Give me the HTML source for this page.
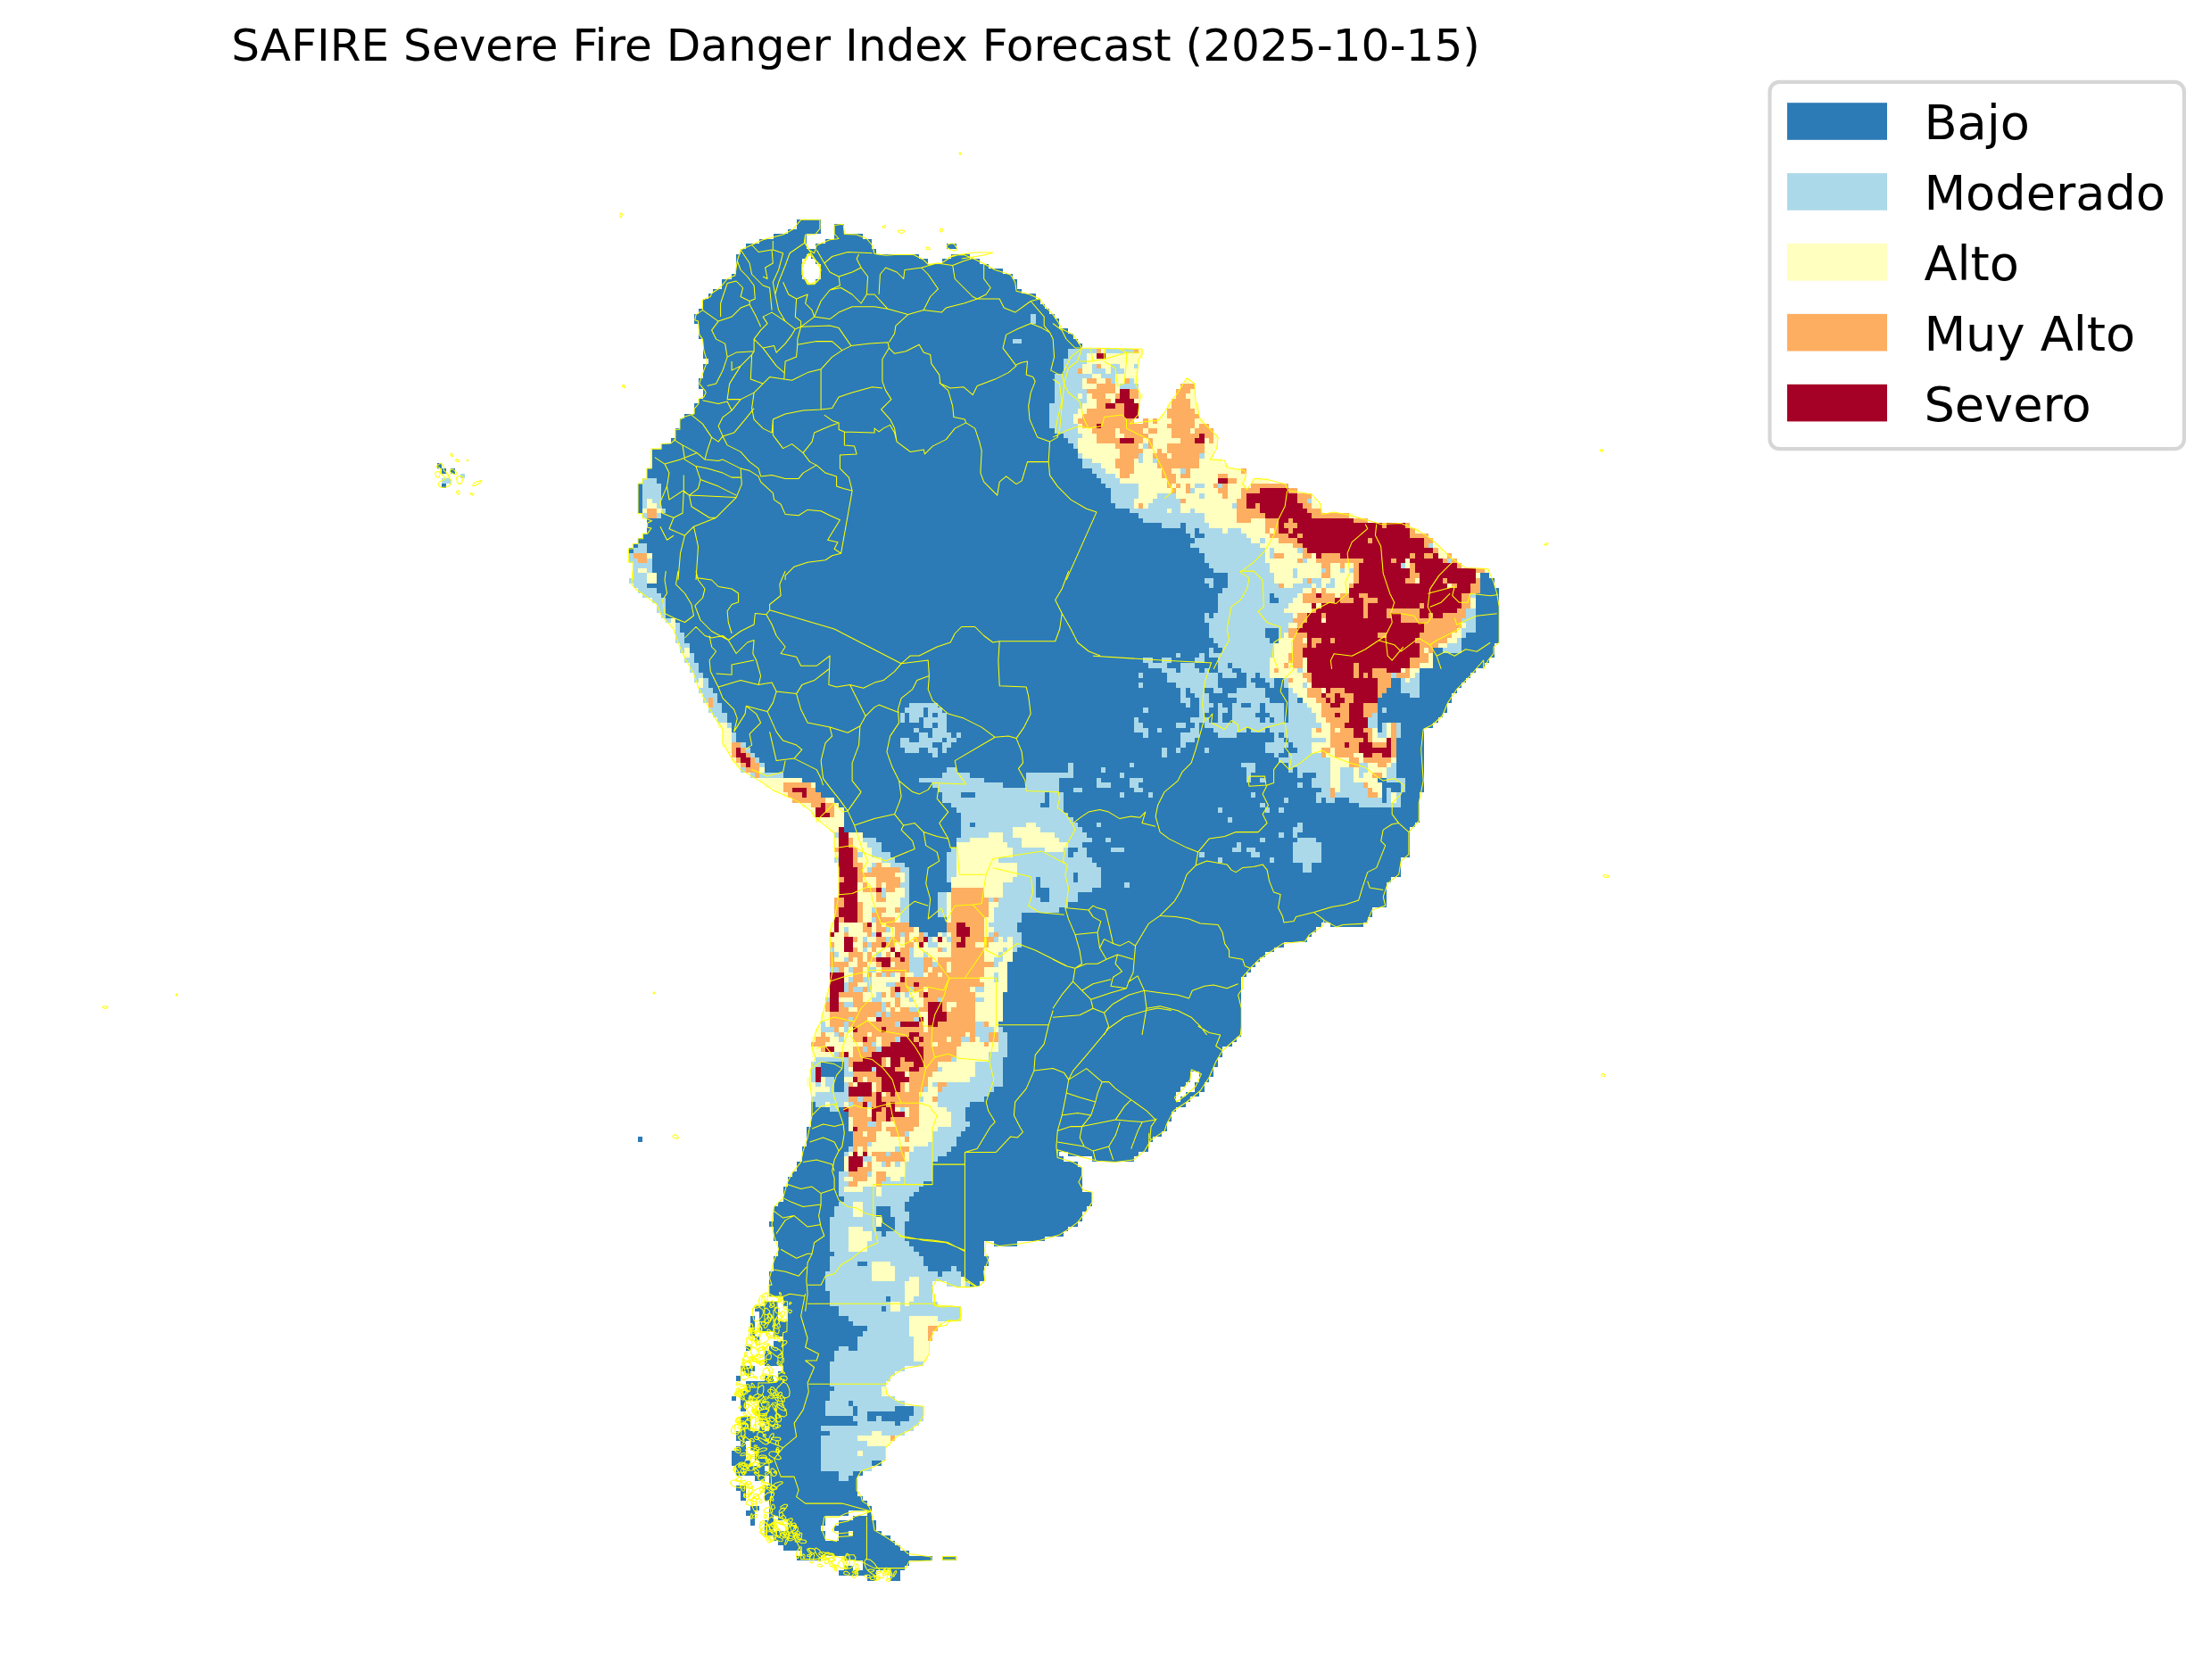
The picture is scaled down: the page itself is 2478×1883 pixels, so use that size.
<!DOCTYPE html>
<html lang="es"><head><meta charset="utf-8"><title>SAFIRE Severe Fire Danger Index Forecast</title>
<style>
html,body{margin:0;padding:0;background:#fff}
body{width:2478px;height:1883px;overflow:hidden}
svg{display:block}
text{font-family:"DejaVu Sans","Liberation Sans",sans-serif;fill:#000}
</style></head><body>
<svg width="2478" height="1883" viewBox="0 0 2478 1883">
<rect width="2478" height="1883" fill="#fff"/>
<g shape-rendering="crispEdges">
<path fill="#2c7bb6" d="M893 246h27v11h-27zM935 251h11v11h-11zM883 257h37v5h-37zM867 262h37v6h-37zM935 262h32v6h-32zM851 268h53v5h-53zM925 268h52v5h-52zM914 273h63v6h-63zM1061 273h11v6h-11zM836 273h68v6h-68zM830 279h152v6h-152zM825 285h79v5h-79zM1066 285h21v5h-21zM909 285h121v5h-121zM1056 290h42v6h-42zM914 290h126v6h-126zM920 296h188v5h-188zM825 290h74v17h-74zM920 301h204v6h-204zM920 307h215v6h-215zM820 307h79v6h-79zM809 313h95v5h-95zM914 313h226v5h-226zM809 318h331v6h-331zM799 324h346v5h-346zM794 329h367v6h-367zM788 335h378v6h-378zM788 341h383v5h-383zM783 346h393v6h-393zM778 352h404v5h-404zM778 357h409v6h-409zM783 363h404v5h-404zM783 368h414v6h-414zM783 374h420v6h-420zM788 380h420v5h-420zM788 385h425v6h-425zM788 391h493v11h-493zM794 402h482v6h-482zM788 408h488v16h-488zM1329 424h5v6h-5zM783 424h493v12h-493zM1323 430h16v6h-16zM788 436h488v5h-488zM1318 436h21v11h-21zM788 441h493v6h-493zM783 447h493v5h-493zM1313 447h26v5h-26zM1308 452h36v12h-36zM778 452h498v12h-498zM1302 464h42v5h-42zM767 464h509v5h-509zM762 469h509v6h-509zM1281 469h69v6h-69zM762 475h593v5h-593zM757 480h603v6h-603zM757 486h608v5h-608zM752 491h613v6h-613zM741 497h624v6h-624zM731 503h629v11h-629zM731 514h639v5h-639zM731 519h645v6h-645zM490 519h5v6h-5zM495 525h5v6h-5zM505 525h5v6h-5zM725 525h672v11h-672zM500 531h5v5h-5zM516 531h5v5h-5zM1402 536h21v6h-21zM720 536h677v6h-677zM495 536h10v6h-10zM715 542h682v5h-682zM495 542h5v5h-5zM1402 542h42v5h-42zM715 547h739v6h-739zM715 553h755v6h-755zM715 559h760v5h-760zM715 564h766v11h-766zM720 575h797v6h-797zM725 581h808v5h-808zM725 586h855v6h-855zM725 592h866v6h-866zM720 598h881v5h-881zM715 603h891v6h-891zM710 609h902v5h-902zM705 614h912v6h-912zM705 620h922v6h-922zM705 626h928v5h-928zM710 631h928v6h-928zM710 637h959v11h-959zM705 648h970v6h-970zM710 654h965v5h-965zM715 659h965v6h-965zM720 665h960v5h-960zM731 670h949v6h-949zM736 676h944v11h-944zM741 687h939v6h-939zM746 693h934v5h-934zM752 698h928v6h-928zM757 704h923v17h-923zM762 721h913v11h-913zM767 732h908v5h-908zM767 737h902v6h-902zM773 743h891v6h-891zM773 749h881v5h-881zM778 754h870v6h-870zM778 760h865v5h-865zM783 765h855v6h-855zM783 771h850v6h-850zM788 777h839v11h-839zM794 788h828v11h-828zM799 799h818v5h-818zM804 804h808v6h-808zM804 810h802v6h-802zM809 816h787v22h-787zM815 838h781v6h-781zM820 844h776v11h-776zM825 855h771v5h-771zM830 860h766v6h-766zM841 866h755v6h-755zM851 872h745v5h-745zM857 877h739v6h-739zM867 883h729v5h-729zM878 888h713v6h-713zM888 894h703v6h-703zM899 900h692v5h-692zM909 905h682v11h-682zM914 916h677v6h-677zM925 922h661v5h-661zM930 927h650v6h-650zM935 933h645v28h-645zM935 961h635v6h-635zM940 967h630v16h-630zM940 983h619v6h-619zM940 989h614v17h-614zM935 1006h619v11h-619zM935 1017h603v11h-603zM935 1028h598v6h-598zM930 1034h551v5h-551zM1491 1034h37v5h-37zM930 1039h545v6h-545zM930 1045h540v5h-540zM930 1050h535v6h-535zM930 1056h509v6h-509zM930 1062h498v5h-498zM930 1067h488v6h-488zM930 1073h482v5h-482zM930 1078h477v6h-477zM930 1084h472v6h-472zM930 1090h467v5h-467zM930 1095h461v17h-461zM925 1112h466v22h-466zM920 1134h471v17h-471zM914 1151h477v11h-477zM909 1162h477v6h-477zM909 1168h472v5h-472zM909 1173h461v12h-461zM914 1185h451v5h-451zM909 1190h456v6h-456zM909 1196h451v5h-451zM1344 1201h16v6h-16zM909 1201h425v6h-425zM1344 1207h11v6h-11zM904 1207h430v6h-430zM904 1213h425v5h-425zM1339 1213h11v11h-11zM909 1218h414v6h-414zM1329 1224h15v5h-15zM909 1224h409v11h-409zM1323 1229h11v6h-11zM909 1235h420v6h-420zM909 1241h409v5h-409zM909 1246h404v11h-404zM909 1257h399v6h-399zM904 1263h404v5h-404zM904 1268h398v6h-398zM715 1274h5v6h-5zM904 1274h388v6h-388zM904 1280h383v5h-383zM899 1285h388v6h-388zM1197 1291h79v5h-79zM899 1291h288v5h-288zM899 1296h293v6h-293zM1224 1296h47v6h-47zM893 1302h315v6h-315zM893 1308h320v5h-320zM888 1313h325v6h-325zM883 1319h330v11h-330zM878 1330h335v6h-335zM878 1336h346v11h-346zM872 1347h352v5h-352zM867 1352h351v6h-351zM867 1358h346v11h-346zM862 1369h346v6h-346zM867 1375h330v5h-330zM867 1380h325v6h-325zM867 1386h304v5h-304zM1114 1391h26v6h-26zM872 1391h231v17h-231zM867 1408h241v11h-241zM867 1419h236v6h-236zM862 1425h241v11h-241zM1061 1436h37v6h-37zM862 1436h183v17h-183zM878 1453h167v6h-167zM857 1459h15v5h-15zM878 1459h173v5h-173zM846 1464h26v6h-26zM883 1464h194v17h-194zM851 1470h21v11h-21zM851 1481h205v5h-205zM851 1486h200v6h-200zM841 1475h5v23h-5zM867 1492h178v6h-178zM846 1498h5v5h-5zM878 1498h167v5h-167zM867 1503h173v6h-173zM862 1509h178v5h-178zM836 1509h5v5h-5zM857 1514h183v12h-183zM857 1526h178v5h-178zM878 1531h136v6h-136zM830 1531h16v6h-16zM836 1537h5v5h-5zM872 1537h131v5h-131zM857 1542h10v6h-10zM872 1542h126v6h-126zM825 1542h5v6h-5zM836 1548h157v11h-157zM830 1559h163v6h-163zM820 1565h5v5h-5zM830 1565h173v5h-173zM851 1570h163v6h-163zM830 1570h6v12h-6zM851 1576h184v6h-184zM846 1582h189v5h-189zM851 1587h184v6h-184zM857 1593h173v5h-173zM830 1587h11v17h-11zM862 1598h162v6h-162zM851 1598h6v6h-6zM825 1604h189v5h-189zM825 1609h178v6h-178zM830 1615h6v6h-6zM841 1615h157v6h-157zM825 1621h11v5h-11zM841 1621h152v5h-152zM820 1626h16v11h-16zM846 1626h147v11h-147zM851 1637h137v6h-137zM820 1637h21v6h-21zM862 1643h115v6h-115zM825 1643h32v6h-32zM825 1649h142v5h-142zM846 1654h11v6h-11zM862 1654h99v11h-99zM825 1665h11v6h-11zM857 1665h104v12h-104zM830 1671h6v11h-6zM857 1677h110v5h-110zM862 1682h110v6h-110zM862 1688h115v5h-115zM841 1688h10v5h-10zM836 1693h10v6h-10zM972 1693h5v6h-5zM862 1693h89v6h-89zM872 1699h53v5h-53zM862 1699h5v5h-5zM956 1699h21v5h-21zM841 1699h5v11h-5zM883 1704h42v6h-42zM940 1704h42v6h-42zM857 1704h10v12h-10zM935 1710h47v6h-47zM883 1710h37v6h-37zM857 1716h68v5h-68zM956 1716h32v5h-32zM940 1716h11v5h-11zM940 1721h58v6h-58zM867 1721h58v6h-58zM872 1727h131v5h-131zM878 1732h131v6h-131zM899 1738h120v6h-120zM1056 1744h16v5h-16zM946 1744h99v5h-99zM893 1744h27v5h-27zM967 1749h52v6h-52zM946 1755h10v5h-10zM967 1755h47v5h-47zM940 1760h42v6h-42zM998 1760h11v12h-11zM972 1766h10v6h-10z"/>
<path fill="#abd9e9" d="M1155 352h6v11h-6zM1135 380h10v5h-10zM1197 391h32v5h-32zM1239 391h32v5h-32zM1197 396h21v6h-21zM1192 402h26v6h-26zM1224 408h5v5h-5zM1192 408h21v5h-21zM1271 408h5v5h-5zM1245 408h10v5h-10zM1192 413h16v6h-16zM1224 413h15v6h-15zM1245 413h15v6h-15zM1182 419h42v5h-42zM1234 419h16v5h-16zM1245 424h5v6h-5zM1266 424h5v6h-5zM1182 424h31v12h-31zM1255 430h21v6h-21zM1182 436h36v5h-36zM1213 441h5v6h-5zM1182 441h26v6h-26zM1182 447h36v5h-36zM1176 452h37v6h-37zM1176 458h32v6h-32zM1176 464h27v11h-27zM1176 475h32v5h-32zM1182 480h26v6h-26zM1192 486h21v5h-21zM1197 491h11v6h-11zM1281 497h6v6h-6zM1203 497h5v6h-5zM1208 508h5v6h-5zM1344 508h6v6h-6zM1276 508h5v11h-5zM1292 514h5v5h-5zM1213 514h11v5h-11zM1213 519h21v6h-21zM1224 525h15v6h-15zM1323 525h6v6h-6zM1229 531h21v5h-21zM516 531h5v5h-5zM720 536h16v6h-16zM495 536h10v6h-10zM1234 536h21v6h-21zM1239 542h37v5h-37zM1339 542h11v5h-11zM1365 542h5v5h-5zM1334 547h5v6h-5zM720 542h21v17h-21zM1245 547h31v12h-31zM1297 553h21v6h-21zM1344 553h6v6h-6zM1245 559h26v5h-26zM1465 559h5v5h-5zM731 559h10v5h-10zM1292 559h31v5h-31zM720 559h5v11h-5zM1250 564h21v6h-21zM736 564h5v6h-5zM1287 564h36v6h-36zM1381 564h5v6h-5zM1334 570h5v5h-5zM1266 570h42v5h-42zM1313 570h10v5h-10zM741 570h5v5h-5zM1276 575h74v6h-74zM736 575h5v6h-5zM720 575h5v6h-5zM1281 581h69v5h-69zM1302 586h21v6h-21zM1329 586h26v6h-26zM1376 592h15v6h-15zM1329 592h10v6h-10zM1344 592h26v6h-26zM1334 598h5v5h-5zM1350 598h47v5h-47zM1339 603h63v6h-63zM1412 603h6v6h-6zM1334 609h78v5h-78zM1601 609h5v5h-5zM715 609h10v5h-10zM710 614h15v6h-15zM1454 614h6v6h-6zM1344 614h74v6h-74zM1423 614h5v12h-5zM705 620h5v6h-5zM1350 620h68v11h-68zM705 626h10v5h-10zM725 626h6v5h-6zM1460 626h5v5h-5zM1622 626h5v5h-5zM1355 631h68v6h-68zM710 631h21v6h-21zM1570 631h5v6h-5zM1502 637h5v5h-5zM725 637h6v5h-6zM1512 637h5v5h-5zM710 637h5v5h-5zM1481 637h5v5h-5zM1360 637h63v5h-63zM1449 637h5v11h-5zM710 642h15v6h-15zM1376 642h52v12h-52zM1460 648h5v6h-5zM1491 648h5v6h-5zM705 648h20v6h-20zM1350 648h10v6h-10zM1470 648h11v6h-11zM710 654h15v5h-15zM1449 654h21v5h-21zM1376 654h57v5h-57zM1355 654h5v5h-5zM1475 654h6v5h-6zM1486 654h10v5h-10zM1370 659h90v6h-90zM715 659h21v6h-21zM1428 665h26v5h-26zM720 665h21v5h-21zM1648 665h6v5h-6zM1365 665h58v11h-58zM731 670h15v6h-15zM1433 670h16v6h-16zM1365 676h79v6h-79zM736 676h10v11h-10zM1365 682h74v5h-74zM1643 682h11v11h-11zM1360 687h89v6h-89zM1350 687h5v6h-5zM741 687h5v6h-5zM746 693h6v5h-6zM1350 693h99v5h-99zM1638 693h16v5h-16zM1643 698h11v6h-11zM1355 698h89v6h-89zM757 698h5v11h-5zM1433 704h11v5h-11zM1638 704h16v5h-16zM1355 704h63v11h-63zM1433 709h6v6h-6zM1638 709h5v6h-5zM757 709h10v12h-10zM1360 715h63v6h-63zM1633 715h5v6h-5zM1622 721h16v5h-16zM762 721h11v5h-11zM1365 721h63v5h-63zM762 726h5v6h-5zM1370 726h58v6h-58zM1617 726h21v6h-21zM1355 726h5v6h-5zM1318 732h5v5h-5zM773 732h5v5h-5zM1355 732h73v5h-73zM1344 732h6v5h-6zM1339 737h11v6h-11zM1281 737h11v6h-11zM1302 737h11v6h-11zM767 737h11v6h-11zM1365 737h58v6h-58zM1287 743h21v6h-21zM1381 743h42v6h-42zM1323 743h16v6h-16zM1365 743h11v6h-11zM773 743h10v11h-10zM1302 749h16v5h-16zM1454 749h6v5h-6zM1323 749h21v5h-21zM1365 749h16v5h-16zM1391 749h32v5h-32zM1350 749h5v5h-5zM1586 754h5v6h-5zM1276 754h5v6h-5zM778 754h10v6h-10zM1559 754h6v6h-6zM1397 754h10v6h-10zM1370 754h16v6h-16zM1412 754h11v6h-11zM1308 754h57v11h-57zM1418 760h10v5h-10zM1570 760h5v5h-5zM778 760h5v5h-5zM1397 760h5v5h-5zM1580 760h11v5h-11zM788 760h6v11h-6zM1439 760h5v11h-5zM1318 765h47v6h-47zM1460 765h5v6h-5zM1276 765h5v6h-5zM1397 765h10v6h-10zM1423 765h5v6h-5zM1570 765h21v12h-21zM1360 771h10v6h-10zM1334 771h16v6h-16zM1386 771h32v6h-32zM1444 771h5v6h-5zM783 771h16v6h-16zM1323 771h6v11h-6zM1376 777h42v5h-42zM1339 777h16v5h-16zM788 777h16v5h-16zM1580 777h11v5h-11zM1444 777h10v11h-10zM1323 782h11v6h-11zM788 782h6v6h-6zM799 782h5v6h-5zM1344 782h11v6h-11zM1386 782h37v6h-37zM799 788h10v5h-10zM1365 788h5v5h-5zM1329 788h5v5h-5zM1444 788h21v5h-21zM1344 788h16v5h-16zM1402 788h10v5h-10zM1381 788h10v5h-10zM1019 788h32v5h-32zM1418 788h21v11h-21zM1549 793h5v6h-5zM1381 793h31v6h-31zM794 793h15v6h-15zM1040 793h16v6h-16zM1344 793h11v6h-11zM1365 793h11v6h-11zM1281 793h6v6h-6zM1444 793h26v6h-26zM1014 793h21v6h-21zM1423 799h16v5h-16zM1040 799h5v5h-5zM1051 799h10v5h-10zM1019 799h16v5h-16zM1381 799h26v5h-26zM799 799h16v5h-16zM1538 799h6v5h-6zM1344 799h6v5h-6zM1009 799h5v11h-5zM1365 799h5v11h-5zM1444 799h31v11h-31zM1334 804h21v6h-21zM1428 804h11v6h-11zM1035 804h26v6h-26zM1381 804h31v6h-31zM1271 804h5v6h-5zM1418 804h5v6h-5zM1019 804h11v6h-11zM804 804h11v6h-11zM1533 804h11v12h-11zM1035 810h10v6h-10zM1318 810h11v6h-11zM1271 810h10v6h-10zM1350 810h131v6h-131zM1051 810h10v6h-10zM815 810h5v6h-5zM1339 810h5v6h-5zM1549 810h5v11h-5zM1045 816h16v5h-16zM1423 816h47v5h-47zM1360 816h37v5h-37zM1402 816h16v5h-16zM1334 816h10v5h-10zM1271 816h16v5h-16zM1024 816h6v5h-6zM1297 816h5v5h-5zM1565 810h5v17h-5zM1365 821h21v6h-21zM1439 821h31v6h-31zM1072 821h5v6h-5zM1428 821h5v6h-5zM1323 821h21v6h-21zM1045 821h21v6h-21zM1030 821h10v6h-10zM1281 821h6v6h-6zM1544 821h10v6h-10zM820 821h5v11h-5zM1444 827h42v5h-42zM1428 827h11v5h-11zM1061 827h11v5h-11zM1009 827h10v5h-10zM1323 827h16v5h-16zM1030 827h26v5h-26zM830 832h6v6h-6zM1449 832h21v6h-21zM1009 832h36v6h-36zM1418 832h26v6h-26zM1323 832h6v6h-6zM1056 832h10v6h-10zM1040 838h11v6h-11zM1014 838h16v6h-16zM1056 838h5v6h-5zM836 838h5v6h-5zM1318 838h5v6h-5zM1418 838h21v6h-21zM1454 838h16v6h-16zM1350 838h5v6h-5zM1302 838h6v11h-6zM841 844h5v5h-5zM1428 844h5v5h-5zM1444 844h37v5h-37zM1045 844h6v5h-6zM846 849h5v6h-5zM1433 849h58v6h-58zM1391 855h16v5h-16zM1559 855h6v5h-6zM851 855h6v5h-6zM1444 855h47v5h-47zM1266 855h5v5h-5zM1523 855h10v11h-10zM1197 855h6v11h-6zM830 860h6v6h-6zM1444 860h5v6h-5zM1234 860h5v6h-5zM1397 860h10v6h-10zM1061 860h11v6h-11zM1454 860h37v6h-37zM1554 860h11v12h-11zM841 866h5v6h-5zM1454 866h6v6h-6zM1255 866h5v6h-5zM851 866h27v6h-27zM1523 866h5v6h-5zM1056 866h31v6h-31zM1150 866h53v6h-53zM1475 866h16v6h-16zM1502 860h15v17h-15zM1397 866h5v11h-5zM1030 872h73v5h-73zM1412 872h6v5h-6zM1266 872h15v5h-15zM1229 872h5v5h-5zM1554 872h21v5h-21zM1470 872h21v11h-21zM1150 872h37v11h-37zM1045 877h79v6h-79zM1454 877h6v6h-6zM1266 877h10v6h-10zM1502 877h26v6h-26zM1229 877h16v6h-16zM1570 877h5v11h-5zM1502 883h31v5h-31zM1271 883h10v5h-10zM1203 883h10v5h-10zM1481 883h10v5h-10zM1051 883h136v5h-136zM1496 888h37v6h-37zM1093 888h78v6h-78zM1056 888h21v6h-21zM1255 888h5v6h-5zM1287 888h5v6h-5zM1475 888h16v6h-16zM1402 888h5v6h-5zM1554 883h5v17h-5zM1565 888h5v12h-5zM1512 894h37v6h-37zM1475 894h6v6h-6zM1056 894h115v6h-115zM1486 894h10v6h-10zM1439 894h5v6h-5zM1176 888h16v17h-16zM1523 900h47v5h-47zM1066 900h100v5h-100zM1412 900h6v5h-6zM1433 905h6v6h-6zM1072 905h120v6h-120zM1418 905h5v6h-5zM1365 905h5v6h-5zM1077 911h120v5h-120zM1077 916h126v6h-126zM1376 916h5v6h-5zM1077 922h10v5h-10zM1093 922h57v5h-57zM1454 922h6v5h-6zM1229 922h5v5h-5zM1161 922h47v5h-47zM1166 927h47v6h-47zM1077 927h58v6h-58zM1449 927h11v6h-11zM1124 933h11v6h-11zM1449 933h5v6h-5zM935 933h5v6h-5zM1077 933h31v6h-31zM1433 933h6v6h-6zM1182 933h36v6h-36zM967 939h15v5h-15zM1412 939h6v5h-6zM1124 939h21v5h-21zM1239 939h6v5h-6zM1454 939h21v5h-21zM1187 939h37v5h-37zM1072 939h15v5h-15zM1197 944h16v6h-16zM1129 944h16v6h-16zM972 944h16v6h-16zM1386 944h5v6h-5zM1245 950h15v5h-15zM1192 950h5v5h-5zM1135 950h36v5h-36zM1397 950h10v5h-10zM977 950h11v5h-11zM1066 950h6v5h-6zM1381 950h10v5h-10zM1208 950h10v5h-10zM1135 955h62v6h-62zM977 955h21v6h-21zM1203 955h15v6h-15zM1402 955h10v6h-10zM1344 955h6v6h-6zM961 955h6v6h-6zM1449 944h32v23h-32zM1365 961h5v6h-5zM935 961h5v6h-5zM1119 961h105v6h-105zM1423 961h5v6h-5zM988 961h15v6h-15zM998 967h16v5h-16zM1140 967h89v5h-89zM977 967h5v5h-5zM1460 967h10v11h-10zM972 972h5v6h-5zM1140 972h94v6h-94zM1009 972h10v6h-10zM1061 955h11v28h-11zM1140 978h63v5h-63zM1208 978h26v11h-26zM1014 978h5v11h-5zM1166 983h37v6h-37zM1135 983h26v6h-26zM1061 983h5v6h-5zM1009 989h10v6h-10zM1260 989h6v6h-6zM1166 989h68v6h-68zM1176 995h48v5h-48zM1124 989h37v17h-37zM1014 995h5v11h-5zM988 995h5v11h-5zM1176 1000h32v11h-32zM1108 1006h6v5h-6zM1119 1006h47v5h-47zM1119 1011h78v6h-78zM977 1017h5v6h-5zM1114 1017h73v6h-73zM1051 1000h10v28h-10zM1009 1006h10v28h-10zM1114 1023h31v11h-31zM977 1028h5v6h-5zM1108 1034h32v5h-32zM993 1039h5v6h-5zM946 1039h5v6h-5zM1114 1039h26v6h-26zM1108 1045h6v5h-6zM1056 1045h5v5h-5zM1009 1045h5v5h-5zM1119 1045h26v5h-26zM1035 1045h5v5h-5zM977 1045h5v5h-5zM1114 1050h5v6h-5zM1124 1050h5v6h-5zM993 1050h5v6h-5zM1040 1050h5v6h-5zM967 1050h5v6h-5zM1061 1050h5v6h-5zM1135 1050h10v12h-10zM972 1056h5v6h-5zM1040 1056h11v6h-11zM1056 1062h5v5h-5zM1124 1062h5v5h-5zM1135 1062h5v5h-5zM967 1062h5v5h-5zM930 1062h5v5h-5zM1019 1062h5v11h-5zM935 1067h5v6h-5zM1035 1067h5v6h-5zM1119 1067h5v6h-5zM982 1067h6v6h-6zM946 1073h5v5h-5zM1114 1073h10v5h-10zM1114 1078h5v6h-5zM1045 1078h6v6h-6zM1019 1073h16v17h-16zM951 1084h5v6h-5zM972 1084h10v6h-10zM930 1084h10v6h-10zM988 1090h5v5h-5zM998 1090h5v5h-5zM1024 1090h11v5h-11zM1114 1090h5v11h-5zM967 1095h10v6h-10zM951 1095h5v6h-5zM993 1101h10v5h-10zM972 1101h5v11h-5zM946 1101h5v11h-5zM1093 1106h10v6h-10zM1019 1106h5v6h-5zM956 1106h11v6h-11zM982 1112h6v6h-6zM1014 1112h5v6h-5zM1003 1112h6v6h-6zM925 1118h5v5h-5zM1093 1118h10v5h-10zM1019 1118h5v5h-5zM977 1118h11v5h-11zM1051 1118h5v5h-5zM946 1123h10v6h-10zM988 1123h5v11h-5zM1019 1129h11v5h-11zM982 1134h6v6h-6zM993 1134h5v6h-5zM1024 1140h6v5h-6zM951 1140h5v5h-5zM1003 1145h6v6h-6zM920 1145h5v6h-5zM1093 1145h10v6h-10zM946 1145h5v12h-5zM1093 1151h21v6h-21zM1119 1151h5v6h-5zM920 1151h15v6h-15zM935 1157h5v5h-5zM1093 1157h15v5h-15zM1077 1162h10v6h-10zM1003 1162h6v6h-6zM940 1162h6v6h-6zM1098 1162h10v6h-10zM977 1168h5v5h-5zM1119 1157h10v22h-10zM982 1173h6v6h-6zM967 1173h5v6h-5zM935 1179h5v6h-5zM1108 1179h21v6h-21zM914 1185h37v5h-37zM1108 1185h16v5h-16zM1066 1185h6v5h-6zM909 1190h11v6h-11zM946 1190h5v11h-5zM1051 1196h5v5h-5zM977 1196h5v5h-5zM1093 1190h31v17h-31zM946 1201h10v6h-10zM909 1196h5v17h-5zM1087 1207h37v6h-37zM925 1207h10v11h-10zM914 1213h6v5h-6zM1061 1213h63v5h-63zM1045 1213h6v5h-6zM946 1213h5v11h-5zM1035 1218h5v6h-5zM930 1218h5v6h-5zM1056 1218h58v6h-58zM914 1224h37v5h-37zM1051 1224h57v5h-57zM1030 1229h5v6h-5zM1051 1229h52v6h-52zM909 1229h42v6h-42zM961 1229h6v6h-6zM1051 1235h36v6h-36zM930 1235h16v6h-16zM972 1235h5v6h-5zM914 1235h11v6h-11zM951 1235h5v6h-5zM1061 1241h21v5h-21zM1009 1241h5v5h-5zM930 1241h10v5h-10zM1066 1246h16v11h-16zM972 1257h10v6h-10zM1066 1257h21v6h-21zM1051 1263h31v5h-31zM1014 1268h5v6h-5zM1045 1268h32v6h-32zM1045 1274h27v6h-27zM972 1280h5v5h-5zM1040 1280h32v5h-32zM1003 1285h6v6h-6zM1024 1285h42v6h-42zM951 1285h5v6h-5zM993 1291h5v5h-5zM946 1291h5v5h-5zM1019 1291h42v5h-42zM967 1296h10v6h-10zM1019 1296h32v6h-32zM1003 1302h6v6h-6zM988 1302h5v6h-5zM1014 1302h31v17h-31zM972 1313h5v6h-5zM940 1313h11v6h-11zM993 1319h5v5h-5zM940 1319h6v5h-6zM1009 1319h36v5h-36zM988 1324h47v6h-47zM940 1324h11v6h-11zM940 1330h6v6h-6zM967 1330h15v6h-15zM988 1330h42v6h-42zM988 1336h36v5h-36zM940 1336h42v5h-42zM946 1341h73v6h-73zM940 1347h16v5h-16zM967 1347h47v5h-47zM998 1352h16v6h-16zM967 1352h15v12h-15zM935 1352h21v12h-21zM998 1358h21v6h-21zM1003 1364h16v5h-16zM930 1364h52v11h-52zM1003 1369h11v11h-11zM967 1375h15v5h-15zM993 1380h21v6h-21zM977 1380h11v6h-11zM977 1386h37v5h-37zM972 1391h47v6h-47zM930 1375h21v28h-21zM972 1397h52v6h-52zM935 1403h95v5h-95zM930 1408h105v6h-105zM972 1414h5v5h-5zM930 1414h31v5h-31zM998 1414h37v5h-37zM930 1419h47v6h-47zM1003 1419h37v6h-37zM1066 1419h6v6h-6zM1056 1425h21v6h-21zM1003 1425h48v6h-48zM925 1425h52v11h-52zM1030 1431h47v5h-47zM1003 1431h16v5h-16zM1082 1436h5v6h-5zM1061 1436h16v6h-16zM925 1436h89v11h-89zM1030 1436h15v17h-15zM930 1447h84v6h-84zM998 1453h16v6h-16zM930 1453h63v6h-63zM1024 1453h21v6h-21zM1009 1459h5v5h-5zM930 1459h68v5h-68zM1019 1459h32v5h-32zM940 1464h48v6h-48zM993 1464h5v6h-5zM1009 1464h68v6h-68zM940 1470h137v5h-137zM951 1475h68v6h-68zM1051 1475h26v6h-26zM956 1481h63v5h-63zM972 1486h47v6h-47zM967 1492h52v6h-52zM961 1498h63v16h-63zM940 1509h11v5h-11zM935 1514h89v12h-89zM930 1526h105v5h-105zM930 1531h84v6h-84zM930 1537h73v5h-73zM930 1542h68v6h-68zM930 1548h63v6h-63zM935 1554h53v5h-53zM930 1559h58v6h-58zM930 1565h73v5h-73zM956 1570h58v6h-58zM925 1570h26v6h-26zM961 1576h42v6h-42zM925 1576h31v11h-31zM1024 1576h11v11h-11zM961 1582h11v5h-11zM982 1587h6v6h-6zM1019 1587h16v6h-16zM956 1587h16v6h-16zM961 1593h42v5h-42zM1009 1593h21v5h-21zM920 1598h104v6h-104zM930 1604h47v5h-47zM988 1604h26v5h-26zM920 1609h41v6h-41zM920 1615h52v6h-52zM920 1621h73v5h-73zM967 1626h26v6h-26zM920 1626h41v6h-41zM920 1632h73v5h-73zM920 1637h57v12h-57zM940 1649h16v5h-16zM940 1654h11v6h-11z"/>
<path fill="#ffffbf" d="M1234 391h5v5h-5zM1276 391h5v5h-5zM1218 396h11v6h-11zM1239 396h42v6h-42zM1218 402h58v6h-58zM1234 408h11v5h-11zM1255 408h16v5h-16zM1213 408h11v11h-11zM1260 413h16v6h-16zM1239 413h6v6h-6zM1224 419h10v5h-10zM1250 419h26v5h-26zM1213 424h5v6h-5zM1329 424h5v6h-5zM1271 424h5v6h-5zM1250 424h10v6h-10zM1229 424h10v6h-10zM1213 430h16v6h-16zM1250 430h5v11h-5zM1334 436h5v5h-5zM1239 441h11v6h-11zM1208 441h5v6h-5zM1276 441h5v6h-5zM1218 441h6v6h-6zM1329 441h10v6h-10zM1218 447h11v5h-11zM1271 447h5v5h-5zM1245 447h5v5h-5zM1334 447h5v5h-5zM1308 452h5v6h-5zM1213 452h16v6h-16zM1334 452h10v6h-10zM1339 458h5v6h-5zM1208 458h10v6h-10zM1203 464h10v5h-10zM1302 464h6v5h-6zM1297 469h16v6h-16zM1339 469h11v6h-11zM1287 469h5v6h-5zM1203 469h5v6h-5zM1339 475h5v5h-5zM1287 475h21v5h-21zM1208 475h5v5h-5zM1297 480h16v6h-16zM1208 480h16v6h-16zM1281 480h6v6h-6zM1334 480h5v6h-5zM1250 480h5v6h-5zM1250 486h10v5h-10zM1213 486h16v5h-16zM1287 486h26v5h-26zM1360 486h5v11h-5zM1208 491h21v6h-21zM1292 491h31v6h-31zM1281 491h6v6h-6zM1350 491h5v6h-5zM1292 497h16v6h-16zM1276 497h5v6h-5zM1350 497h15v6h-15zM1208 497h42v6h-42zM1208 503h47v5h-47zM1302 503h6v5h-6zM1281 503h16v5h-16zM1350 503h10v11h-10zM1308 508h5v6h-5zM1213 508h42v6h-42zM1281 508h11v11h-11zM1271 514h5v5h-5zM1344 514h26v5h-26zM1224 514h26v5h-26zM1344 519h32v6h-32zM1234 519h16v6h-16zM1271 519h26v6h-26zM1271 525h31v6h-31zM1239 525h16v6h-16zM1334 525h57v6h-57zM1313 525h10v6h-10zM500 531h5v5h-5zM1334 531h31v5h-31zM1376 531h21v5h-21zM1318 531h5v5h-5zM1266 531h36v5h-36zM1250 531h5v5h-5zM1255 536h53v6h-53zM1402 536h21v6h-21zM1386 536h11v6h-11zM1318 536h47v6h-47zM1313 542h5v5h-5zM1323 542h6v5h-6zM1350 542h10v5h-10zM1376 542h21v5h-21zM1276 542h32v5h-32zM1334 542h5v5h-5zM1318 547h11v6h-11zM1276 547h37v6h-37zM1339 547h26v6h-26zM1376 547h15v12h-15zM1276 553h21v6h-21zM1318 553h26v6h-26zM1350 553h20v6h-20zM1329 559h57v5h-57zM725 559h6v5h-6zM1271 559h21v5h-21zM1470 559h5v5h-5zM1323 564h58v6h-58zM1470 564h11v6h-11zM1271 564h5v6h-5zM725 564h11v6h-11zM1281 564h6v6h-6zM1308 570h5v5h-5zM736 570h5v5h-5zM1339 570h47v5h-47zM1323 570h11v5h-11zM720 570h5v5h-5zM1512 575h5v6h-5zM1350 575h36v11h-36zM1402 581h16v5h-16zM1355 586h63v6h-63zM1586 592h5v6h-5zM1391 592h27v6h-27zM1370 592h6v6h-6zM1423 592h5v6h-5zM1397 598h26v5h-26zM1418 603h15v6h-15zM1402 603h10v6h-10zM1412 609h37v5h-37zM1606 609h6v5h-6zM1428 614h26v6h-26zM1612 614h5v6h-5zM1418 614h5v12h-5zM725 620h6v6h-6zM1439 620h21v6h-21zM1470 620h5v6h-5zM1612 620h10v6h-10zM1465 626h10v5h-10zM1418 626h36v5h-36zM1575 626h5v11h-5zM1507 631h10v6h-10zM1423 631h58v6h-58zM1491 631h11v11h-11zM715 637h10v5h-10zM1507 637h5v5h-5zM1423 637h26v5h-26zM1664 637h5v5h-5zM1454 637h27v11h-27zM1491 642h26v6h-26zM1428 642h21v6h-21zM1654 642h5v6h-5zM725 642h11v12h-11zM1496 648h21v6h-21zM1481 648h10v6h-10zM1428 648h32v6h-32zM1586 648h5v6h-5zM1439 654h10v5h-10zM1496 654h16v5h-16zM1470 654h5v5h-5zM1481 654h5v5h-5zM1622 654h5v5h-5zM1460 659h10v6h-10zM1486 659h26v6h-26zM1475 659h6v6h-6zM1454 665h6v5h-6zM1496 665h6v5h-6zM1449 670h11v6h-11zM1648 670h6v12h-6zM1475 676h6v6h-6zM1444 676h26v6h-26zM1439 682h31v5h-31zM1449 687h5v6h-5zM1481 693h5v5h-5zM752 693h5v11h-5zM1444 698h10v6h-10zM1638 698h5v6h-5zM1633 704h5v5h-5zM1627 709h11v6h-11zM1439 709h5v6h-5zM1622 715h11v6h-11zM1433 715h16v6h-16zM1460 715h5v6h-5zM1612 721h10v5h-10zM1428 721h21v11h-21zM1596 726h5v6h-5zM767 726h6v11h-6zM1428 732h16v5h-16zM1601 732h5v11h-5zM1423 737h21v6h-21zM1444 743h5v6h-5zM1423 743h16v6h-16zM1591 743h15v6h-15zM1460 737h5v17h-5zM1570 749h5v5h-5zM1423 749h5v5h-5zM1580 749h11v5h-11zM1433 749h21v5h-21zM1423 754h37v6h-37zM1580 754h6v6h-6zM1449 760h16v5h-16zM1575 760h5v5h-5zM783 760h5v11h-5zM1444 765h16v6h-16zM1465 765h5v6h-5zM1449 771h16v6h-16zM1481 771h5v6h-5zM1454 777h11v5h-11zM1460 782h15v6h-15zM1465 788h16v5h-16zM1470 793h11v6h-11zM1475 799h6v5h-6zM1475 804h11v6h-11zM804 810h11v6h-11zM1481 810h10v11h-10zM1496 816h6v5h-6zM1470 816h5v5h-5zM1554 810h5v17h-5zM1538 816h6v11h-6zM1470 821h21v6h-21zM1486 827h5v5h-5zM1538 827h16v5h-16zM809 816h11v22h-11zM1470 832h21v6h-21zM1470 838h11v6h-11zM1491 838h5v6h-5zM815 838h5v6h-5zM1517 844h11v5h-11zM1486 844h10v5h-10zM1559 849h6v6h-6zM820 849h5v6h-5zM1523 849h5v6h-5zM1491 849h21v11h-21zM1533 855h11v5h-11zM1554 855h5v5h-5zM825 855h5v5h-5zM851 860h6v6h-6zM1533 860h21v6h-21zM1517 860h6v12h-6zM1528 866h10v6h-10zM1549 866h5v6h-5zM1517 872h27v5h-27zM851 872h48v5h-48zM1491 860h11v23h-11zM857 877h21v6h-21zM1533 877h16v6h-16zM909 877h5v6h-5zM1538 883h11v5h-11zM867 883h11v5h-11zM1496 883h6v5h-6zM878 888h5v6h-5zM1544 888h5v6h-5zM1559 888h6v12h-6zM925 894h10v6h-10zM935 900h5v5h-5zM899 900h10v5h-10zM935 905h11v11h-11zM909 905h5v11h-5zM914 916h32v6h-32zM925 922h21v5h-21zM1150 922h11v5h-11zM1135 927h31v6h-31zM930 927h10v6h-10zM951 933h16v6h-16zM1135 933h47v6h-47zM1108 933h16v6h-16zM1087 939h37v5h-37zM1145 939h42v5h-42zM956 939h11v5h-11zM935 939h5v11h-5zM1072 944h57v6h-57zM1145 944h52v6h-52zM956 944h16v6h-16zM961 950h16v5h-16zM1171 950h21v5h-21zM1072 950h63v11h-63zM935 955h5v6h-5zM967 955h10v6h-10zM961 961h27v6h-27zM1072 961h47v6h-47zM967 967h10v5h-10zM988 967h10v5h-10zM967 972h5v6h-5zM1072 967h68v16h-68zM1003 978h11v5h-11zM1066 983h69v6h-69zM1009 983h5v6h-5zM967 983h15v6h-15zM1066 989h58v6h-58zM972 989h10v6h-10zM988 989h5v6h-5zM961 989h6v11h-6zM1003 995h11v5h-11zM1103 995h21v11h-21zM993 1000h21v6h-21zM961 1000h21v11h-21zM993 1006h16v5h-16zM1108 1011h11v6h-11zM967 1011h42v6h-42zM993 1017h10v6h-10zM1108 1017h6v11h-6zM988 1023h21v5h-21zM1061 1000h5v34h-5zM967 1017h10v17h-10zM1003 1028h6v6h-6zM1103 1028h11v6h-11zM940 1034h27v5h-27zM988 1034h5v5h-5zM1103 1034h5v5h-5zM977 1034h5v11h-5zM930 1034h5v11h-5zM1024 1039h6v6h-6zM1103 1039h11v6h-11zM940 1039h6v6h-6zM998 1039h5v6h-5zM951 1039h16v6h-16zM951 1045h21v5h-21zM1103 1045h5v5h-5zM988 1045h15v5h-15zM1051 1045h5v5h-5zM1019 1045h11v5h-11zM1061 1045h5v5h-5zM935 1045h11v5h-11zM1129 1050h6v6h-6zM1009 1050h5v6h-5zM1056 1050h5v6h-5zM930 1050h16v6h-16zM1019 1050h5v6h-5zM1119 1050h5v6h-5zM1045 1050h6v6h-6zM972 1050h10v6h-10zM961 1050h6v6h-6zM1003 1056h11v6h-11zM1051 1056h15v6h-15zM1024 1056h6v6h-6zM1093 1056h10v6h-10zM1035 1056h5v6h-5zM1108 1056h27v6h-27zM956 1056h11v6h-11zM935 1056h11v11h-11zM982 1062h16v5h-16zM1129 1062h6v5h-6zM972 1062h5v5h-5zM1003 1062h6v5h-6zM1103 1062h21v5h-21zM1024 1062h27v5h-27zM1061 1062h5v5h-5zM961 1062h6v5h-6zM1103 1067h16v6h-16zM940 1067h11v6h-11zM988 1067h5v6h-5zM998 1067h5v6h-5zM1024 1067h11v6h-11zM977 1067h5v6h-5zM1040 1067h26v6h-26zM1124 1067h11v11h-11zM967 1067h5v11h-5zM1103 1073h11v5h-11zM956 1073h5v5h-5zM1045 1073h6v5h-6zM935 1073h11v5h-11zM1119 1078h10v6h-10zM951 1078h10v6h-10zM998 1078h5v6h-5zM972 1078h10v6h-10zM1061 1078h5v12h-5zM1040 1084h5v6h-5zM1103 1084h26v6h-26zM982 1084h6v6h-6zM946 1084h5v6h-5zM967 1084h5v11h-5zM1103 1090h11v5h-11zM1003 1090h6v5h-6zM946 1090h10v5h-10zM1035 1090h5v5h-5zM1014 1090h10v5h-10zM1051 1090h5v5h-5zM977 1090h5v5h-5zM1119 1090h10v11h-10zM946 1095h5v6h-5zM977 1095h32v6h-32zM1098 1095h16v6h-16zM961 1101h11v5h-11zM977 1101h16v5h-16zM1103 1101h26v11h-26zM1087 1106h6v6h-6zM977 1106h21v6h-21zM1035 1106h5v6h-5zM925 1112h5v6h-5zM1009 1112h5v6h-5zM967 1112h15v6h-15zM993 1112h5v6h-5zM1019 1112h11v6h-11zM1093 1112h31v6h-31zM1009 1118h10v5h-10zM988 1118h15v5h-15zM967 1118h10v5h-10zM1024 1118h11v5h-11zM940 1118h16v5h-16zM1103 1118h21v5h-21zM1061 1123h11v6h-11zM1009 1123h26v6h-26zM998 1123h5v6h-5zM951 1129h10v5h-10zM993 1129h5v5h-5zM1003 1129h6v5h-6zM1061 1129h5v5h-5zM1030 1134h10v6h-10zM1093 1123h31v22h-31zM920 1134h10v11h-10zM972 1140h10v5h-10zM925 1145h5v6h-5zM1108 1145h11v6h-11zM1035 1140h5v17h-5zM1114 1151h5v6h-5zM940 1151h6v6h-6zM951 1151h5v6h-5zM914 1151h6v11h-6zM972 1157h5v5h-5zM1082 1157h5v5h-5zM925 1157h10v5h-10zM946 1157h10v11h-10zM930 1162h10v6h-10zM1093 1162h5v6h-5zM1061 1162h5v6h-5zM909 1162h5v6h-5zM982 1162h6v11h-6zM1108 1168h11v5h-11zM1045 1168h6v5h-6zM925 1168h42v5h-42zM1077 1168h26v5h-26zM1072 1173h47v6h-47zM909 1173h11v6h-11zM935 1173h21v6h-21zM909 1179h26v6h-26zM951 1179h5v6h-5zM1072 1179h36v11h-36zM993 1185h5v11h-5zM1051 1190h42v6h-42zM1056 1196h37v5h-37zM951 1196h5v5h-5zM1045 1201h48v6h-48zM1014 1201h5v6h-5zM946 1207h10v6h-10zM904 1207h5v6h-5zM967 1207h5v6h-5zM1040 1207h47v6h-47zM920 1207h5v11h-5zM904 1213h10v5h-10zM1040 1213h5v5h-5zM956 1213h5v5h-5zM1014 1213h5v11h-5zM977 1213h5v11h-5zM909 1218h21v6h-21zM1040 1218h11v6h-11zM1030 1224h21v5h-21zM909 1224h5v5h-5zM988 1224h5v5h-5zM1035 1229h10v6h-10zM925 1235h5v6h-5zM946 1235h5v6h-5zM1030 1235h21v6h-21zM1003 1241h6v5h-6zM1030 1241h31v5h-31zM972 1241h5v11h-5zM1014 1241h5v11h-5zM1030 1246h36v17h-36zM988 1257h15v6h-15zM951 1252h5v16h-5zM1024 1263h27v5h-27zM988 1263h5v5h-5zM967 1268h5v6h-5zM982 1268h16v6h-16zM1019 1268h26v12h-26zM982 1274h32v6h-32zM977 1280h63v5h-63zM972 1285h31v6h-31zM1019 1285h5v6h-5zM961 1285h6v11h-6zM972 1291h5v5h-5zM951 1291h5v5h-5zM1014 1291h5v11h-5zM977 1296h5v6h-5zM1009 1302h5v6h-5zM977 1302h11v6h-11zM998 1302h5v6h-5zM967 1302h5v6h-5zM946 1296h5v17h-5zM977 1308h37v5h-37zM977 1313h5v6h-5zM993 1313h21v6h-21zM998 1319h11v5h-11zM972 1319h10v5h-10zM946 1319h10v5h-10zM961 1324h21v6h-21zM946 1330h21v6h-21zM982 1330h6v11h-6zM956 1347h11v17h-11zM982 1364h6v11h-6zM951 1375h16v5h-16zM951 1380h26v11h-26zM951 1391h21v12h-21zM977 1414h21v5h-21zM977 1419h26v17h-26zM1019 1431h11v5h-11zM1077 1431h5v11h-5zM1014 1436h16v17h-16zM1014 1453h10v6h-10zM1014 1459h5v5h-5zM998 1459h11v11h-11zM1019 1475h32v6h-32zM1019 1481h37v5h-37zM1019 1486h21v12h-21zM1024 1498h16v28h-16zM988 1554h5v11h-5zM977 1604h11v5h-11zM961 1609h37v6h-37zM972 1615h26v6h-26zM961 1626h6v6h-6z"/>
<path fill="#fdae61" d="M1271 391h5v5h-5zM1229 391h5v5h-5zM1229 408h5v5h-5zM1208 413h5v6h-5zM1218 424h11v6h-11zM1260 424h6v6h-6zM1239 424h6v6h-6zM1323 430h16v6h-16zM1229 430h21v6h-21zM1318 436h16v5h-16zM1218 436h32v5h-32zM1266 436h10v11h-10zM1318 441h11v6h-11zM1224 441h15v6h-15zM1250 441h5v6h-5zM1229 447h16v5h-16zM1313 447h21v11h-21zM1250 452h10v6h-10zM1229 452h10v6h-10zM1218 458h42v6h-42zM1308 458h31v6h-31zM1308 464h36v5h-36zM1213 464h47v5h-47zM1292 469h5v6h-5zM1313 469h26v6h-26zM1281 469h6v6h-6zM1208 469h63v6h-63zM1234 475h53v5h-53zM1213 475h16v5h-16zM1344 475h11v5h-11zM1308 475h31v5h-31zM1255 480h26v6h-26zM1224 480h26v6h-26zM1287 480h10v6h-10zM1313 480h21v6h-21zM1339 480h21v6h-21zM1313 486h31v5h-31zM1229 486h21v5h-21zM1350 486h10v5h-10zM1260 486h27v5h-27zM1229 491h26v6h-26zM1271 491h10v6h-10zM1355 491h5v6h-5zM1323 491h16v6h-16zM1287 491h5v12h-5zM1250 497h26v6h-26zM1308 497h42v11h-42zM1255 503h26v5h-26zM1297 503h5v5h-5zM1255 508h21v6h-21zM1313 508h31v6h-31zM1292 508h16v6h-16zM1297 514h47v11h-47zM1250 514h21v11h-21zM1329 525h5v6h-5zM1302 525h11v6h-11zM1391 525h6v6h-6zM1255 525h16v6h-16zM1365 531h11v5h-11zM1302 531h16v5h-16zM1323 531h11v5h-11zM1255 531h11v5h-11zM1308 536h10v6h-10zM1376 536h10v6h-10zM1308 542h5v5h-5zM1360 542h5v5h-5zM1370 542h6v5h-6zM1318 542h5v5h-5zM1402 542h42v5h-42zM1329 542h5v11h-5zM1444 547h10v6h-10zM1391 547h21v6h-21zM1313 547h5v6h-5zM1365 547h11v6h-11zM1454 553h16v6h-16zM1370 553h6v6h-6zM1391 553h6v6h-6zM1454 559h11v5h-11zM1323 559h6v5h-6zM1386 559h11v11h-11zM1407 564h5v6h-5zM1276 564h5v6h-5zM1460 564h10v6h-10zM1465 570h16v5h-16zM1386 570h26v5h-26zM725 570h11v11h-11zM1386 575h32v6h-32zM1470 575h42v6h-42zM1444 581h5v5h-5zM1517 581h16v5h-16zM1386 581h16v5h-16zM1418 581h15v11h-15zM1439 586h15v6h-15zM1549 586h5v6h-5zM1575 586h5v6h-5zM1428 592h5v6h-5zM1444 592h5v6h-5zM1580 592h6v6h-6zM1418 592h5v6h-5zM1423 598h21v5h-21zM1454 598h6v5h-6zM1580 598h21v5h-21zM1596 603h10v6h-10zM1533 603h5v6h-5zM1433 603h21v6h-21zM1596 609h5v5h-5zM1449 609h11v5h-11zM1606 614h6v6h-6zM1460 614h5v6h-5zM1460 620h10v6h-10zM710 620h15v6h-15zM1596 620h10v6h-10zM1580 620h6v6h-6zM1622 620h5v6h-5zM1428 620h11v6h-11zM1481 620h21v6h-21zM1617 626h5v5h-5zM1627 626h6v5h-6zM715 626h10v5h-10zM1454 626h6v5h-6zM1559 626h6v5h-6zM1475 626h53v5h-53zM1502 631h5v6h-5zM1481 631h10v6h-10zM1633 631h5v6h-5zM1580 631h6v11h-6zM1654 637h10v5h-10zM1486 637h5v5h-5zM1481 642h10v6h-10zM1580 642h11v6h-11zM1517 631h6v23h-6zM1617 648h5v6h-5zM1465 648h5v6h-5zM1575 648h11v6h-11zM1654 648h5v6h-5zM1433 654h6v5h-6zM1512 654h5v5h-5zM1627 654h6v5h-6zM1648 654h11v11h-11zM1481 659h5v6h-5zM1470 659h5v6h-5zM1523 665h10v5h-10zM1481 665h15v5h-15zM1460 665h15v5h-15zM1502 665h10v5h-10zM1460 670h36v6h-36zM1528 670h16v6h-16zM1502 670h15v6h-15zM1638 665h10v17h-10zM1591 676h5v6h-5zM1633 682h10v5h-10zM1554 682h37v5h-37zM1470 682h5v5h-5zM1528 676h5v17h-5zM1454 687h11v6h-11zM1601 687h5v6h-5zM1617 687h26v6h-26zM1554 687h5v6h-5zM1570 687h21v6h-21zM1481 687h5v6h-5zM1449 693h16v5h-16zM1570 693h68v5h-68zM1596 698h42v6h-42zM1454 698h6v6h-6zM1596 704h37v5h-37zM1444 704h10v5h-10zM1444 709h21v6h-21zM1544 709h10v6h-10zM1591 709h36v6h-36zM1470 715h11v6h-11zM1491 715h5v6h-5zM1586 715h36v6h-36zM1449 715h11v6h-11zM1449 721h16v5h-16zM1591 721h21v5h-21zM1470 721h5v5h-5zM1601 726h5v6h-5zM1591 726h5v6h-5zM1449 726h11v6h-11zM1591 732h10v5h-10zM1444 732h16v11h-16zM1580 737h21v6h-21zM1580 743h11v6h-11zM1439 743h5v6h-5zM1449 743h11v6h-11zM1538 749h16v5h-16zM1428 749h5v5h-5zM1575 749h5v5h-5zM1517 743h6v17h-6zM1460 754h10v6h-10zM1528 754h5v6h-5zM1565 754h15v6h-15zM1538 754h21v6h-21zM1444 760h5v5h-5zM1465 760h5v5h-5zM1544 760h15v11h-15zM1491 771h16v6h-16zM1544 771h10v6h-10zM1465 771h16v11h-16zM1486 777h10v5h-10zM1502 777h15v5h-15zM1544 777h5v5h-5zM1507 782h10v6h-10zM1491 782h5v6h-5zM1475 782h11v6h-11zM794 782h5v11h-5zM1481 788h10v5h-10zM1502 788h10v5h-10zM1528 788h16v11h-16zM1481 793h31v6h-31zM1528 799h10v5h-10zM1481 799h15v5h-15zM1502 799h10v5h-10zM1486 804h26v6h-26zM1491 810h16v6h-16zM1491 816h5v5h-5zM1502 816h15v5h-15zM1528 816h10v5h-10zM1475 816h6v5h-6zM1491 821h26v6h-26zM1533 821h5v11h-5zM1491 827h37v5h-37zM1512 832h11v6h-11zM1538 832h16v6h-16zM1491 832h16v6h-16zM820 832h10v6h-10zM830 838h6v6h-6zM1481 838h10v6h-10zM1496 838h27v6h-27zM1559 810h6v39h-6zM820 838h5v11h-5zM1496 844h21v5h-21zM836 844h5v5h-5zM1538 844h11v5h-11zM1481 844h5v5h-5zM841 849h5v6h-5zM825 849h5v6h-5zM1528 849h31v6h-31zM1512 849h11v11h-11zM830 855h6v5h-6zM841 855h10v5h-10zM1544 855h10v5h-10zM836 860h15v6h-15zM846 866h5v6h-5zM1538 866h11v6h-11zM878 877h31v6h-31zM1528 877h5v6h-5zM904 883h10v5h-10zM878 883h10v5h-10zM1533 883h5v5h-5zM1491 883h5v11h-5zM883 888h16v6h-16zM904 888h16v6h-16zM1533 888h11v6h-11zM888 894h37v6h-37zM909 900h11v5h-11zM925 900h10v11h-10zM930 911h5v5h-5zM951 939h5v11h-5zM935 950h5v5h-5zM956 950h5v17h-5zM982 967h6v5h-6zM956 967h11v5h-11zM977 972h32v6h-32zM961 972h6v6h-6zM961 978h42v5h-42zM940 983h6v6h-6zM982 983h27v6h-27zM961 983h6v6h-6zM982 989h6v6h-6zM967 989h5v6h-5zM993 989h16v6h-16zM993 995h10v5h-10zM967 995h15v5h-15zM1066 995h37v11h-37zM982 1000h6v6h-6zM982 1006h11v5h-11zM1114 1006h5v5h-5zM935 1006h11v11h-11zM982 1017h11v6h-11zM1003 1017h6v6h-6zM1066 1006h42v22h-42zM935 1017h5v11h-5zM977 1023h11v5h-11zM961 1011h6v23h-6zM1066 1028h37v6h-37zM982 1028h21v6h-21zM940 1028h6v6h-6zM1082 1034h21v5h-21zM982 1034h6v5h-6zM967 1034h5v5h-5zM993 1034h26v5h-26zM1061 1034h11v11h-11zM982 1039h11v6h-11zM967 1039h10v6h-10zM1003 1039h21v6h-21zM1087 1039h16v11h-16zM1114 1045h5v5h-5zM1030 1045h5v5h-5zM972 1045h5v5h-5zM1003 1045h6v5h-6zM1066 1045h6v5h-6zM946 1045h5v5h-5zM1014 1045h5v11h-5zM1082 1050h32v6h-32zM998 1050h11v6h-11zM1066 1050h11v6h-11zM982 1050h11v6h-11zM956 1050h5v6h-5zM1024 1050h11v6h-11zM1082 1056h11v6h-11zM1014 1056h10v6h-10zM1103 1056h5v6h-5zM967 1056h5v6h-5zM977 1056h11v6h-11zM993 1056h10v6h-10zM930 1056h5v6h-5zM1066 1056h6v6h-6zM956 1062h5v5h-5zM1051 1062h5v5h-5zM977 1062h5v5h-5zM1066 1062h37v11h-37zM1009 1062h10v11h-10zM972 1067h5v6h-5zM993 1067h5v6h-5zM951 1067h16v6h-16zM930 1067h5v11h-5zM998 1073h11v5h-11zM951 1073h5v5h-5zM972 1073h10v5h-10zM1014 1073h5v5h-5zM1051 1073h52v5h-52zM961 1073h6v5h-6zM1035 1073h10v11h-10zM930 1078h21v6h-21zM982 1078h6v6h-6zM1066 1078h48v6h-48zM1051 1078h10v6h-10zM1003 1078h16v6h-16zM961 1078h11v6h-11zM1045 1084h16v6h-16zM1035 1084h5v6h-5zM940 1084h6v6h-6zM1066 1084h37v6h-37zM988 1084h31v6h-31zM1040 1090h11v5h-11zM1009 1090h5v5h-5zM972 1090h5v5h-5zM993 1090h5v5h-5zM1056 1090h47v5h-47zM982 1090h6v5h-6zM956 1084h11v17h-11zM1014 1095h84v6h-84zM951 1101h10v5h-10zM1030 1101h73v5h-73zM1003 1101h21v5h-21zM951 1106h5v6h-5zM1024 1106h11v6h-11zM1009 1106h10v6h-10zM967 1106h5v6h-5zM1040 1106h47v6h-47zM998 1106h5v12h-5zM940 1112h27v6h-27zM1030 1112h5v6h-5zM988 1112h5v6h-5zM1040 1112h53v6h-53zM956 1118h11v5h-11zM1056 1118h37v5h-37zM1035 1118h16v5h-16zM1003 1118h6v11h-6zM993 1123h5v6h-5zM940 1123h6v6h-6zM1035 1123h5v6h-5zM1072 1123h21v6h-21zM956 1123h32v6h-32zM925 1123h5v11h-5zM1056 1123h5v11h-5zM940 1129h11v5h-11zM1066 1129h27v5h-27zM998 1129h5v5h-5zM1009 1129h10v5h-10zM1030 1129h10v5h-10zM961 1129h27v5h-27zM930 1134h52v6h-52zM988 1134h5v6h-5zM998 1134h32v6h-32zM1061 1134h32v11h-32zM930 1140h21v5h-21zM988 1140h36v5h-36zM956 1140h16v5h-16zM1030 1145h5v6h-5zM930 1145h16v6h-16zM1051 1145h42v6h-42zM951 1145h52v6h-52zM1103 1145h5v6h-5zM935 1151h5v6h-5zM993 1151h42v6h-42zM961 1151h27v6h-27zM1040 1151h53v6h-53zM1030 1157h52v5h-52zM920 1157h5v5h-5zM940 1157h6v5h-6zM956 1157h16v5h-16zM977 1157h42v5h-42zM1087 1157h6v11h-6zM1108 1157h11v11h-11zM1024 1162h6v6h-6zM1066 1162h11v6h-11zM1035 1162h26v6h-26zM988 1162h15v6h-15zM972 1162h10v6h-10zM914 1162h16v6h-16zM956 1162h11v6h-11zM988 1168h10v5h-10zM909 1168h16v5h-16zM967 1168h10v5h-10zM1051 1168h26v5h-26zM1030 1168h15v5h-15zM1103 1168h5v5h-5zM972 1173h10v6h-10zM920 1173h5v6h-5zM956 1173h11v6h-11zM1035 1173h37v12h-37zM940 1179h6v6h-6zM956 1179h21v6h-21zM951 1185h16v5h-16zM1035 1185h31v5h-31zM1009 1185h5v5h-5zM988 1185h5v11h-5zM1009 1190h15v6h-15zM1035 1190h16v6h-16zM951 1190h5v6h-5zM1030 1196h21v5h-21zM1003 1196h16v5h-16zM956 1201h26v6h-26zM1019 1201h26v6h-26zM972 1207h16v6h-16zM961 1207h6v6h-6zM1019 1207h21v11h-21zM951 1213h5v5h-5zM1051 1213h10v5h-10zM1009 1213h5v11h-5zM982 1213h6v11h-6zM1051 1218h5v6h-5zM1019 1218h16v6h-16zM993 1224h5v5h-5zM977 1224h5v5h-5zM1003 1224h27v5h-27zM951 1229h10v6h-10zM1045 1229h6v6h-6zM967 1229h15v6h-15zM988 1229h42v6h-42zM993 1235h5v6h-5zM977 1235h5v6h-5zM956 1235h11v6h-11zM1003 1235h27v6h-27zM988 1241h5v5h-5zM1019 1241h11v11h-11zM951 1241h21v11h-21zM982 1246h11v11h-11zM998 1252h32v5h-32zM956 1252h21v5h-21zM982 1257h6v6h-6zM1003 1257h27v6h-27zM956 1257h16v6h-16zM993 1263h31v5h-31zM961 1263h27v5h-27zM998 1268h16v6h-16zM972 1268h10v6h-10zM956 1268h11v6h-11zM956 1274h26v6h-26zM1014 1274h5v6h-5zM956 1280h16v5h-16zM1009 1285h10v6h-10zM956 1285h5v6h-5zM967 1285h5v6h-5zM977 1291h16v5h-16zM998 1291h16v5h-16zM982 1296h32v6h-32zM972 1302h5v6h-5zM993 1302h5v6h-5zM961 1308h16v5h-16zM951 1313h21v6h-21zM982 1313h11v11h-11zM956 1319h16v5h-16zM951 1324h10v6h-10zM982 1324h6v6h-6zM1040 1486h11v6h-11zM1040 1492h5v11h-5zM998 1609h5v6h-5z"/>
<path fill="#a50026" d="M1229 396h10v6h-10zM1255 436h11v11h-11zM1250 447h21v5h-21zM1239 452h11v6h-11zM1260 452h16v17h-16zM1229 475h5v5h-5zM1344 486h6v5h-6zM1339 491h11v6h-11zM1255 491h16v6h-16zM1365 536h11v6h-11zM1412 547h32v6h-32zM1397 553h57v11h-57zM1412 564h48v6h-48zM1397 564h10v6h-10zM1412 570h53v5h-53zM1418 575h52v6h-52zM1433 581h11v5h-11zM1449 581h68v5h-68zM1433 586h6v6h-6zM1454 586h95v6h-95zM1554 586h21v6h-21zM1433 592h11v6h-11zM1449 592h131v6h-131zM1444 598h10v5h-10zM1460 598h120v5h-120zM1454 603h79v6h-79zM1538 603h58v6h-58zM1460 609h136v5h-136zM1465 614h141v6h-141zM1586 620h10v6h-10zM1606 620h6v6h-6zM1475 620h6v6h-6zM1502 620h78v6h-78zM1565 626h10v5h-10zM1580 626h37v5h-37zM1528 626h31v5h-31zM1586 631h47v6h-47zM1523 631h47v6h-47zM1586 637h68v5h-68zM1523 637h57v11h-57zM1591 642h63v6h-63zM1523 648h52v6h-52zM1591 648h26v6h-26zM1622 648h32v6h-32zM1517 654h105v5h-105zM1633 654h15v5h-15zM1512 659h136v6h-136zM1475 665h6v5h-6zM1512 665h11v5h-11zM1533 665h105v5h-105zM1517 670h11v6h-11zM1544 670h94v6h-94zM1496 670h6v6h-6zM1596 676h42v6h-42zM1533 676h58v6h-58zM1481 676h47v6h-47zM1470 676h5v6h-5zM1475 682h53v5h-53zM1591 682h42v5h-42zM1533 682h21v11h-21zM1559 687h11v6h-11zM1606 687h11v6h-11zM1486 687h42v6h-42zM1591 687h10v6h-10zM1465 687h16v11h-16zM1486 693h84v5h-84zM1460 698h136v6h-136zM1454 704h142v5h-142zM1554 709h37v6h-37zM1465 709h79v6h-79zM1496 715h90v6h-90zM1481 715h10v6h-10zM1465 715h5v11h-5zM1475 721h116v5h-116zM1460 726h131v11h-131zM1465 737h115v6h-115zM1523 743h57v6h-57zM1465 743h52v11h-52zM1554 749h16v5h-16zM1523 749h15v5h-15zM1470 754h47v6h-47zM1523 754h5v6h-5zM1533 754h5v6h-5zM1470 760h74v11h-74zM1486 771h5v6h-5zM1507 771h37v6h-37zM1481 777h5v5h-5zM1496 777h6v5h-6zM1517 777h27v11h-27zM1486 782h5v6h-5zM1496 782h11v6h-11zM1491 788h11v5h-11zM1512 788h16v16h-16zM1496 799h6v5h-6zM1512 804h21v6h-21zM1507 810h26v6h-26zM1517 816h11v5h-11zM1517 821h16v6h-16zM1528 827h5v5h-5zM1554 827h5v11h-5zM1523 832h15v6h-15zM1507 832h5v6h-5zM1523 838h36v6h-36zM825 838h5v6h-5zM825 844h11v5h-11zM1528 844h10v5h-10zM1549 844h10v5h-10zM830 849h11v6h-11zM836 855h5v5h-5zM888 883h16v5h-16zM899 888h5v6h-5zM920 900h5v5h-5zM914 905h11v6h-11zM914 911h16v5h-16zM940 927h6v6h-6zM940 933h11v17h-11zM940 950h16v22h-16zM940 972h21v11h-21zM946 983h15v6h-15zM982 995h6v5h-6zM940 989h21v17h-21zM946 1006h15v11h-15zM940 1017h21v11h-21zM946 1028h15v6h-15zM972 1034h5v5h-5zM1072 1034h10v5h-10zM935 1028h5v17h-5zM1072 1039h15v11h-15zM982 1045h6v5h-6zM930 1045h5v5h-5zM1051 1050h5v6h-5zM1035 1050h5v6h-5zM1077 1050h5v6h-5zM1072 1056h10v6h-10zM988 1056h5v6h-5zM1030 1056h5v6h-5zM946 1050h10v17h-10zM998 1062h5v5h-5zM1003 1067h6v6h-6zM982 1073h16v5h-16zM1009 1073h5v5h-5zM988 1078h10v6h-10zM1009 1095h5v6h-5zM1024 1101h6v5h-6zM930 1090h16v22h-16zM1003 1106h6v6h-6zM1035 1112h5v6h-5zM930 1112h10v22h-10zM1040 1123h16v11h-16zM1040 1134h21v11h-21zM982 1140h6v5h-6zM1030 1140h5v5h-5zM1040 1145h11v6h-11zM1009 1145h21v6h-21zM956 1151h5v6h-5zM988 1151h5v6h-5zM1019 1157h11v5h-11zM1009 1162h15v6h-15zM967 1162h5v6h-5zM1030 1162h5v6h-5zM998 1168h32v5h-32zM988 1173h47v6h-47zM925 1173h10v6h-10zM946 1179h5v6h-5zM977 1179h58v6h-58zM1014 1185h21v5h-21zM967 1185h21v5h-21zM998 1185h11v11h-11zM956 1190h32v6h-32zM1024 1190h11v6h-11zM1019 1196h11v5h-11zM982 1196h21v5h-21zM956 1196h21v5h-21zM982 1201h32v6h-32zM914 1196h6v17h-6zM956 1207h5v6h-5zM988 1207h31v6h-31zM961 1213h16v5h-16zM988 1213h21v11h-21zM951 1218h26v11h-26zM998 1224h5v5h-5zM982 1224h6v11h-6zM982 1235h11v6h-11zM967 1235h5v6h-5zM998 1235h5v6h-5zM946 1241h5v5h-5zM993 1241h10v5h-10zM977 1241h11v5h-11zM993 1246h21v6h-21zM977 1246h5v11h-5zM993 1252h5v5h-5zM956 1263h5v5h-5zM956 1291h5v5h-5zM967 1291h5v5h-5zM951 1296h16v12h-16zM951 1308h10v5h-10z"/>
</g>
<path fill="none" stroke="#ffff00" stroke-width="1.05" stroke-linejoin="round" d="M710.0,649.9 709.4,640.0 709.4,630.0 704.4,630.0 704.4,615.0 709.4,615.0 709.4,609.4 715.0,609.4 715.0,603.8 720.6,603.8 720.6,598.1 725.6,598.1 730.0,591.9 725.6,591.2 725.6,586.2 730.6,583.8 720.0,580.0 720.0,575.6 715.0,575.6 715.0,541.9 720.0,541.9 720.0,536.9 725.0,536.9 725.0,525.0 730.0,525.0 730.0,503.1 741.2,503.1 741.2,497.5 751.9,496.9 756.9,492.5 756.9,481.2 761.9,481.2 761.9,470.6 767.5,466.9 778.1,463.8 778.1,458.1 783.1,452.5 783.1,446.9 788.8,445.0 791.2,440.0 790.0,437.6 783.8,430.1 788.8,415.1 792.6,405.1 788.8,392.6 787.5,380.1 783.8,375.1 782.5,360.1 778.8,358.8 780.0,352.6 787.5,347.6 787.5,336.3 796.3,332.5 797.6,328.8 805.1,323.8 810.1,318.8 815.1,312.5 823.8,308.8 826.3,292.5 830.1,280.0 842.6,274.5 855.1,268.8 877.6,263.0 888.8,257.0 897.6,246.3 918.9,246.3 918.9,256.3 913.9,262.5 902.6,263.3 901.4,271.3 906.4,280.0 912.6,283.8 915.1,275.0 930.1,268.8 940.1,267.5 935.1,262.0 935.1,252.5 945.1,251.3 946.4,262.5 960.1,263.0 971.4,267.5 977.6,275.0 980.1,284.5 992.6,286.3 1002.6,285.5 1023.9,285.5 1035.2,291.3 1040.2,296.3 1055.2,295.0 1062.7,290.0 1067.7,286.3 1080.2,285.5 1090.2,289.5 1102.7,295.5 1115.2,302.5 1132.7,308.0 1137.7,316.3 1139.0,326.3 1154.0,330.0 1165.2,335.0 1170.2,342.6 1180.2,352.6 1185.2,360.1 1190.2,368.8 1202.7,375.1 1207.7,382.6 1212.7,390.1 1212.8,390.0 1280.0,391.3 1280.0,397.0 1276.3,402.5 1273.0,430.0 1278.0,442.6 1275.5,465.1 1266.3,475.1 1280.0,473.1 1297.6,471.3 1305.1,462.6 1312.6,450.1 1320.1,440.0 1330.1,423.8 1338.8,430.0 1340.1,450.1 1345.1,470.1 1355.1,480.1 1365.1,490.1 1363.8,502.6 1356.3,515.1 1372.6,516.3 1375.1,523.8 1395.1,527.6 1396.3,533.1 1392.6,542.6 1397.6,548.8 1406.4,536.3 1420.1,537.6 1440.1,542.6 1443.9,550.1 1455.1,551.4 1470.1,553.9 1480.1,565.1 1481.4,576.4 1495.1,573.9 1512.7,577.6 1530.2,582.6 1547.7,587.6 1570.2,586.4 1590.2,595.1 1605.2,605.1 1627.7,626.4 1642.7,636.4 1667.7,637.6 1674.0,652.6 1677.7,665.2 1680.2,680.2 1680.2,720.2 1674.0,725.2 1674.0,732.7 1667.7,740.2 1662.7,749.9 1662.7,740.0 1647.7,757.5 1632.7,772.5 1622.7,787.5 1616.4,802.5 1605.2,812.5 1595.2,817.5 1592.7,840.0 1595.2,875.1 1590.2,900.1 1590.2,920.1 1578.9,932.6 1578.9,957.6 1570.2,965.1 1567.7,980.1 1555.2,990.1 1550.2,1005.1 1552.7,1015.1 1537.7,1020.1 1531.4,1035.1 1505.1,1036.4 1497.6,1038.9 1483.9,1031.4 1482.6,1037.6 1467.6,1047.6 1462.6,1055.1 1437.6,1057.6 1422.6,1067.6 1411.4,1075.2 1401.4,1085.2 1392.6,1095.2 1392.6,1107.7 1387.6,1115.2 1391.3,1130.2 1391.3,1159.9 1391.4,1150.0 1390.2,1160.0 1370.2,1177.5 1362.7,1190.0 1355.2,1207.5 1345.2,1222.5 1330.2,1235.0 1315.2,1245.0 1307.6,1260.0 1305.1,1267.6 1290.1,1277.6 1282.6,1290.1 1270.1,1300.1 1250.1,1302.6 1230.1,1301.3 1215.1,1297.6 1197.6,1292.6 1185.1,1288.8 1185.1,1297.6 1202.6,1302.6 1212.6,1308.8 1212.6,1317.6 1208.9,1325.1 1213.9,1333.8 1223.9,1336.3 1223.9,1347.6 1217.6,1357.6 1207.6,1370.1 1197.6,1377.6 1187.6,1383.9 1166.3,1390.1 1142.6,1393.9 1120.1,1396.4 1105.1,1391.4 1103.8,1402.6 1107.6,1412.6 1102.6,1425.1 1103.8,1435.1 1097.6,1441.4 1087.5,1442.6 1072.5,1442.6 1050.0,1433.9 1045.0,1442.6 1047.5,1462.6 1062.5,1463.9 1076.3,1465.1 1077.5,1475.1 1073.8,1480.1 1062.5,1480.1 1055.0,1483.9 1046.3,1492.7 1041.3,1505.2 1041.3,1517.7 1036.3,1525.2 1033.8,1530.2 1012.5,1533.9 998.8,1542.7 992.5,1552.7 993.8,1562.7 1005.0,1569.9 1010.1,1572.6 1022.6,1575.1 1035.1,1576.3 1035.1,1586.3 1030.1,1595.1 1020.1,1602.6 1005.1,1610.1 992.6,1622.6 992.6,1636.3 980.1,1643.8 965.1,1648.8 960.1,1657.6 960.1,1670.1 965.1,1677.6 966.4,1682.6 972.6,1686.4 976.4,1693.9 980.1,1715.1 992.6,1722.6 1007.6,1732.6 1017.6,1741.4 1043.9,1745.1 1043.9,1748.9 1018.9,1750.1 1015.1,1757.6 980.1,1757.6 965.1,1750.1 947.6,1747.6 930.1,1742.6 915.1,1747.6 897.6,1747.6 897.6,1737.6 890.1,1722.6 882.6,1705.1 865.1,1697.6 862.6,1690.1 865.1,1670.1 863.8,1650.1 861.9,1649.9 861.9,1640.0 852.5,1640.0 847.5,1635.0 847.5,1627.5 841.2,1625.0 841.2,1615.0 835.0,1610.0 835.0,1602.5 830.0,1597.5 830.0,1587.5 841.2,1587.5 841.2,1601.2 855.0,1605.0 861.9,1602.5 861.9,1592.5 851.2,1590.0 851.2,1581.2 861.9,1577.5 861.9,1571.2 855.0,1570.0 836.2,1570.0 830.0,1565.0 830.0,1558.8 836.2,1555.0 850.0,1555.0 850.0,1550.0 862.5,1550.0 871.9,1547.5 871.9,1540.0 877.5,1537.5 877.5,1531.2 871.9,1527.5 871.9,1520.0 877.5,1515.0 877.5,1493.8 881.9,1492.5 882.5,1458.8 877.5,1458.8 877.5,1453.1 861.9,1453.1 861.9,1440.0 865.0,1440.2 862.5,1432.7 867.5,1412.7 872.6,1400.2 867.5,1385.2 865.0,1372.6 867.5,1352.6 877.6,1342.6 882.6,1325.1 887.6,1315.1 897.6,1302.6 900.1,1290.1 905.1,1275.1 910.1,1250.1 910.1,1232.6 907.6,1212.6 908.8,1197.6 913.8,1185.1 910.1,1175.1 913.8,1157.5 920.1,1145.0 925.1,1125.0 930.1,1102.5 932.6,1090.0 932.6,1075.0 930.1,1050.0 930.1,1059.9 930.1,1045.2 935.1,1030.2 940.1,1002.7 940.1,972.7 935.1,950.1 935.1,933.9 927.6,927.6 915.1,917.6 908.9,908.9 895.1,898.9 880.1,891.4 867.6,886.4 855.1,877.6 842.6,870.1 830.1,862.6 820.1,850.1 810.1,832.6 810.1,817.6 800.1,802.6 791.3,787.6 782.5,770.1 777.5,755.1 767.5,737.5 760.0,720.0 755.0,705.0 741.3,690.0 736.3,677.5 721.3,666.3 713.8,661.3 708.0,655.0 709.0,640.0 710.0,649.9M906.4,283.8 913.9,291.3 919.6,297.5 918.9,312.5 912.6,318.8 905.1,318.8 898.8,307.5 898.8,296.3 906.4,283.8M1335.2,1198.8 1346.4,1203.8 1340.2,1217.5 1328.9,1227.5 1318.9,1235.0 1316.4,1230.0 1326.4,1220.0 1333.9,1210.0 1335.2,1198.8M923.8,1700.1 940.1,1700.1 947.6,1696.4 957.6,1693.9 976.4,1693.9 966.4,1697.6 957.6,1700.1 950.1,1705.1 937.6,1707.6 932.6,1715.1 937.6,1718.9 955.1,1717.6 955.1,1721.4 940.1,1722.6 937.6,1727.6 925.1,1725.1 921.3,1715.1 923.8,1700.1M856.9,1458.8 871.2,1458.8 871.2,1465.0 866.9,1468.8 866.9,1492.5 851.2,1492.5 851.2,1481.2 856.9,1481.2 856.9,1458.8M1056.4,1744.6 1071.4,1744.6 1071.4,1748.1 1056.4,1748.1 1056.4,1744.6M901.4,272.5 885.1,283.8 880.1,297.5 872.6,316.3 868.8,330.0 872.6,347.6 880.1,360.1 891.3,368.8 897.6,366.3 930.1,365.1 940.1,367.6 953.9,387.6 975.1,385.1 995.1,383.8 996.4,390.1 988.9,402.6 988.9,427.6 992.6,437.6 998.9,447.6 987.6,458.9 997.6,470.1 1002.6,480.1 1005.1,495.1 1020.2,506.4 1035.2,503.9 1036.4,508.9 1045.2,500.1 1060.2,492.6 1070.2,480.1 1082.7,473.9 1092.7,480.1 1097.7,495.1 1100.2,505.1 1098.9,530.1 1102.7,540.1 1117.7,555.1 1120.2,540.1 1127.7,533.9 1139.0,542.6 1145.2,538.9 1151.5,517.6 1175.2,517.6M1175.2,517.6 1176.5,495.1 1162.7,490.1 1154.0,470.1 1152.7,455.1 1155.2,440.1 1160.2,427.6 1157.7,422.6 1150.2,420.1 1151.5,405.1 1145.2,406.3 1139.0,408.8M1175.2,517.6 1176.5,532.6 1185.2,545.1 1200.2,560.1 1217.7,570.2 1229.0,573.9 1195.2,649.9M1176.5,495.1 1185.2,490.1 1187.7,480.1 1190.2,455.1 1192.7,430.1 1190.2,420.1 1200.2,400.1 1212.7,390.1M1005.1,495.1 1002.6,485.1 997.6,476.4 990.1,480.1 985.1,483.9 980.1,480.1 980.1,485.1 946.4,483.9 946.4,498.9 957.6,500.1 960.1,508.9 941.4,510.1 941.4,525.1 951.4,535.1 955.1,550.1 942.6,620.2 935.1,615.2 938.9,607.7 927.6,605.2 941.4,582.7 930.1,577.7 920.1,572.7 905.1,571.4 895.1,577.7 880.1,576.4 875.1,565.2 867.6,560.1 866.3,552.6 852.6,540.1 850.1,533.9 840.1,527.6 830.1,525.1 810.1,515.1 805.1,516.4 790.0,515.1 781.3,507.6 765.0,498.9 755.0,492.6M830.1,525.1 831.3,542.6 825.1,557.6 810.1,572.7 802.6,580.2 777.5,590.2 767.5,600.2 762.5,620.2 760.0,649.9M942.6,620.2 932.6,622.7 925.1,627.7 905.1,630.2 890.1,635.2 880.1,645.2 880.1,649.9M777.5,590.2 782.5,612.7 780.0,649.9M996.4,390.1 1002.6,396.3 1015.2,393.8 1030.2,386.3 1035.2,395.1 1042.7,397.6 1043.9,407.6 1052.7,420.1 1053.9,430.1 1065.2,435.1 1080.2,433.8 1090.2,442.6 1095.2,432.6 1115.2,425.1 1130.2,417.6 1139.0,410.1 1124.0,390.1 1127.7,375.1 1140.2,368.8 1155.2,362.6 1167.7,367.6 1176.5,372.6 1180.2,380.1 1181.5,400.1 1177.7,415.1 1187.7,420.1M1052.7,428.8 1062.7,437.6 1067.7,455.1 1068.9,467.6 1081.4,470.1 1082.7,473.9M996.4,383.8 1002.6,373.8 1003.9,365.1 1017.7,352.6 1035.2,347.6 1055.2,350.1 1060.2,345.1 1080.2,340.0 1095.2,335.0 1120.2,335.0 1125.2,345.1 1137.7,350.1 1155.2,337.5 1165.2,335.0M897.6,366.3 912.6,355.1 930.1,357.6 940.1,350.1 955.1,343.8 980.1,343.8 995.1,346.3 1017.7,352.6M912.6,355.1 920.1,337.5 930.1,325.0 942.6,322.5 955.1,330.0 965.1,340.0 971.4,330.0 980.1,330.0 995.1,346.3M985.1,330.0 986.4,307.5 992.6,300.0 1005.1,305.0 1012.7,312.5 1013.9,302.5 1032.7,300.0 1040.2,307.5 1051.4,323.8 1042.7,332.5 1035.2,347.6M915.1,280.0 923.9,295.0 932.6,287.5 950.1,282.5 977.6,283.8M923.9,295.0 930.1,305.0 940.1,310.0 955.1,305.0 965.1,300.0 960.1,290.0 962.6,285.0M940.1,310.0 941.4,320.0 930.1,325.0M965.1,300.0 972.6,310.0 971.4,330.0M1032.7,300.0 1050.2,295.0 1067.7,297.5 1070.2,312.5 1080.2,322.5 1090.2,332.5 1095.2,335.0M1067.7,297.5 1080.2,292.5 1090.2,289.5M1102.7,295.5 1102.7,312.5 1110.2,322.5 1105.2,330.0 1095.2,335.0M1155.2,337.5 1170.2,355.1 1170.2,365.1 1176.5,372.6M920.1,413.8 920.1,458.9M878.8,425.1 887.6,426.3 905.1,417.6 920.1,413.8 932.6,400.1 943.9,392.6 953.9,387.6M893.8,386.3 915.1,382.6 932.6,382.6 943.9,392.6M897.6,366.3 893.8,380.1 893.8,386.3 892.6,400.1 880.1,405.1 878.8,425.1 862.6,422.6 855.1,430.1 845.1,440.1 842.6,457.6 845.1,470.1 855.1,480.1 865.1,485.1M866.3,470.1 880.1,463.9 900.1,460.1 920.1,458.9 932.6,457.6 940.1,445.1 955.1,440.1 977.6,433.8 988.9,435.1M865.1,485.1 866.3,470.1 866.3,487.6 877.6,502.6 887.6,497.6 900.1,507.6 910.1,495.1 912.6,485.1 930.1,477.6 940.1,473.9 940.1,481.4 946.4,483.9M923.9,465.1 932.6,471.4 940.1,473.9M900.1,507.6 907.6,517.6 915.1,521.4 900.1,530.1 895.1,536.4 880.1,536.4 865.1,532.6 852.6,533.9M915.1,521.4 925.1,530.1 937.6,533.9 937.6,545.1 945.1,547.6 955.1,550.1M845.1,457.6 835.1,470.1 822.6,485.1 810.1,488.9 805.1,477.6 810.1,467.6 820.1,460.1 830.1,447.6 845.1,440.1M810.1,488.9 815.1,498.9 830.1,506.4 840.1,517.6 850.1,525.1 852.6,533.9M787.5,448.8 805.1,452.6 815.1,450.1 820.1,460.1M775.0,465.1 787.5,475.1 797.6,490.1 805.1,495.1 810.1,488.9M797.6,490.1 792.6,505.1 790.0,515.1M797.6,370.1 802.6,380.1 812.6,385.1 815.1,400.1 825.1,395.1 845.1,393.8 845.1,380.1 852.6,370.1 860.1,362.6 855.1,355.1 865.1,350.1 880.1,360.1M815.1,400.1 810.1,415.1 802.6,430.1 792.6,432.6M820.1,405.1 820.1,415.1 830.1,410.1 842.6,397.6 845.1,393.8M842.6,397.6 841.3,425.1 855.1,430.1M817.6,430.1 815.1,447.6 830.1,447.6M830.1,410.1 817.6,430.1M787.5,347.6 805.1,360.1 797.6,370.1 805.1,360.1 820.1,355.1 830.1,345.1 840.1,341.3 847.6,355.1 852.6,366.3M807.6,355.1 807.6,340.0 815.1,317.5 825.1,315.0 832.6,322.5 830.1,332.5 840.1,337.5 840.1,341.3M826.3,292.5 830.1,302.5 837.6,310.0 845.1,320.0 846.3,335.0 840.1,337.5M830.1,280.0 840.1,295.0 842.6,307.5 855.1,320.0 862.6,322.5 865.1,347.6M842.6,274.5 850.1,282.5 865.1,280.0 866.3,295.0 857.6,300.0 860.1,312.5 855.1,310.0M866.3,270.0 866.3,280.0 877.6,283.8 872.6,302.5 866.3,316.3 868.8,330.0M877.6,316.3 883.8,330.0 892.6,335.0 905.1,330.0 902.6,340.0 910.1,347.6 912.6,355.1M892.6,335.0 891.3,355.1 897.6,360.1 897.6,366.3M845.1,380.1 855.1,390.1 867.6,387.6 870.1,395.1 880.1,385.1 887.6,375.1 891.3,368.8M855.1,390.1 870.1,410.1 878.8,417.6M733.8,512.6 745.0,520.1 750.0,530.1 747.5,545.1 750.0,560.1 765.0,550.1 772.5,555.1 825.1,557.6M745.0,520.1 762.5,515.1 781.3,507.6M765.0,498.9 767.5,515.1 780.0,522.6 792.6,525.1 810.1,530.1 820.1,535.1 830.1,535.1M766.3,532.6 766.3,550.1 772.5,555.1 775.0,567.7 795.1,580.2 802.6,580.2M747.5,545.1 740.0,562.7 742.5,575.2 755.0,580.2 765.0,575.2 766.3,550.1M755.0,580.2 750.0,592.7 767.5,600.2M740.0,590.2 747.5,605.2 755.0,600.2M780.0,522.6 785.0,537.6 782.5,547.6 772.5,555.1M785.0,537.6 805.1,545.1 825.1,555.1M902.6,263.8 902.6,272.5 908.9,283.8 913.9,291.3 920.1,302.5 917.6,313.8 907.6,318.8 900.1,310.0 898.8,300.0 905.1,287.5 908.9,283.8M1262.5,470.1 1262.5,480.1 1287.5,492.6 1297.6,515.1 1305.1,530.1 1310.1,542.6 1315.1,550.1 1305.1,558.9M1442.6,550.1 1440.1,567.6 1432.6,582.6 1427.6,600.1 1417.6,617.6 1405.1,630.1 1390.1,641.4 1400.1,647.6 1397.6,660.1 1390.1,672.7 1380.1,680.2 1377.6,692.7 1375.1,705.2 1377.6,717.7 1370.1,730.2 1360.1,749.9M1390.1,640.1 1405.1,640.1 1415.1,650.1 1416.4,680.2 1410.1,685.2 1420.1,697.7 1435.1,702.7 1435.1,715.2 1427.6,720.2 1426.4,735.2 1432.6,749.9M1530.2,587.6 1532.7,592.6 1515.2,607.6 1510.1,620.1 1512.7,642.6 1507.6,652.6 1510.1,665.2 1497.6,676.4 1490.1,675.2 1470.1,685.2 1455.1,705.2 1447.6,720.2 1448.9,740.2 1445.1,749.9M1542.7,587.6 1541.4,600.1 1547.7,612.6 1550.2,642.6 1557.7,665.2 1562.7,675.2 1558.9,687.7 1560.2,697.7 1552.7,712.7 1545.2,717.7M1627.7,630.1 1612.7,645.1 1602.7,660.1 1600.2,680.2 1605.2,690.2 1600.2,697.7 1590.2,698.9 1585.2,690.2 1570.2,687.7 1560.2,687.7M1600.2,665.2 1620.2,660.1 1630.2,657.6 1627.7,667.7 1635.2,675.2 1645.2,675.2 1647.7,665.2 1670.2,667.7 1679.0,666.4M1602.7,680.2 1615.2,675.2 1625.2,665.2M1545.2,717.7 1562.7,722.7 1570.2,730.2 1590.2,715.2 1602.7,722.7 1610.2,717.7 1635.2,705.2 1637.7,697.7 1655.2,690.2 1677.7,687.7M1630.2,692.7 1632.7,700.2 1637.7,697.7M1545.2,717.7 1530.2,727.7 1515.2,735.2 1495.1,732.7 1491.4,740.2 1492.6,749.9M1552.7,712.7 1555.2,735.2 1560.2,740.2 1572.7,725.2M1602.7,722.7 1610.2,735.2 1620.2,730.2 1630.2,735.2 1642.7,727.7 1655.2,730.2 1670.2,720.2M1610.2,735.2 1615.2,749.9M1225.0,735.2 1305.1,740.2 1355.1,742.7M1180.0,362.5 1190.0,370.0 1195.0,380.0 1205.0,390.0 1212.5,390.0M1212.5,391.3 1207.5,405.0 1197.5,412.5 1192.5,430.0 1197.5,440.0 1210.0,450.1 1215.0,470.1 1220.0,480.1 1235.0,477.6 1237.5,467.6 1257.5,465.1 1262.5,470.1M1180.0,490.1 1195.0,482.6 1210.0,477.6 1220.0,480.1M1180.0,425.0 1187.5,430.0 1190.0,450.1 1185.0,470.1 1182.5,485.1M1210.0,405.0 1222.5,405.0 1237.5,402.5 1255.0,397.5 1262.5,395.0 1262.5,405.0 1260.0,430.0 1252.5,432.5 1250.0,412.5 1237.5,405.0M1222.5,391.3 1225.0,405.0M1237.5,391.3 1237.5,402.5M1255.0,391.3 1262.5,395.0 1277.5,395.0M880.1,640.0 873.8,655.0 875.1,667.5 862.6,677.5 862.6,683.8 935.1,705.0 1010.1,743.8 1020.2,735.0 1030.2,735.0 1040.2,730.0 1050.2,725.0 1065.2,720.0 1070.2,710.0 1077.7,702.5 1092.7,702.5 1102.7,712.5 1112.7,720.0 1120.2,718.8 1182.7,718.8 1187.7,705.0 1190.2,687.5 1182.7,672.5 1190.2,660.0 1197.7,640.0M1190.2,687.5 1200.2,705.0 1207.7,720.0 1220.2,730.0 1233.0,735.0M862.6,683.8 858.8,688.8 865.1,700.0 870.1,712.5 880.1,725.0 875.1,732.5 892.6,736.3 897.6,746.3 915.1,746.3 930.1,735.0 928.9,767.6 937.6,770.1 952.6,767.6 967.6,771.3 980.1,765.1 990.1,762.6 1002.6,752.6 1010.1,743.8M952.6,767.6 970.1,802.6 980.1,792.6 985.1,790.1 1007.6,798.8M1010.1,743.8 1030.2,741.3 1040.2,740.0 1041.4,757.6 1027.7,762.6 1022.7,772.6 1010.1,782.6 1006.4,795.1 1007.6,810.1 997.6,825.1 993.9,842.6 1000.1,860.1 1007.6,875.1 1022.7,887.6 1030.2,890.1 1040.2,885.1 1045.2,877.6 1082.7,878.9M1041.4,757.6 1040.2,772.6 1045.2,785.1 1062.7,800.1 1080.2,805.1 1100.2,815.1 1115.2,826.3 1130.2,825.1 1139.0,827.6 1147.7,815.1 1155.2,800.1 1152.7,780.1 1150.2,770.1 1120.2,768.8 1118.9,740.0 1120.2,718.8M1115.2,826.3 1070.2,852.6 1072.7,865.1 1082.7,878.9M1139.0,827.6 1145.2,842.6 1146.5,855.1 1141.5,861.4 1149.0,875.1 1150.2,886.4 1185.2,887.6M780.0,640.0 782.5,650.0 790.0,660.0 787.5,670.0 778.8,678.8 785.0,695.0 797.6,707.5 816.3,717.5 830.1,707.5 845.1,700.0 846.3,687.5 858.8,688.8M780.0,647.5 797.6,650.0 805.1,657.5 820.1,660.0 827.6,665.0 827.6,675.0 820.1,677.5 815.1,685.0 816.3,697.5 820.1,710.0M816.3,717.5 825.1,732.5 837.6,720.0 845.1,717.5 843.8,732.5 847.6,740.0 852.6,757.6 850.1,767.6 865.1,765.1 870.1,775.1 892.6,777.6 898.8,767.6 912.6,762.6 928.9,750.0M760.0,640.0 757.5,655.0 767.5,665.0 775.0,677.5 777.5,690.0 767.5,697.5 755.0,692.5 745.0,687.5 742.5,672.5 747.5,665.0 745.0,650.0 746.3,640.0M795.1,712.5 797.6,725.0 802.6,730.0 795.1,740.0 796.3,752.6 805.1,770.1 810.1,782.6 822.6,795.1 826.3,805.1 822.6,820.1M767.5,715.0 780.0,702.5 790.0,712.5 797.6,715.0 810.1,712.5 816.3,717.5M802.6,755.1 820.1,756.3 820.1,745.0 845.1,740.0M805.1,770.1 830.1,762.6 850.1,767.6M822.6,820.1 835.1,800.1 836.3,791.3 850.1,795.1 860.1,797.6 866.3,787.6 870.1,775.1M860.1,797.6 870.1,820.1 877.6,830.1 892.6,835.1 898.8,840.1 890.1,850.1 870.1,852.6 862.6,820.1M836.3,791.3 847.6,800.1 852.6,810.1 840.1,822.6 842.6,835.1 835.1,840.1M892.6,777.6 897.6,795.1 905.1,810.1 930.1,815.1 950.1,821.3 963.9,813.8 970.1,802.6M930.1,815.1 932.6,825.1 925.1,832.6 920.1,852.6 922.6,872.6 930.1,882.6 940.1,895.1 950.1,908.9M880.1,852.6 877.6,865.1 860.1,870.1 842.6,862.6M890.1,850.1 900.1,855.1 915.1,862.6 920.1,872.6 922.6,880.1M963.9,813.8 962.6,835.1 955.1,855.1 955.1,875.1 965.1,887.6 950.1,908.9 957.6,925.1 962.6,940.1 967.6,955.1M915.1,920.1 927.6,907.6 935.1,900.1 945.1,910.1 950.1,908.9M957.6,925.1 980.1,917.6 1002.6,912.6 1012.7,925.1 1010.1,930.1 1022.7,942.6 1025.2,951.4 992.6,965.1 972.6,957.6 967.6,955.1M1002.6,912.6 1007.6,900.1 1010.1,892.6 1007.6,875.1M1012.7,925.1 1025.2,922.6 1035.2,932.6 1037.7,947.6 1050.2,955.1 1052.7,965.1 1040.2,972.7 1037.7,990.2 1042.7,1007.7 1040.2,1030.2M1035.2,932.6 1050.2,937.6 1062.7,940.1 1065.2,950.1 1072.7,950.1 1075.2,980.2 1105.2,980.2 1112.7,962.6 1167.7,953.9 1192.7,967.6M1062.7,940.1 1052.7,922.6 1062.7,910.1 1050.2,895.1 1052.7,877.6M1040.2,1030.2 1055.2,1017.7 1060.2,1032.7 1070.2,1015.2 1090.2,1013.9 1105.2,1030.2 1105.2,1059.9M1105.2,980.2 1102.7,995.2 1100.2,1012.7 1090.2,1013.9M1112.7,972.7 1155.2,982.7 1157.7,1000.2 1152.7,1015.2 1165.2,1022.7 1192.7,1025.2M940.1,950.1 955.1,947.6 967.6,955.1 972.6,965.1 966.4,975.2 970.1,987.7 975.1,992.7 977.6,1007.7 982.6,1022.7 987.6,1035.2 1002.6,1032.7 1015.2,1017.7 1025.2,1010.2 1040.2,1015.2M940.1,1002.7 955.1,1001.4 975.1,992.7M987.6,1035.2 1000.1,1040.2 1002.6,1059.9M1355.1,743.0 1357.6,742.5 1350.1,765.0 1347.6,790.0 1350.1,805.0 1345.1,822.5 1340.1,840.0 1335.1,855.1 1325.1,865.1 1320.1,875.1 1305.1,887.6 1297.6,902.6 1295.1,915.1 1300.1,932.6 1310.1,940.1 1330.1,950.1 1342.6,955.1M1352.6,807.5 1358.8,800.0 1357.6,810.0 1372.6,817.5 1380.1,807.5 1387.6,812.5 1387.6,820.0 1397.6,815.0 1410.1,820.0 1420.1,815.0 1440.1,810.0M1445.1,740.0 1450.1,750.0 1437.6,762.5 1435.1,775.0 1442.6,787.5 1440.1,810.0 1442.6,827.5 1440.1,837.5 1447.6,847.5 1445.1,862.6 1457.6,855.1 1470.1,845.0 1482.6,841.3 1492.6,847.5 1512.7,855.1 1530.2,860.1 1542.7,870.1 1550.2,875.1 1562.7,872.6 1573.9,880.1 1570.2,890.1 1560.2,900.1 1560.2,912.6 1567.7,922.6 1578.9,932.6M1445.1,862.6 1435.1,852.6 1427.6,862.6 1427.6,877.6 1420.1,880.1 1415.1,890.1 1421.4,902.6 1415.1,912.6 1420.1,922.6 1410.1,932.6 1385.1,932.6 1372.6,937.6 1355.1,940.1 1342.6,955.1 1340.1,970.1 1352.6,965.1 1375.1,968.9 1380.1,975.1 1385.1,977.6 1392.6,972.6 1405.1,971.4 1415.1,968.9 1420.1,975.1 1422.6,987.6 1427.6,1000.1 1435.1,1002.6 1432.6,1017.6 1437.6,1027.6 1438.9,1033.9 1450.1,1032.6 1452.6,1027.6 1472.6,1022.6 1492.6,1016.4 1507.6,1013.9 1522.7,1008.9 1527.7,992.6 1532.7,977.6 1542.7,972.6 1547.7,960.1 1552.7,947.6 1547.7,942.6 1550.2,930.1 1560.2,923.8 1567.7,922.6M1400.1,870.1 1417.6,870.1 1418.9,880.1 1400.1,881.3 1398.8,875.1 1400.1,870.1M1532.7,987.6 1535.2,995.1 1550.2,997.6M1472.6,1022.6 1482.6,1030.1 1483.9,1031.4M1340.1,970.1 1330.1,980.1 1323.8,997.6 1316.3,1010.1 1300.1,1026.4 1287.5,1035.1 1280.0,1047.6 1272.5,1060.1 1270.0,1090.2 1265.0,1100.2 1275.0,1093.9 1282.5,1110.2 1285.0,1130.2M1300.1,1026.4 1317.6,1027.6 1332.6,1030.1 1345.1,1035.1 1365.1,1036.4 1370.1,1045.1 1372.6,1057.6 1377.6,1065.1 1377.6,1072.7 1392.6,1075.2 1395.1,1082.7 1401.4,1085.2M1180.0,887.6 1186.3,887.6 1187.5,895.1 1185.0,905.1 1195.0,912.6 1202.5,925.1 1205.0,930.1 1195.0,947.6 1191.3,965.1 1196.3,970.1 1193.8,980.1 1197.5,995.1 1195.0,1015.1 1193.8,1017.6 1220.0,1020.1 1225.0,1015.1 1230.0,1017.6 1238.8,1020.1 1242.5,1035.1 1247.5,1057.6 1255.0,1060.1 1265.0,1055.1 1272.5,1060.1M1202.5,922.6 1212.5,915.1 1220.0,910.1 1232.5,907.6 1242.5,910.1 1255.0,917.6 1267.5,915.1 1277.5,916.3 1283.8,910.1 1280.0,922.6 1295.1,926.3M1282.5,1110.2 1300.1,1112.7 1320.1,1115.2 1332.6,1118.9 1336.3,1110.2 1350.1,1105.2 1360.1,1103.9 1375.1,1107.7 1387.6,1102.7M1285.0,1130.2 1300.1,1127.7 1320.1,1132.7 1335.1,1140.2 1345.1,1150.2 1352.6,1159.9M1193.8,1017.6 1197.5,1030.1 1205.0,1047.6 1210.0,1065.1 1212.5,1080.2 1205.0,1085.2 1202.5,1100.2 1190.0,1115.2 1180.0,1130.2M1205.0,1047.6 1230.0,1045.1 1233.8,1032.6 1225.0,1027.6 1220.0,1020.1M1232.5,1062.6 1237.5,1052.6 1247.5,1057.6M1230.0,1045.1 1232.5,1062.6 1240.0,1075.2 1252.5,1070.1 1270.0,1075.2M1205.0,1085.2 1217.5,1080.2 1230.0,1080.2 1240.0,1075.2M1252.5,1070.1 1250.0,1080.2 1257.5,1088.9 1247.5,1095.2 1245.0,1105.2 1262.5,1107.7 1265.0,1100.2M1202.5,1100.2 1212.5,1110.2 1225.0,1102.7 1245.0,1097.7M1212.5,1110.2 1222.5,1120.2 1245.0,1112.7 1262.5,1107.7M1222.5,1120.2 1225.0,1130.2 1237.5,1135.2 1247.5,1125.2 1265.0,1115.2 1282.5,1110.2M1180.0,1075.2 1195.0,1082.7 1205.0,1085.2M1180.0,1140.2 1210.0,1137.7 1225.0,1130.2M1237.5,1135.2 1242.5,1150.2 1237.5,1159.9M1285.0,1130.2 1282.5,1145.2 1280.0,1159.9M1000.1,1050.0 995.1,1060.0 977.6,1072.5 972.6,1087.5 975.1,1105.0 977.6,1117.5 965.1,1130.0 957.6,1145.0 950.1,1157.5 943.8,1175.1 945.1,1185.1 943.8,1197.6 937.6,1205.1 932.6,1220.1 935.1,1230.1 940.1,1245.1 945.1,1260.1 946.3,1270.1 943.8,1285.1 940.1,1290.1 935.1,1300.1 932.6,1312.6 935.1,1320.1 935.1,1332.6 920.1,1337.6 920.1,1350.1 917.6,1362.6 920.1,1375.1 923.8,1385.2 912.6,1392.7 910.1,1405.2 905.1,1415.2 903.8,1435.2 905.1,1450.2 902.6,1469.9M935.1,1332.6 940.1,1345.1 950.1,1352.6 960.1,1353.9 970.1,1360.1 980.1,1362.6 987.6,1362.6 988.9,1370.1 1000.1,1377.6 1010.1,1385.2 1035.1,1390.2 1060.1,1392.7 1081.4,1401.4M978.8,1327.6 1045.1,1327.6 1045.1,1305.1 1081.4,1305.1 1081.4,1291.4 1116.4,1291.4M978.8,1327.6 978.8,1375.1 980.1,1377.6 983.9,1392.7 967.6,1400.2 955.1,1410.2 942.6,1417.7 935.1,1427.7 925.1,1430.2 920.1,1440.2 905.1,1440.2M1081.4,1291.4 1081.4,1435.2 1092.7,1441.4M907.6,1280.1 922.6,1275.1 935.1,1280.1 940.1,1290.1M900.1,1302.6 915.1,1300.1 932.6,1305.1 935.1,1312.6M882.6,1327.6 897.6,1332.6 910.1,1330.1 920.1,1337.6M877.6,1342.6 887.6,1347.6 900.1,1352.6 920.1,1350.1M867.5,1357.6 877.6,1365.1 890.1,1362.6 905.1,1375.1 920.1,1372.6M875.1,1400.2 892.6,1410.2 905.1,1405.2 910.1,1405.2M865.0,1422.7 880.1,1425.2 895.1,1430.2 903.8,1420.2M862.5,1450.2 872.6,1455.2 885.1,1450.2 902.6,1452.7M870.0,1382.7 880.1,1367.6 890.1,1362.6M910.1,1197.6 920.1,1190.1 935.1,1192.6 943.8,1197.6M915.1,1175.1 925.1,1172.6 935.1,1185.1 943.8,1186.3M910.1,1250.1 920.1,1240.1 935.1,1237.6 940.1,1245.1M910.1,1265.1 922.6,1260.1 935.1,1262.6 945.1,1260.1M930.1,1100.0 945.1,1095.0 972.6,1088.8M920.1,1145.0 935.1,1140.0 957.6,1145.0M972.6,1087.5 1015.1,1087.5 1015.1,1103.8 1025.1,1112.5 1040.1,1106.3 1057.6,1110.0 1063.9,1096.3 1116.4,1096.3 1116.4,1148.8 1112.7,1170.1 1108.9,1190.1 1113.9,1210.1 1105.2,1235.1 1107.7,1245.1 1115.2,1257.6 1110.2,1262.6 1095.2,1287.6 1081.4,1291.4M1116.4,1148.8 1175.2,1148.8M1081.4,1096.3 1102.7,1065.0 1103.9,1050.0M1063.9,1096.3 1057.6,1117.5 1047.6,1137.5 1045.1,1150.0 1043.9,1170.1 1047.6,1185.1 1037.6,1197.6 1032.6,1220.1 1030.1,1236.3M1047.6,1185.1 1062.6,1181.3 1075.1,1186.3 1105.2,1188.8 1108.9,1190.1M1030.1,1236.3 1017.6,1236.3 1000.1,1236.3 985.1,1240.1 977.6,1242.6 965.1,1241.3 957.6,1238.8 945.1,1243.8M1030.1,1236.3 1042.6,1240.1 1045.1,1245.1 1050.1,1250.1 1045.1,1265.1 1045.1,1305.1M997.6,1236.3 1000.1,1250.1 1007.6,1275.1 1010.1,1290.1 1015.1,1302.6 1013.9,1327.6M965.1,1185.1 977.6,1187.6 990.1,1197.6 1000.1,1210.1 1003.9,1222.6 1010.1,1236.3M950.1,1157.5 972.6,1143.8 985.1,1155.0 1000.1,1157.5 1015.1,1160.0 1025.1,1172.6 1032.6,1185.1 1037.6,1197.6M965.1,1185.1 960.1,1170.1 952.6,1160.0M1015.1,1103.8 1025.1,1122.5 1030.1,1135.0 1035.1,1150.0 1045.1,1150.0M1000.1,1050.0 1010.1,1060.0 1020.1,1055.0 1026.4,1050.0M1026.4,1050.0 1030.1,1062.5 1047.6,1075.0 1063.9,1096.3M1103.9,1050.0 1105.2,1065.0 1120.2,1072.5 1140.2,1057.5M1175.2,1148.8 1170.2,1170.1 1160.2,1182.6 1158.9,1200.1 1150.2,1220.1 1137.7,1235.1 1136.4,1250.1 1142.7,1262.6 1146.4,1268.8 1140.2,1275.1 1132.7,1273.9 1116.4,1291.4M1158.9,1200.1 1180.2,1197.6 1192.7,1202.6 1197.7,1210.1M1313.0,1132.5 1297.7,1130.0 1285.2,1132.5 1260.2,1140.0 1242.7,1152.5 1230.2,1167.6 1217.7,1182.6 1202.7,1200.1 1197.7,1210.1 1195.2,1225.1 1190.2,1250.1 1185.2,1267.6 1183.9,1285.1 1185.2,1297.6M1140.2,1057.5 1160.2,1065.0 1180.2,1075.0 1195.2,1082.5M1180.2,1132.5 1175.2,1148.8M1197.7,1210.1 1217.7,1197.6 1235.2,1212.6 1242.7,1212.6 1250.2,1220.1 1267.7,1232.6 1285.2,1245.1 1295.2,1255.1M1195.2,1225.1 1210.2,1230.1 1227.7,1235.1 1230.2,1225.1 1235.2,1212.6M1190.2,1250.1 1207.7,1247.6 1222.7,1250.1 1227.7,1235.1M1185.2,1267.6 1200.2,1262.6 1212.7,1262.6 1222.7,1250.1M1212.7,1262.6 1250.2,1255.1 1260.2,1240.1 1267.7,1232.6M1250.2,1255.1 1280.2,1257.6 1295.2,1255.1M1212.7,1262.6 1210.2,1275.1 1215.2,1285.1 1225.2,1290.1 1242.7,1285.1 1250.2,1272.6 1255.2,1257.6M1185.2,1280.1 1200.2,1282.6 1215.2,1285.1M1242.7,1285.1 1247.7,1300.1M1225.2,1290.1 1227.7,1300.1M1267.7,1287.6 1275.2,1267.6 1280.2,1257.6M1287.7,1270.1 1287.7,1287.6M1296.4,1253.8 1290.1,1262.6 1288.9,1275.1 1290.1,1277.6M1342.7,1150.0 1355.2,1157.5 1367.7,1160.0 1362.7,1172.5 1370.2,1177.5M1081.3,1402.6 1062.5,1392.6 1045.0,1390.1 1015.0,1387.6 1007.5,1385.1M1081.3,1432.6 1093.8,1441.4M905.1,1461.3 1047.6,1461.3M906.3,1551.3 992.6,1551.3M902.6,1450.0 897.6,1475.0 905.1,1500.0 902.6,1510.0 917.6,1517.5 915.1,1525.0 902.6,1525.0 912.6,1532.5 905.1,1550.0 906.3,1560.0 900.1,1580.1 890.1,1595.1 892.6,1610.1 877.6,1622.6 867.6,1635.1 875.1,1655.1 890.1,1655.1 895.1,1670.1 892.6,1677.6 902.6,1685.1 943.8,1685.1 976.4,1693.9M971.4,1700.1 971.4,1747.6M847.5,1610.1 877.6,1622.6M1047.6,1450.0 1047.6,1463.8 1056.4,1465.0 1065.1,1463.8 1076.4,1465.0 1076.4,1480.0 1062.6,1481.3 1061.4,1485.0 1050.1,1487.5M855.6,1460.3 854.7,1460.8 853.9,1459.4 853.8,1457.2 854.0,1455.7 854.2,1454.4 854.6,1453.1 855.3,1452.5 856.1,1452.6 857.0,1453.5 857.5,1455.2 857.2,1457.1 856.5,1458.0 856.1,1458.8 855.6,1460.3M845.1,1555.2 844.3,1554.9 843.6,1554.5 843.0,1553.8 842.6,1553.0 842.3,1552.1 842.1,1551.1 842.4,1550.2 843.3,1550.4 844.1,1551.4 844.5,1552.1 845.1,1552.7 845.7,1553.8 845.7,1554.8 845.1,1555.2M831.4,1609.9 830.9,1608.9 830.8,1607.5 830.8,1606.2 830.8,1604.3 831.7,1602.1 833.0,1601.4 833.8,1602.7 834.1,1603.8 834.7,1604.4 835.2,1605.8 834.7,1607.8 833.6,1609.3 832.4,1610.0 831.4,1609.9M998.0,1771.2 997.4,1771.9 996.7,1772.3 995.9,1772.4 995.1,1772.2 994.3,1771.9 993.4,1771.3 993.2,1770.3 994.1,1769.6 995.1,1769.6 995.8,1769.5 996.6,1769.2 997.7,1769.5 998.2,1770.3 998.0,1771.2M834.2,1554.2 834.1,1553.7 833.9,1553.1 834.3,1552.3 835.3,1552.2 835.9,1552.7 836.2,1553.1 836.6,1553.4 836.9,1554.0 836.7,1554.6 836.1,1555.1 835.4,1555.4 834.6,1555.3 834.2,1554.7 834.2,1554.2M885.8,1716.9 883.5,1717.2 882.5,1715.0 883.9,1711.9 885.8,1710.0 887.2,1708.7 888.7,1707.3 890.5,1707.0 891.8,1708.0 892.6,1710.0 892.4,1712.7 890.8,1715.2 888.8,1715.9 887.4,1715.9 885.8,1716.9M857.3,1701.8 857.0,1701.2 856.7,1700.6 856.3,1699.9 856.3,1698.5 856.9,1697.5 857.7,1697.5 858.1,1697.9 858.6,1697.9 859.2,1698.2 859.4,1699.3 859.0,1700.5 858.5,1701.5 857.9,1702.0 857.3,1701.8M864.1,1727.2 863.5,1727.4 862.6,1726.6 861.9,1725.7 861.3,1724.9 860.9,1724.0 860.7,1723.3 860.9,1722.7 861.3,1722.4 862.1,1722.6 862.9,1723.6 863.3,1724.6 863.4,1725.2 863.8,1726.1 864.1,1727.2M867.0,1664.9 867.4,1663.8 868.6,1662.7 870.3,1662.0 872.1,1661.4 874.4,1660.7 876.8,1660.7 877.4,1661.9 875.7,1663.3 874.0,1664.1 873.0,1665.0 871.2,1666.2 868.7,1666.7 867.2,1666.0 867.0,1664.9M841.6,1631.9 842.5,1631.1 843.7,1630.5 844.8,1630.0 846.2,1629.7 847.4,1629.6 848.6,1629.7 849.8,1630.1 849.7,1630.8 848.1,1631.5 846.5,1631.7 845.4,1631.9 843.9,1632.4 842.1,1632.5 841.6,1631.9M931.1,1755.7 930.2,1755.2 929.8,1754.3 929.5,1753.4 929.2,1752.4 929.3,1750.9 930.3,1750.0 931.4,1750.6 932.0,1751.5 932.6,1752.0 933.4,1752.7 933.7,1753.9 933.1,1755.1 932.1,1755.6 931.1,1755.7M851.7,1506.0 849.4,1507.7 846.2,1504.9 844.3,1500.6 843.3,1497.4 842.3,1494.2 842.3,1491.2 843.7,1489.2 845.8,1488.3 848.8,1489.2 851.5,1492.7 852.1,1496.8 851.4,1499.3 851.7,1502.0 851.7,1506.0M867.1,1681.5 866.5,1682.2 865.4,1681.7 864.5,1680.8 863.9,1680.0 863.4,1679.3 863.1,1678.5 863.3,1677.8 863.8,1677.3 864.7,1677.2 865.8,1677.9 866.3,1679.0 866.3,1679.7 866.7,1680.4 867.1,1681.5M833.8,1652.9 832.6,1652.5 831.7,1651.7 831.0,1650.9 830.5,1649.8 830.3,1648.7 830.3,1647.5 830.7,1646.4 831.8,1646.1 832.8,1647.3 833.3,1648.6 833.7,1649.5 834.4,1650.7 834.6,1652.2 833.8,1652.9M876.6,1708.0 876.2,1708.1 875.7,1708.5 874.9,1708.5 874.2,1707.9 874.3,1707.0 874.6,1706.6 874.8,1706.2 875.0,1705.7 875.6,1705.5 876.3,1705.8 876.9,1706.4 877.2,1707.1 877.1,1707.7 876.6,1708.0M875.9,1460.8 875.5,1460.0 875.5,1459.2 875.4,1458.4 875.5,1457.3 876.4,1456.4 877.5,1456.6 878.1,1457.5 878.3,1458.2 878.8,1458.8 879.2,1459.8 878.6,1460.7 877.7,1461.2 876.7,1461.2 875.9,1460.8M844.3,1523.4 844.6,1521.8 845.6,1520.7 846.6,1519.6 848.0,1518.2 850.3,1517.6 851.9,1519.0 851.7,1521.1 850.9,1522.4 850.9,1523.7 850.3,1525.4 848.4,1526.4 846.4,1526.0 845.0,1524.8 844.3,1523.4M851.2,1655.0 850.5,1655.1 849.5,1654.6 848.5,1653.9 847.4,1653.1 845.9,1651.8 845.2,1650.5 846.0,1650.3 847.3,1650.9 848.0,1651.2 848.9,1651.4 850.3,1652.3 851.3,1653.6 851.5,1654.5 851.2,1655.0M874.1,1564.9 873.0,1565.0 872.4,1564.0 872.6,1562.8 873.0,1562.0 873.4,1561.2 873.9,1560.5 874.7,1560.3 875.5,1560.5 876.3,1561.2 876.6,1562.3 876.0,1563.3 875.3,1563.7 874.8,1564.1 874.1,1564.9M877.4,1723.8 877.4,1723.1 878.0,1722.5 878.6,1722.2 879.2,1721.9 879.8,1721.8 880.3,1721.9 880.8,1722.2 881.1,1722.7 880.9,1723.3 880.1,1723.7 879.4,1723.7 878.9,1723.7 878.2,1723.9 877.4,1723.8M867.3,1671.6 866.3,1672.7 863.3,1671.4 860.8,1669.4 858.9,1667.8 857.1,1666.1 856.1,1664.3 856.0,1662.9 856.7,1661.9 858.7,1661.9 861.6,1663.7 863.4,1666.0 864.1,1667.5 865.7,1669.2 867.3,1671.6M841.5,1662.6 840.8,1663.1 840.2,1663.5 839.4,1664.1 837.9,1664.4 836.6,1663.8 836.5,1662.8 837.0,1662.2 837.0,1661.6 837.2,1660.9 838.4,1660.5 839.8,1660.6 840.9,1661.2 841.6,1661.9 841.5,1662.6M876.8,1529.3 876.4,1530.5 874.9,1530.9 873.6,1530.4 872.6,1530.0 871.7,1529.5 871.1,1528.6 871.0,1527.6 871.3,1526.5 872.2,1525.7 873.7,1525.7 874.7,1526.7 875.1,1527.5 875.9,1528.1 876.8,1529.3M823.3,1606.8 821.8,1606.6 819.7,1605.5 819.5,1601.7 821.9,1598.0 824.4,1596.7 826.1,1596.1 828.0,1595.0 829.9,1595.4 830.7,1597.9 830.3,1601.4 828.9,1605.1 826.7,1607.8 824.6,1607.8 823.3,1606.8M880.7,1581.1 879.1,1581.1 877.4,1580.7 875.7,1580.1 874.0,1579.1 872.7,1578.0 871.3,1576.6 870.5,1575.1 871.6,1574.5 874.0,1575.4 875.8,1576.6 877.2,1577.3 879.3,1578.3 881.1,1580.0 880.7,1581.1M865.7,1476.0 866.0,1477.1 865.0,1477.8 863.2,1477.2 862.0,1476.2 861.2,1475.5 860.4,1474.7 860.0,1473.8 860.5,1473.1 861.6,1472.7 863.1,1472.7 864.6,1473.5 865.3,1474.5 865.2,1475.2 865.7,1476.0M989.6,1764.6 990.4,1763.5 991.4,1762.5 992.4,1761.3 994.5,1759.7 997.2,1758.8 998.2,1759.5 997.6,1760.7 997.6,1761.3 997.6,1762.1 996.2,1763.5 993.8,1764.7 991.6,1765.2 990.0,1765.2 989.6,1764.6M862.1,1548.1 861.4,1547.5 861.2,1546.2 861.2,1545.1 861.3,1544.1 861.7,1543.2 862.3,1542.6 863.1,1542.2 863.9,1542.2 864.5,1543.2 864.2,1544.6 863.7,1545.4 863.4,1546.2 863.0,1547.4 862.1,1548.1M837.1,1628.4 835.7,1625.2 837.9,1622.4 841.6,1622.2 844.4,1623.1 846.7,1623.8 848.9,1625.0 850.1,1627.4 850.0,1630.1 848.7,1632.9 845.8,1634.6 842.6,1633.8 840.8,1631.6 839.5,1630.0 837.1,1628.4M834.0,1569.1 831.7,1568.9 829.3,1567.0 827.5,1565.1 826.0,1563.1 825.1,1560.9 824.9,1558.8 825.3,1556.8 826.8,1555.5 829.3,1556.6 831.1,1559.5 831.7,1561.8 832.8,1563.6 834.3,1566.5 834.0,1569.1M854.1,1601.4 854.3,1600.3 854.9,1599.2 856.1,1598.1 857.4,1597.2 859.0,1596.3 860.9,1595.5 862.1,1596.0 861.3,1597.6 859.8,1598.9 859.0,1599.8 858.0,1601.1 856.1,1602.3 854.6,1602.4 854.1,1601.4M854.9,1542.0 855.1,1541.2 855.5,1540.7 856.0,1540.2 856.6,1539.8 857.3,1539.7 857.9,1539.7 858.6,1539.9 858.9,1540.6 858.3,1541.3 857.5,1541.6 857.0,1541.8 856.3,1542.3 855.4,1542.5 854.9,1542.0M951.9,1763.3 952.4,1764.4 951.1,1765.2 949.4,1765.1 948.2,1764.7 947.1,1764.5 946.1,1764.0 945.6,1763.2 945.8,1762.3 946.5,1761.4 948.0,1761.0 949.4,1761.4 950.2,1762.2 950.8,1762.7 951.9,1763.3M843.8,1568.2 842.9,1567.4 843.8,1565.7 845.4,1564.3 846.6,1563.5 847.9,1562.6 849.2,1562.3 850.1,1562.6 850.8,1563.3 850.7,1564.7 849.5,1566.3 847.8,1567.0 846.7,1567.1 845.5,1567.7 843.8,1568.2M873.8,1459.2 873.2,1459.8 872.5,1459.4 872.2,1458.1 872.4,1457.0 872.6,1456.3 872.8,1455.5 873.2,1455.0 873.8,1455.0 874.4,1455.6 874.9,1456.5 875.0,1457.7 874.5,1458.4 874.1,1458.7 873.8,1459.2M856.7,1576.8 855.8,1576.4 854.5,1576.1 853.5,1574.6 854.0,1572.5 855.5,1571.6 856.6,1571.5 857.6,1571.1 858.8,1570.9 859.8,1571.9 860.1,1573.6 859.9,1575.4 859.0,1576.9 857.7,1577.4 856.7,1576.8M848.7,1503.5 848.4,1503.9 847.9,1504.4 846.3,1503.8 844.6,1502.2 844.2,1501.0 844.1,1500.3 843.8,1499.5 843.9,1498.9 845.0,1499.1 846.6,1500.0 848.2,1501.2 849.3,1502.5 849.3,1503.3 848.7,1503.5M835.8,1664.1 834.6,1664.8 833.5,1665.0 832.2,1665.5 830.4,1665.6 828.9,1664.3 829.2,1662.5 830.5,1661.6 831.2,1660.9 832.0,1659.8 833.5,1659.2 835.1,1659.9 836.0,1661.3 836.3,1662.8 835.8,1664.1M848.4,1494.6 847.0,1494.8 845.2,1494.5 843.5,1494.2 841.9,1493.7 840.4,1493.0 839.3,1492.2 838.3,1491.3 838.6,1490.7 840.5,1490.8 842.6,1491.6 843.9,1492.3 845.6,1492.7 847.7,1493.7 848.4,1494.6M872.5,1593.9 871.3,1593.4 870.5,1592.0 869.9,1590.6 869.3,1588.9 869.0,1586.4 870.2,1584.7 871.9,1585.3 872.9,1586.8 873.7,1587.5 875.0,1588.4 875.7,1590.5 875.1,1592.5 873.9,1593.6 872.5,1593.9M856.7,1614.0 857.3,1613.7 857.8,1613.3 858.4,1612.9 859.8,1612.6 860.9,1613.0 861.1,1613.6 860.8,1614.0 860.9,1614.4 860.7,1614.9 859.7,1615.2 858.4,1615.2 857.4,1614.9 856.7,1614.5 856.7,1614.0M857.1,1590.6 856.6,1591.3 855.8,1590.9 855.2,1589.8 855.1,1588.8 854.9,1588.0 854.9,1587.3 855.2,1586.7 855.8,1586.6 856.5,1586.8 857.2,1587.6 857.5,1588.7 857.3,1589.4 857.1,1589.8 857.1,1590.6M871.2,1513.4 870.4,1513.8 869.2,1513.8 868.0,1513.3 866.9,1512.7 865.6,1511.9 864.4,1510.6 864.7,1509.5 866.2,1509.6 867.6,1510.1 868.5,1510.2 869.9,1510.4 871.4,1511.4 871.8,1512.7 871.2,1513.4M856.9,1472.3 856.9,1471.1 856.6,1470.1 856.5,1468.4 857.6,1466.6 859.6,1466.3 860.7,1467.4 861.2,1468.3 862.2,1468.9 862.7,1470.1 862.1,1471.7 860.7,1472.9 859.1,1473.5 857.6,1473.4 856.9,1472.3M870.9,1599.9 868.8,1599.3 866.8,1598.2 864.7,1597.3 861.5,1595.1 859.3,1591.5 860.1,1589.5 862.3,1589.7 863.6,1589.6 865.1,1589.0 867.7,1590.2 870.2,1593.2 871.6,1596.2 871.9,1598.7 870.9,1599.9M862.9,1713.7 862.3,1712.5 862.4,1711.1 863.0,1709.7 863.9,1708.5 865.1,1706.9 866.9,1705.9 868.3,1706.7 868.2,1708.7 867.6,1710.2 867.5,1711.4 867.2,1713.2 865.7,1714.7 864.0,1714.7 862.9,1713.7M842.0,1702.4 841.5,1701.7 841.1,1700.9 841.0,1700.0 841.1,1699.0 841.3,1698.1 841.7,1697.1 842.4,1696.4 843.0,1697.0 843.2,1698.3 843.0,1699.3 843.1,1700.1 843.2,1701.3 842.7,1702.4 842.0,1702.4M903.6,1728.9 902.1,1729.5 900.6,1729.8 899.1,1729.8 897.5,1729.4 896.1,1728.6 894.6,1727.6 893.7,1726.2 894.7,1725.1 896.9,1725.2 898.6,1725.9 900.0,1726.0 902.1,1726.3 903.8,1727.5 903.6,1728.9M938.7,1753.0 940.8,1750.2 943.4,1748.1 945.9,1745.4 950.9,1742.5 957.1,1742.7 959.1,1746.1 957.5,1749.4 957.0,1751.7 956.9,1754.6 953.5,1757.6 948.0,1758.7 943.0,1757.8 939.6,1755.9 938.7,1753.0M975.0,1767.3 974.2,1768.1 973.4,1768.6 972.4,1768.7 971.4,1768.5 970.5,1768.1 969.5,1767.4 969.0,1766.3 969.7,1765.4 971.1,1765.3 972.1,1765.5 973.0,1765.3 974.3,1765.3 975.2,1766.2 975.0,1767.3M890.7,1712.8 890.2,1712.8 889.8,1712.4 890.0,1711.5 890.7,1710.9 891.2,1710.7 891.6,1710.5 892.1,1710.3 892.5,1710.5 892.6,1711.1 892.5,1711.9 892.1,1712.6 891.5,1713.0 891.0,1712.9 890.7,1712.8M869.6,1626.0 869.8,1625.1 870.1,1624.4 870.3,1623.5 871.0,1622.6 872.2,1622.5 872.9,1623.5 872.9,1624.5 873.0,1625.2 873.3,1626.1 873.0,1627.1 872.0,1627.5 870.9,1627.4 870.1,1626.8 869.6,1626.0M848.2,1586.8 847.8,1586.4 847.7,1585.7 848.4,1585.0 849.5,1585.0 850.2,1585.3 850.6,1585.6 851.2,1585.8 851.4,1586.4 851.1,1587.0 850.4,1587.6 849.5,1587.9 848.7,1587.8 848.3,1587.3 848.2,1586.8M842.6,1522.4 842.0,1522.3 841.7,1522.0 841.3,1521.7 840.8,1521.3 840.7,1520.6 841.3,1520.2 841.9,1520.2 842.4,1520.4 842.8,1520.3 843.4,1520.5 843.7,1521.1 843.5,1521.7 843.1,1522.1 842.6,1522.4M870.5,1717.4 869.6,1717.8 868.6,1717.9 867.6,1718.0 866.6,1717.9 865.7,1717.6 864.9,1717.2 864.2,1716.7 864.3,1716.2 865.5,1716.0 866.8,1716.2 867.7,1716.4 868.7,1716.5 870.1,1716.8 870.5,1717.4M887.8,1707.5 887.4,1708.3 885.5,1708.0 883.8,1707.2 882.5,1706.6 881.2,1705.8 880.3,1705.0 880.1,1704.1 880.4,1703.4 881.6,1703.1 883.4,1703.7 884.8,1704.8 885.4,1705.5 886.5,1706.3 887.8,1707.5M855.0,1672.7 853.7,1672.5 852.6,1672.0 851.8,1671.1 851.5,1670.0 851.4,1668.8 851.6,1667.3 852.8,1666.2 854.4,1666.6 855.2,1667.9 855.7,1668.7 856.7,1669.4 857.3,1670.9 856.5,1672.2 855.0,1672.7M946.6,1754.5 945.8,1753.2 945.2,1751.9 944.3,1750.5 943.6,1747.8 944.0,1744.9 945.2,1744.3 946.1,1745.2 946.8,1745.5 947.8,1745.8 948.6,1747.7 948.7,1750.5 948.3,1752.8 947.5,1754.3 946.6,1754.5M884.5,1723.0 884.0,1722.2 883.4,1721.0 884.6,1719.0 887.3,1717.8 889.2,1718.2 890.2,1718.7 891.5,1718.9 892.4,1719.7 891.8,1721.3 890.2,1722.9 888.0,1724.3 885.8,1724.8 884.6,1724.1 884.5,1723.0M835.0,1578.4 834.1,1577.5 833.9,1576.2 834.1,1574.8 834.4,1573.5 835.1,1571.7 836.6,1570.6 837.9,1571.3 838.2,1573.0 838.2,1574.2 838.7,1575.3 838.7,1577.1 837.6,1578.5 836.2,1578.8 835.0,1578.4M929.6,1750.0 928.1,1748.6 926.9,1747.3 925.1,1745.8 924.1,1742.8 925.6,1740.2 928.4,1740.0 930.3,1741.0 931.9,1741.1 934.0,1741.6 935.3,1743.8 935.0,1746.6 933.7,1748.8 931.8,1750.2 929.6,1750.0M846.5,1585.9 846.5,1588.6 843.6,1588.2 839.9,1584.7 837.8,1581.5 836.4,1579.1 834.9,1576.6 834.7,1574.5 836.3,1573.7 838.8,1574.1 842.2,1576.0 845.1,1579.4 845.7,1582.0 845.6,1583.5 846.5,1585.9M827.4,1643.5 827.5,1642.8 827.9,1642.3 828.5,1642.1 829.1,1641.8 829.9,1641.6 830.7,1642.0 830.7,1642.9 830.2,1643.5 829.8,1643.9 829.5,1644.4 828.8,1644.9 828.0,1644.8 827.5,1644.1 827.4,1643.5M857.1,1681.0 856.7,1680.0 855.8,1678.6 857.2,1675.7 860.7,1673.0 863.5,1672.7 864.8,1673.2 866.4,1673.2 867.9,1673.8 867.3,1675.9 865.1,1678.6 862.2,1681.1 859.2,1682.8 857.3,1682.5 857.1,1681.0M861.0,1501.9 858.9,1503.8 856.6,1504.7 854.2,1506.0 850.5,1506.9 846.9,1504.9 846.8,1501.2 849.0,1498.7 850.4,1497.0 851.5,1494.6 854.4,1492.9 857.9,1493.7 860.3,1496.1 861.5,1499.0 861.0,1501.9M843.2,1568.9 842.8,1568.9 842.3,1569.1 841.3,1568.7 840.3,1567.4 840.1,1566.4 840.3,1566.0 840.3,1565.5 840.5,1565.0 841.2,1565.2 842.2,1566.0 843.1,1567.0 843.7,1568.1 843.7,1568.8 843.2,1568.9M842.8,1699.9 843.4,1699.2 844.3,1698.7 845.1,1698.0 846.6,1697.2 848.4,1697.2 849.0,1698.0 848.5,1698.9 848.2,1699.5 848.2,1700.2 847.2,1701.0 845.5,1701.3 844.1,1701.1 843.1,1700.6 842.8,1699.9M871.5,1628.8 871.0,1628.5 870.5,1627.9 870.4,1627.2 870.3,1626.4 870.4,1625.5 870.7,1624.5 871.4,1624.2 871.9,1624.9 872.1,1625.8 872.3,1626.4 872.7,1627.2 872.7,1628.3 872.2,1628.9 871.5,1628.8M850.9,1493.4 850.0,1492.6 849.6,1491.0 849.4,1489.5 849.1,1487.6 849.4,1485.1 850.6,1483.8 851.8,1484.7 852.4,1486.2 853.0,1487.0 853.8,1488.2 854.0,1490.4 853.1,1492.3 852.0,1493.2 850.9,1493.4M847.2,1695.0 845.2,1693.4 843.9,1690.4 842.9,1687.8 842.3,1685.0 842.3,1682.3 842.8,1680.0 843.7,1677.9 845.4,1677.5 847.1,1680.2 847.6,1684.0 847.6,1686.5 848.1,1689.2 848.4,1693.0 847.2,1695.0M850.6,1586.7 849.2,1586.8 847.7,1586.5 846.4,1585.5 845.4,1584.2 844.2,1582.7 843.4,1580.6 844.0,1579.1 846.0,1579.5 847.6,1580.8 848.7,1581.5 850.3,1582.2 851.8,1584.0 851.8,1585.9 850.6,1586.7M851.5,1529.8 851.5,1528.6 852.0,1527.5 852.6,1526.5 853.3,1525.6 854.3,1525.0 855.3,1524.6 856.4,1524.5 857.0,1525.2 856.5,1526.6 855.4,1527.6 854.6,1528.2 853.8,1529.1 852.5,1530.1 851.5,1529.8M857.4,1652.4 857.6,1651.7 858.0,1650.9 858.8,1650.3 859.7,1650.0 860.7,1649.6 862.0,1649.3 862.8,1649.8 862.3,1650.8 861.2,1651.5 860.6,1652.0 859.9,1652.7 858.6,1653.3 857.6,1653.1 857.4,1652.4M861.5,1597.1 859.5,1594.3 858.6,1590.6 859.2,1586.2 860.6,1582.1 862.4,1577.5 865.7,1572.6 869.7,1572.0 871.1,1576.9 870.2,1582.2 870.1,1585.6 870.4,1590.3 868.4,1596.1 864.6,1598.6 861.5,1597.1M896.2,1721.6 895.4,1721.7 894.7,1722.0 893.7,1722.2 891.9,1721.8 890.7,1720.8 890.9,1720.0 891.3,1719.6 891.3,1719.1 891.9,1718.6 893.3,1718.7 894.8,1719.4 896.0,1720.2 896.6,1721.0 896.2,1721.6M846.1,1679.7 845.1,1679.1 845.2,1677.9 846.3,1677.1 847.3,1676.8 848.1,1676.6 849.0,1676.5 849.7,1676.9 850.2,1677.7 850.3,1678.7 849.8,1679.7 848.7,1680.2 847.7,1679.9 847.1,1679.7 846.1,1679.7M869.8,1580.7 869.0,1581.0 867.8,1579.8 867.0,1578.5 866.4,1577.4 865.9,1576.3 865.9,1575.3 866.2,1574.5 866.8,1574.1 867.8,1574.4 868.8,1575.8 869.1,1577.2 869.2,1578.1 869.7,1579.3 869.8,1580.7M841.7,1684.4 842.0,1683.4 843.3,1682.9 844.6,1682.8 845.7,1682.8 846.8,1682.9 847.6,1683.4 848.1,1684.1 848.2,1684.9 847.5,1685.7 846.0,1685.9 844.8,1685.4 844.1,1685.2 842.8,1685.0 841.7,1684.4M846.9,1525.2 846.3,1525.4 845.4,1525.2 844.4,1524.6 843.4,1524.0 842.3,1523.2 841.2,1522.1 841.4,1521.5 842.6,1521.8 843.7,1522.3 844.5,1522.6 845.7,1523.0 846.9,1523.9 847.3,1524.8 846.9,1525.2M861.5,1639.5 861.0,1639.1 860.9,1638.4 861.0,1637.6 861.0,1636.8 861.3,1635.7 862.1,1635.0 862.7,1635.4 862.9,1636.3 863.0,1636.9 863.4,1637.5 863.4,1638.5 862.9,1639.4 862.1,1639.7 861.5,1639.5M854.1,1462.8 852.9,1462.3 851.1,1461.6 850.3,1457.8 852.0,1453.1 854.4,1451.1 856.0,1450.5 857.5,1449.3 859.3,1449.0 860.3,1451.5 860.2,1455.4 859.2,1459.7 857.4,1463.1 855.4,1463.9 854.1,1462.8M837.8,1686.5 836.1,1685.7 836.0,1683.8 837.8,1682.2 839.8,1681.8 841.2,1681.7 842.7,1681.5 844.1,1682.0 844.7,1683.3 844.6,1685.0 843.6,1686.7 841.8,1687.7 840.1,1687.4 839.1,1686.7 837.8,1686.5M843.6,1641.9 843.1,1642.3 842.6,1642.7 841.9,1643.2 840.7,1643.5 839.6,1643.1 839.4,1642.3 839.8,1641.8 839.8,1641.4 839.9,1640.8 840.8,1640.4 842.0,1640.4 843.0,1640.8 843.7,1641.3 843.6,1641.9M874.3,1545.2 874.2,1543.6 875.8,1542.5 877.5,1542.3 878.8,1542.2 880.1,1542.3 881.3,1543.0 882.0,1544.0 882.2,1545.4 881.5,1546.9 879.7,1547.4 878.2,1546.8 877.2,1546.2 875.9,1546.0 874.3,1545.2M861.7,1560.4 860.6,1559.4 860.9,1557.9 862.8,1557.0 864.6,1557.3 865.8,1557.8 867.0,1558.1 868.0,1558.8 868.1,1560.0 867.4,1561.2 866.1,1562.3 864.3,1562.7 862.9,1562.0 862.4,1561.0 861.7,1560.4M848.2,1545.0 847.7,1545.2 847.1,1545.2 846.5,1544.8 846.0,1544.5 845.3,1543.9 844.9,1543.1 845.3,1542.5 846.2,1542.7 846.8,1542.9 847.3,1543.0 848.1,1543.2 848.7,1543.9 848.6,1544.6 848.2,1545.0M850.3,1650.9 849.5,1651.0 848.3,1650.5 847.2,1649.6 846.1,1648.8 844.6,1647.4 843.8,1645.9 844.5,1645.4 846.0,1646.1 847.0,1646.6 847.9,1646.8 849.4,1647.7 850.6,1649.2 850.7,1650.3 850.3,1650.9M851.0,1612.5 850.2,1613.3 849.1,1613.5 848.2,1613.6 847.3,1613.5 846.5,1613.0 845.9,1612.4 845.4,1611.6 845.5,1610.6 846.6,1610.1 847.8,1610.5 848.5,1610.9 849.4,1611.0 850.6,1611.5 851.0,1612.5M836.8,1526.5 836.3,1526.8 835.1,1526.4 834.0,1525.8 833.1,1525.3 832.3,1524.7 831.8,1524.0 831.6,1523.5 831.8,1523.0 832.6,1523.0 833.9,1523.6 834.7,1524.4 835.2,1524.9 836.1,1525.6 836.8,1526.5M874.6,1632.6 875.4,1634.8 872.8,1635.9 869.0,1635.1 866.5,1633.7 864.4,1632.6 862.4,1631.3 861.7,1629.6 862.4,1628.1 864.3,1626.9 867.5,1626.7 870.6,1628.0 871.9,1629.8 872.7,1631.1 874.6,1632.6M851.9,1563.0 850.9,1562.9 849.5,1562.5 848.7,1559.6 849.7,1556.0 851.4,1554.4 852.5,1553.8 853.6,1552.7 854.9,1552.4 855.8,1554.2 855.9,1557.2 855.5,1560.4 854.3,1563.1 852.9,1563.8 851.9,1563.0M845.4,1621.2 845.1,1621.0 845.0,1620.5 845.7,1619.9 846.7,1619.7 847.3,1619.9 847.7,1620.0 848.3,1620.1 848.4,1620.4 848.1,1620.9 847.4,1621.4 846.5,1621.7 845.7,1621.8 845.4,1621.5 845.4,1621.2M929.9,1752.5 929.7,1752.2 929.4,1751.8 929.5,1750.8 930.3,1749.9 931.1,1749.6 931.6,1749.8 932.1,1749.7 932.6,1749.8 932.6,1750.5 932.2,1751.4 931.5,1752.3 930.7,1752.9 930.1,1752.9 929.9,1752.5M916.9,1749.7 917.3,1748.5 918.7,1747.3 920.1,1746.5 921.4,1745.9 922.8,1745.5 924.0,1745.6 925.1,1746.0 925.7,1746.8 924.8,1748.1 922.9,1748.9 921.4,1749.1 920.3,1749.5 918.4,1750.0 916.9,1749.7M879.8,1507.0 878.7,1507.8 877.4,1507.5 876.9,1506.1 877.3,1504.9 877.6,1504.0 878.0,1503.2 878.8,1502.5 879.9,1502.4 881.0,1502.8 881.9,1503.7 882.0,1504.9 881.1,1505.8 880.4,1506.2 879.8,1507.0M824.5,1593.6 824.1,1592.7 824.3,1591.7 824.9,1590.7 825.6,1589.8 826.5,1588.8 827.9,1588.1 828.9,1588.8 828.6,1590.2 828.1,1591.2 828.0,1592.1 827.5,1593.4 826.3,1594.4 825.1,1594.3 824.5,1593.6M869.5,1500.3 868.9,1500.6 868.0,1499.9 867.3,1499.0 866.7,1498.3 866.3,1497.5 866.1,1496.7 866.3,1496.2 866.7,1495.8 867.4,1496.0 868.3,1496.9 868.6,1497.9 868.8,1498.5 869.2,1499.3 869.5,1500.3M868.6,1485.8 868.1,1483.3 869.1,1479.8 870.3,1477.0 871.7,1474.3 873.6,1472.1 875.6,1470.6 877.7,1469.7 879.4,1470.4 879.0,1473.7 876.7,1477.2 874.8,1479.2 873.4,1481.6 871.0,1484.9 868.6,1485.8M881.8,1720.3 881.2,1720.3 880.3,1720.4 879.2,1719.3 878.9,1717.4 879.6,1716.2 880.3,1715.8 880.7,1715.2 881.4,1714.7 882.3,1715.3 883.0,1716.7 883.4,1718.3 883.3,1719.8 882.6,1720.5 881.8,1720.3M864.5,1499.0 863.8,1499.7 862.1,1499.1 860.8,1498.1 859.8,1497.3 858.9,1496.4 858.4,1495.4 858.5,1494.4 859.0,1493.7 860.2,1493.5 861.8,1494.4 862.6,1495.7 862.9,1496.6 863.8,1497.6 864.5,1499.0M844.0,1582.4 843.2,1582.3 843.1,1581.6 844.0,1580.6 845.1,1580.2 845.8,1580.0 846.5,1579.8 847.1,1579.8 847.4,1580.3 847.2,1581.0 846.7,1581.9 845.8,1582.6 844.9,1582.8 844.5,1582.5 844.0,1582.4M847.4,1576.6 845.6,1575.9 844.1,1574.4 842.5,1573.1 840.2,1570.7 838.9,1567.2 840.0,1565.3 842.1,1565.9 843.4,1566.4 844.8,1566.2 846.9,1567.6 848.5,1570.6 848.9,1573.5 848.5,1575.7 847.4,1576.6M867.0,1487.8 866.4,1487.5 866.1,1487.1 866.0,1486.6 866.1,1486.1 866.3,1485.5 866.8,1485.0 867.6,1485.1 868.1,1485.7 868.1,1486.2 868.3,1486.6 868.6,1487.2 868.4,1487.8 867.7,1488.0 867.0,1487.8M850.7,1677.7 851.3,1679.1 850.3,1680.2 848.3,1680.1 846.8,1679.2 845.9,1678.5 844.9,1677.7 844.3,1676.7 844.7,1675.6 845.8,1674.8 847.4,1674.3 849.1,1674.8 850.0,1675.9 850.1,1676.9 850.7,1677.7M858.3,1483.9 857.8,1484.3 857.6,1484.8 856.4,1485.3 854.6,1485.0 853.6,1484.2 853.6,1483.6 853.3,1483.1 853.1,1482.5 853.8,1482.1 855.2,1482.0 856.8,1482.3 858.1,1482.8 858.7,1483.4 858.3,1483.9M960.5,1759.8 959.6,1760.0 959.1,1758.6 959.0,1756.8 959.1,1755.6 959.2,1754.4 959.6,1753.3 960.2,1752.8 960.9,1752.9 961.6,1753.6 961.9,1755.2 961.6,1756.7 961.1,1757.5 960.9,1758.4 960.5,1759.8M872.5,1569.7 871.6,1570.6 869.8,1569.2 868.3,1567.1 867.4,1565.5 866.5,1564.0 866.1,1562.4 866.4,1561.4 867.2,1560.9 868.6,1561.2 870.3,1562.9 871.2,1565.0 871.3,1566.3 871.8,1567.7 872.5,1569.7M849.3,1518.9 848.4,1519.5 847.0,1520.6 844.1,1519.7 841.5,1516.6 841.1,1514.0 841.6,1512.6 841.4,1511.0 842.0,1509.6 844.2,1509.8 846.9,1511.5 849.4,1513.9 851.0,1516.6 850.7,1518.4 849.3,1518.9M858.4,1511.9 858.6,1512.6 858.0,1513.1 856.7,1512.7 855.7,1511.9 855.2,1511.3 854.7,1510.8 854.3,1510.2 854.6,1509.8 855.4,1509.6 856.5,1509.8 857.7,1510.3 858.3,1511.0 858.2,1511.5 858.4,1511.9M998.0,1765.6 997.5,1765.5 996.8,1765.5 995.9,1764.4 995.7,1762.5 996.2,1761.3 996.7,1760.9 997.0,1760.3 997.6,1759.9 998.3,1760.6 998.8,1762.0 999.2,1763.7 999.1,1765.2 998.6,1765.8 998.0,1765.6M854.6,1493.5 854.1,1493.9 853.5,1494.1 852.7,1494.0 852.0,1493.8 851.2,1493.5 850.3,1492.9 850.3,1492.2 851.1,1492.0 852.0,1492.1 852.6,1492.0 853.4,1491.9 854.4,1492.3 854.8,1493.0 854.6,1493.5M859.2,1722.3 856.8,1723.0 854.2,1719.7 852.9,1715.9 852.0,1712.9 851.4,1709.8 851.8,1707.1 853.2,1705.4 855.2,1704.6 857.8,1705.8 859.7,1709.6 859.7,1713.3 859.2,1715.5 859.6,1718.5 859.2,1722.3M827.7,1628.7 826.6,1628.1 825.6,1627.5 824.2,1626.8 823.1,1625.0 823.5,1623.0 825.0,1622.4 826.2,1622.6 827.1,1622.2 828.4,1622.2 829.6,1623.6 830.0,1625.5 829.7,1627.2 828.9,1628.5 827.7,1628.7M849.2,1626.9 850.0,1625.6 851.6,1624.6 853.2,1623.8 854.8,1623.1 856.4,1622.9 857.8,1622.9 859.1,1623.3 859.6,1624.3 858.1,1625.5 855.8,1626.2 854.3,1626.4 852.8,1626.9 850.5,1627.5 849.2,1626.9M870.9,1548.8 869.0,1549.4 867.1,1549.4 865.1,1549.7 862.0,1549.3 859.4,1547.2 859.6,1544.8 861.6,1543.7 862.9,1543.0 864.0,1541.7 866.5,1541.4 869.2,1542.8 870.9,1544.9 871.5,1547.1 870.9,1548.8M858.6,1586.0 857.6,1586.5 856.4,1586.9 854.8,1587.0 853.2,1586.9 851.6,1586.6 849.6,1586.2 848.7,1585.4 849.9,1584.8 852.1,1584.7 853.5,1584.8 855.0,1584.5 857.2,1584.6 858.8,1585.2 858.6,1586.0M852.8,1684.5 852.4,1684.7 851.8,1684.7 851.2,1683.9 851.2,1682.6 851.6,1681.9 851.9,1681.5 852.1,1681.0 852.6,1680.7 853.1,1681.2 853.6,1682.1 853.8,1683.2 853.7,1684.2 853.2,1684.5 852.8,1684.5M872.8,1723.6 871.8,1722.9 870.9,1720.9 870.2,1718.9 869.4,1716.5 868.7,1713.0 869.2,1710.5 870.5,1711.3 871.6,1713.4 872.3,1714.5 873.4,1715.8 874.3,1718.7 874.4,1721.6 873.7,1723.1 872.8,1723.6M856.8,1657.0 856.0,1657.7 855.5,1658.7 853.8,1659.6 851.1,1659.1 849.7,1657.5 849.8,1656.4 849.5,1655.5 849.2,1654.3 850.3,1653.4 852.5,1653.3 854.8,1653.8 856.7,1654.8 857.5,1656.1 856.8,1657.0M879.2,1566.4 876.9,1566.9 873.5,1567.3 869.9,1563.8 869.6,1558.0 872.1,1554.5 874.2,1552.9 875.9,1550.5 878.6,1549.2 881.8,1551.1 884.0,1555.2 885.2,1560.2 884.5,1564.8 881.9,1566.7 879.2,1566.4M837.3,1645.2 836.8,1645.5 836.4,1646.0 835.3,1646.4 833.7,1645.9 832.9,1644.9 833.1,1644.2 833.0,1643.7 833.0,1643.0 833.7,1642.6 835.0,1642.7 836.3,1643.2 837.4,1644.0 837.8,1644.7 837.3,1645.2M909.3,1741.8 908.8,1742.2 907.5,1741.2 906.5,1740.0 905.7,1739.0 905.0,1738.0 904.7,1737.0 904.7,1736.4 905.1,1736.0 906.1,1736.2 907.3,1737.4 907.9,1738.7 908.2,1739.5 908.8,1740.5 909.3,1741.8M850.0,1632.8 851.2,1631.8 852.7,1631.3 854.1,1630.9 855.6,1630.9 857.0,1631.2 858.3,1631.8 859.5,1632.8 859.3,1634.0 857.5,1634.6 855.5,1634.4 854.3,1634.2 852.6,1634.4 850.6,1634.0 850.0,1632.8M846.2,1579.8 846.1,1579.1 846.3,1578.3 846.7,1577.4 847.4,1576.6 848.1,1575.7 849.1,1574.9 849.9,1574.8 849.8,1575.9 849.1,1577.0 848.8,1577.7 848.4,1578.7 847.6,1579.9 846.7,1580.3 846.2,1579.8M845.5,1465.2 845.8,1464.6 846.8,1464.2 847.8,1463.9 849.0,1463.6 850.7,1463.3 852.0,1463.6 851.8,1464.3 850.6,1464.8 849.9,1465.2 849.3,1465.7 847.9,1466.1 846.4,1466.1 845.6,1465.7 845.5,1465.2M837.9,1635.4 837.8,1634.7 837.8,1634.1 838.1,1633.6 838.5,1633.2 839.1,1633.0 839.8,1632.8 840.6,1633.1 840.8,1633.9 840.3,1634.6 840.0,1634.9 839.8,1635.5 839.3,1636.1 838.5,1636.1 837.9,1635.4M872.8,1546.1 872.8,1545.7 872.7,1545.1 873.1,1544.3 874.2,1543.9 875.0,1544.1 875.3,1544.5 875.7,1544.8 876.1,1545.2 875.9,1545.8 875.2,1546.4 874.3,1546.8 873.4,1546.9 872.8,1546.6 872.8,1546.1M860.9,1618.3 858.3,1619.1 855.1,1617.5 852.7,1615.7 850.7,1613.9 849.2,1611.6 848.7,1609.2 849.0,1606.9 850.5,1604.9 853.5,1605.2 856.2,1607.9 857.3,1610.6 858.5,1612.4 860.6,1615.2 860.9,1618.3M877.2,1708.4 876.0,1708.7 874.8,1708.6 873.4,1708.2 872.1,1707.4 870.9,1706.4 869.5,1705.2 869.2,1703.9 870.6,1703.6 872.5,1704.4 873.6,1705.0 875.0,1705.3 876.9,1706.2 877.8,1707.6 877.2,1708.4M871.2,1619.5 870.8,1619.7 870.1,1619.7 869.4,1618.4 869.4,1616.6 869.9,1615.7 870.3,1615.3 870.7,1614.6 871.2,1614.3 871.9,1615.1 872.3,1616.4 872.5,1617.9 872.3,1619.2 871.8,1619.7 871.2,1619.5M834.4,1669.6 834.2,1671.0 832.8,1671.3 831.2,1670.1 830.5,1668.5 830.1,1667.4 829.6,1666.3 829.7,1665.1 830.6,1664.6 831.8,1664.5 833.4,1665.1 834.6,1666.4 834.7,1667.8 834.3,1668.6 834.4,1669.6M990.4,1768.2 986.3,1768.9 981.1,1766.5 977.1,1763.8 973.4,1761.1 970.6,1757.5 969.2,1753.9 968.8,1750.3 970.6,1747.5 975.5,1748.3 980.3,1752.6 982.6,1756.4 985.3,1759.2 989.5,1763.6 990.4,1768.2M924.7,1742.9 924.0,1743.6 922.8,1743.8 921.6,1743.5 920.4,1743.2 918.7,1742.6 917.6,1741.4 918.2,1740.3 919.7,1740.1 920.8,1740.1 921.8,1739.8 923.4,1739.8 924.8,1740.8 925.1,1742.0 924.7,1742.9M863.7,1725.6 861.0,1723.1 859.1,1720.0 858.4,1715.8 858.9,1711.6 859.7,1707.1 861.6,1702.0 865.3,1699.9 868.3,1703.6 868.8,1709.1 869.0,1712.6 870.5,1716.6 870.3,1722.6 867.3,1726.3 863.7,1725.6M835.8,1643.9 834.8,1642.5 834.5,1640.4 835.1,1638.0 836.0,1635.7 837.2,1632.9 839.3,1630.5 841.3,1630.8 841.5,1633.8 841.0,1636.3 841.1,1638.0 841.0,1640.8 839.4,1643.8 837.3,1644.7 835.8,1643.9M851.3,1642.9 850.2,1643.4 849.5,1644.2 848.0,1644.9 845.4,1644.6 843.8,1643.2 844.0,1641.9 844.2,1641.1 844.1,1640.1 844.9,1639.2 847.0,1639.1 849.2,1639.7 851.0,1640.7 851.9,1642.0 851.3,1642.9M866.4,1464.4 865.7,1463.8 864.9,1463.6 863.8,1462.7 863.0,1460.7 863.2,1458.9 864.1,1458.6 864.6,1458.4 865.2,1457.9 866.1,1458.2 867.0,1459.7 867.5,1461.6 867.6,1463.3 867.2,1464.5 866.4,1464.4M976.3,1770.4 975.2,1769.1 976.7,1767.4 979.3,1766.5 981.3,1766.2 983.1,1765.9 984.8,1766.1 985.9,1766.9 986.1,1768.2 985.5,1769.8 983.5,1771.1 981.1,1771.4 979.7,1770.8 978.4,1770.6 976.3,1770.4M863.1,1547.3 862.7,1546.5 862.1,1545.8 861.4,1544.5 861.8,1542.4 863.1,1541.2 864.2,1541.5 864.9,1541.7 865.8,1541.6 866.6,1542.4 866.6,1544.1 866.0,1545.8 865.0,1547.3 863.9,1547.9 863.1,1547.3M851.2,1492.5 850.5,1493.0 849.7,1492.5 849.6,1490.8 850.2,1489.4 850.8,1488.6 851.2,1487.9 851.8,1487.2 852.5,1487.4 853.0,1488.3 853.3,1489.6 853.1,1491.2 852.4,1492.1 851.7,1492.2 851.2,1492.5M898.3,1725.2 897.8,1725.8 896.8,1725.8 895.9,1725.7 895.1,1725.6 894.4,1725.3 893.9,1724.8 893.6,1724.2 893.7,1723.6 894.5,1723.2 895.6,1723.5 896.2,1723.9 896.8,1724.2 897.8,1724.5 898.3,1725.2M828.0,1578.4 827.9,1577.9 828.1,1577.3 828.6,1576.9 829.0,1576.5 829.7,1576.0 830.6,1575.8 830.9,1576.3 830.6,1577.0 830.2,1577.5 830.1,1578.0 829.7,1578.6 828.9,1579.0 828.3,1578.8 828.0,1578.4M921.1,1745.2 922.5,1743.4 924.3,1742.2 926.2,1741.3 928.3,1740.9 930.4,1741.2 932.5,1741.7 934.4,1742.9 934.2,1744.8 931.6,1746.1 929.0,1746.2 927.3,1746.5 924.9,1747.2 922.0,1746.9 921.1,1745.2M834.5,1563.6 833.5,1564.2 832.8,1562.6 832.8,1560.4 833.0,1558.9 833.2,1557.5 833.6,1556.2 834.3,1555.7 835.1,1555.8 836.0,1556.6 836.4,1558.5 836.1,1560.3 835.4,1561.2 835.1,1562.1 834.5,1563.6M849.1,1570.5 848.0,1570.3 848.7,1568.5 850.4,1566.7 851.8,1565.6 853.0,1564.6 854.3,1563.8 855.2,1563.8 855.6,1564.4 855.5,1565.7 854.4,1567.5 852.7,1568.8 851.6,1569.1 850.6,1569.6 849.1,1570.5M861.4,1617.8 860.9,1616.5 861.4,1614.0 862.1,1611.9 862.8,1610.1 863.8,1608.4 864.9,1607.2 866.1,1606.6 867.1,1606.8 867.2,1608.7 866.1,1611.3 864.9,1612.9 864.1,1614.3 862.9,1616.6 861.4,1617.8M860.3,1727.2 859.4,1726.4 858.5,1725.0 859.4,1722.8 861.7,1721.7 863.6,1722.1 864.8,1722.5 866.1,1722.7 867.2,1723.7 866.9,1725.4 865.8,1727.1 864.0,1728.6 862.0,1729.1 860.7,1728.3 860.3,1727.2M840.1,1524.7 840.5,1524.1 840.9,1523.6 841.4,1523.3 842.1,1523.2 842.7,1523.3 843.4,1523.5 844.0,1523.9 843.8,1524.6 843.1,1525.0 842.4,1525.1 841.9,1525.3 841.1,1525.6 840.3,1525.4 840.1,1524.7M838.5,1675.5 838.4,1674.2 838.8,1672.7 839.1,1671.2 839.8,1668.8 841.4,1666.4 842.6,1666.0 842.8,1667.4 842.8,1668.3 843.3,1669.0 843.1,1670.7 841.9,1673.0 840.5,1674.7 839.2,1675.6 838.5,1675.5M876.7,1527.1 876.4,1526.6 876.3,1525.8 876.4,1524.9 876.6,1524.1 876.9,1523.0 877.5,1521.9 878.1,1521.9 878.3,1522.9 878.2,1523.9 878.3,1524.5 878.3,1525.6 877.9,1526.8 877.3,1527.3 876.7,1527.1M829.4,1565.4 828.9,1564.6 828.4,1563.9 827.8,1563.0 827.6,1561.2 828.4,1559.8 829.5,1559.8 830.1,1560.3 830.8,1560.3 831.6,1560.7 831.9,1562.0 831.6,1563.6 831.0,1564.8 830.2,1565.6 829.4,1565.4M839.1,1648.3 839.1,1644.9 842.4,1640.9 845.7,1638.0 848.8,1635.4 852.4,1633.6 855.7,1633.1 858.6,1633.5 860.6,1635.4 859.1,1639.3 854.5,1642.7 850.6,1643.9 847.8,1645.4 843.4,1648.0 839.1,1648.3M857.5,1543.8 856.8,1544.4 856.4,1545.1 855.6,1546.0 854.0,1546.3 852.8,1545.5 852.7,1544.4 852.8,1543.7 852.6,1543.0 853.0,1542.1 854.2,1541.6 855.7,1541.7 856.9,1542.2 857.7,1543.0 857.5,1543.8M935.4,1749.2 934.4,1749.5 933.5,1749.8 932.2,1750.3 930.1,1750.1 928.5,1748.9 928.6,1747.8 929.2,1747.2 929.3,1746.5 929.9,1745.8 931.6,1745.8 933.5,1746.4 935.0,1747.4 935.8,1748.4 935.4,1749.2M949.2,1757.3 948.6,1757.4 948.0,1757.4 947.5,1757.1 947.2,1756.6 947.0,1756.1 946.9,1755.4 947.3,1754.7 948.1,1754.6 948.7,1755.1 949.0,1755.4 949.6,1755.5 950.1,1756.1 949.9,1756.8 949.2,1757.3M839.5,1559.5 838.8,1560.1 837.6,1560.0 836.7,1559.6 835.9,1559.3 835.3,1558.7 834.9,1558.0 834.8,1557.3 835.1,1556.5 836.0,1556.2 837.1,1556.7 837.7,1557.4 838.2,1557.9 839.0,1558.5 839.5,1559.5M870.4,1717.4 870.3,1719.7 868.0,1720.6 864.8,1718.4 863.1,1715.4 862.4,1713.2 861.6,1711.2 861.4,1709.1 862.8,1708.1 865.2,1708.2 868.1,1709.4 870.6,1711.8 871.3,1714.4 870.5,1715.9 870.4,1717.4M866.6,1600.1 866.2,1599.5 866.0,1598.5 867.8,1597.1 870.6,1596.5 872.2,1596.8 873.1,1597.2 874.3,1597.4 874.9,1598.1 873.9,1599.2 871.9,1600.3 869.5,1601.2 867.3,1601.5 866.4,1600.9 866.6,1600.1M846.7,1583.0 848.0,1581.7 850.3,1580.9 852.6,1580.3 855.7,1579.5 859.9,1579.5 862.1,1581.0 860.6,1582.7 858.5,1583.7 857.6,1584.7 855.8,1586.1 852.2,1586.5 849.0,1585.7 847.2,1584.4 846.7,1583.0M844.2,1605.3 843.9,1603.9 843.9,1602.4 844.1,1600.9 844.5,1599.4 845.1,1598.0 845.8,1596.7 846.7,1595.7 847.3,1596.2 847.1,1598.2 846.5,1600.1 846.2,1601.3 845.8,1603.2 845.0,1605.1 844.2,1605.3M850.5,1514.1 849.6,1513.6 849.9,1512.4 851.0,1511.3 851.9,1510.8 852.7,1510.3 853.7,1510.0 854.4,1510.2 854.9,1510.8 855.1,1511.8 854.4,1513.0 853.3,1513.7 852.4,1513.6 851.6,1513.8 850.5,1514.1M1001.3,1767.5 1000.9,1766.8 1001.2,1765.2 1001.7,1763.9 1002.2,1762.8 1002.7,1761.7 1003.4,1760.9 1004.0,1760.6 1004.6,1760.7 1004.7,1761.8 1004.1,1763.4 1003.3,1764.5 1002.9,1765.2 1002.2,1766.6 1001.3,1767.5M835.4,1509.9 835.2,1508.0 836.8,1506.9 838.6,1506.9 839.9,1507.1 841.2,1507.3 842.3,1508.2 842.9,1509.5 842.9,1511.1 842.2,1512.6 840.4,1513.2 838.9,1512.4 838.0,1511.4 836.9,1510.9 835.4,1509.9M867.3,1650.7 866.9,1650.3 867.4,1649.8 868.2,1649.6 868.8,1649.6 869.3,1649.6 869.9,1649.7 870.1,1650.0 870.2,1650.4 869.9,1650.8 869.3,1651.2 868.6,1651.2 868.2,1650.9 867.9,1650.8 867.3,1650.7M847.8,1593.6 846.8,1592.1 846.5,1590.3 846.4,1588.7 846.6,1586.9 847.4,1585.4 848.3,1584.1 849.6,1583.0 850.9,1583.5 851.3,1585.7 850.7,1587.8 850.3,1589.1 850.1,1591.0 849.2,1593.2 847.8,1593.6M984.5,1770.6 983.8,1770.9 983.0,1770.8 982.1,1770.3 981.3,1769.8 980.3,1769.0 979.6,1767.9 980.0,1767.2 981.2,1767.4 982.1,1767.8 982.8,1767.9 983.9,1768.2 984.9,1769.1 985.0,1770.1 984.5,1770.6M891.1,1727.8 891.0,1726.4 892.0,1724.6 892.8,1722.9 894.1,1720.7 896.6,1718.4 898.6,1718.2 898.8,1720.0 898.2,1721.7 898.4,1722.8 898.1,1724.7 896.3,1727.0 894.0,1728.2 892.2,1728.4 891.1,1727.8M873.6,1700.3 873.6,1699.4 873.4,1698.7 873.4,1697.5 874.1,1695.8 875.5,1694.9 876.3,1695.4 876.7,1695.9 877.3,1696.1 877.7,1696.8 877.3,1698.2 876.3,1699.5 875.1,1700.5 874.1,1700.9 873.6,1700.3M826.9,1654.9 825.9,1654.4 825.0,1653.1 824.3,1651.4 823.8,1649.6 823.2,1647.2 823.3,1644.8 824.4,1644.5 825.6,1646.4 826.3,1647.9 827.2,1648.9 828.2,1650.8 828.5,1653.3 827.9,1654.7 826.9,1654.9M841.7,1567.2 841.2,1567.1 840.8,1566.6 840.6,1566.1 840.2,1565.5 840.0,1564.6 840.4,1564.0 841.1,1564.1 841.5,1564.6 841.9,1564.8 842.4,1565.1 842.7,1565.8 842.6,1566.6 842.2,1567.1 841.7,1567.2M828.3,1625.7 827.5,1625.7 826.8,1625.6 826.0,1625.4 825.2,1625.1 824.5,1624.7 823.8,1624.2 823.3,1623.6 823.7,1623.3 824.8,1623.6 825.7,1624.0 826.4,1624.3 827.4,1624.6 828.3,1625.2 828.3,1625.7M934.9,1756.1 935.0,1755.5 935.8,1755.1 936.5,1754.8 937.1,1754.6 937.8,1754.6 938.4,1754.7 938.8,1755.0 938.9,1755.4 938.5,1755.9 937.6,1756.2 936.9,1756.2 936.4,1756.2 935.6,1756.3 934.9,1756.1M833.6,1676.9 834.0,1676.1 835.0,1675.6 836.0,1675.3 837.2,1674.8 838.9,1674.6 840.1,1675.3 839.7,1676.3 838.7,1676.9 838.2,1677.4 837.5,1678.2 836.1,1678.7 834.6,1678.4 833.8,1677.7 833.6,1676.9M851.4,1717.6 852.5,1714.9 854.6,1712.9 856.6,1711.3 859.1,1710.1 861.6,1709.8 864.1,1710.1 866.6,1711.0 867.4,1713.3 865.0,1715.7 861.7,1716.7 859.5,1717.1 857.0,1718.5 853.4,1719.2 851.4,1717.6M832.5,1541.8 831.6,1540.5 830.9,1538.6 830.7,1536.1 830.9,1533.6 831.1,1530.8 831.7,1527.6 832.9,1526.4 833.9,1528.7 834.0,1531.9 834.2,1533.9 834.8,1536.4 834.7,1539.9 833.6,1542.1 832.5,1541.8M854.2,1510.5 854.6,1509.2 855.3,1508.1 856.2,1507.2 857.4,1506.5 858.7,1506.2 860.1,1505.9 861.5,1506.3 861.6,1507.5 860.3,1508.8 858.9,1509.4 858.0,1510.1 856.7,1511.2 854.9,1511.5 854.2,1510.5M874.2,1487.9 872.8,1488.2 871.0,1486.4 869.8,1484.6 868.9,1483.0 868.2,1481.2 868.1,1479.7 868.6,1478.4 869.7,1477.7 871.3,1478.3 872.8,1480.4 873.1,1482.4 873.4,1483.8 874.1,1485.7 874.2,1487.9M862.1,1714.9 860.1,1715.2 858.3,1715.4 856.1,1715.8 852.9,1714.8 851.0,1712.1 851.9,1710.0 853.6,1709.1 854.4,1708.0 855.8,1706.7 858.5,1707.0 861.0,1708.8 862.6,1711.2 863.1,1713.4 862.1,1714.9M830.3,1563.6 829.8,1564.5 828.8,1564.5 827.6,1562.7 827.3,1560.7 827.5,1559.5 827.5,1558.4 827.8,1557.3 828.5,1557.1 829.6,1557.9 830.6,1559.2 831.4,1561.1 831.3,1562.6 830.7,1563.1 830.3,1563.6M858.6,1637.5 858.4,1637.2 858.0,1636.8 858.0,1635.9 858.7,1635.3 859.5,1635.3 859.9,1635.5 860.4,1635.5 860.9,1635.8 861.0,1636.4 860.7,1637.1 860.1,1637.8 859.4,1638.1 858.8,1638.0 858.6,1637.5M840.8,1558.2 840.2,1559.6 838.5,1559.3 837.1,1557.6 836.5,1556.0 836.0,1554.8 835.7,1553.4 836.1,1552.3 837.1,1551.8 838.5,1551.8 840.1,1552.7 841.0,1554.5 840.8,1555.8 840.6,1556.8 840.8,1558.2M864.0,1593.2 863.4,1592.2 862.9,1591.4 862.2,1590.2 862.1,1588.5 863.3,1587.4 864.9,1587.8 865.8,1588.6 866.7,1589.0 867.8,1589.6 868.2,1591.0 867.6,1592.4 866.5,1593.3 865.2,1593.7 864.0,1593.2M833.3,1615.7 832.2,1615.2 831.3,1614.8 830.1,1614.3 828.4,1612.7 827.5,1610.8 828.1,1610.0 829.0,1610.0 829.4,1609.6 830.2,1609.4 831.6,1610.5 832.9,1612.2 833.7,1613.9 833.9,1615.3 833.3,1615.7M880.5,1719.4 878.6,1719.3 876.5,1717.7 874.7,1715.7 872.5,1713.5 870.2,1709.9 870.1,1706.5 872.5,1706.4 875.0,1708.2 876.6,1708.9 878.8,1709.6 881.4,1712.4 882.4,1715.9 881.8,1718.2 880.5,1719.4M856.1,1601.5 855.0,1601.5 853.9,1600.3 853.1,1599.2 852.4,1598.1 852.0,1596.9 852.0,1595.9 852.3,1595.0 853.0,1594.5 854.1,1595.0 855.0,1596.5 855.2,1597.8 855.5,1598.7 856.1,1600.2 856.1,1601.5M872.9,1492.1 872.9,1493.0 872.4,1494.2 870.7,1494.6 868.9,1493.6 868.3,1492.4 868.0,1491.5 867.4,1490.6 867.6,1489.5 868.7,1488.9 870.3,1488.8 872.0,1489.2 873.2,1490.2 873.3,1491.3 872.9,1492.1M840.4,1675.6 840.4,1674.9 840.6,1674.3 840.9,1673.7 841.3,1673.2 841.8,1672.9 842.4,1672.7 843.1,1672.6 843.4,1673.0 843.1,1673.8 842.5,1674.3 842.1,1674.7 841.7,1675.3 840.9,1675.8 840.4,1675.6M855.4,1579.9 854.1,1579.8 852.6,1578.3 851.6,1577.0 850.7,1575.7 850.1,1574.2 850.0,1572.9 850.2,1571.7 851.0,1571.0 852.5,1571.8 853.6,1573.7 854.0,1575.3 854.6,1576.4 855.5,1578.3 855.4,1579.9M832.1,1652.0 832.2,1651.4 832.6,1650.8 833.3,1650.4 834.0,1650.1 835.0,1649.8 836.1,1649.9 836.3,1650.6 835.7,1651.4 835.1,1651.8 834.8,1652.4 834.0,1653.0 833.0,1653.2 832.3,1652.7 832.1,1652.0M851.6,1645.0 850.8,1644.9 850.1,1644.6 849.4,1644.1 848.9,1643.4 848.5,1642.7 848.2,1641.8 848.3,1641.0 849.0,1640.8 849.9,1641.5 850.4,1642.3 851.0,1642.7 851.8,1643.5 852.1,1644.5 851.6,1645.0M856.3,1487.6 856.2,1486.6 856.4,1485.5 857.1,1484.4 858.1,1483.5 859.2,1482.5 860.7,1481.7 861.8,1482.0 861.6,1483.5 860.6,1484.8 860.1,1485.7 859.6,1486.9 858.3,1488.3 856.9,1488.4 856.3,1487.6M885.6,1462.0 884.9,1462.2 884.4,1461.7 884.5,1461.0 884.7,1460.5 884.9,1460.1 885.2,1459.7 885.7,1459.6 886.2,1459.6 886.8,1459.9 887.0,1460.5 886.7,1461.1 886.3,1461.3 886.0,1461.6 885.6,1462.0M873.2,1695.7 873.1,1694.4 873.9,1693.0 874.9,1691.9 875.8,1691.0 877.0,1690.3 878.1,1690.1 879.2,1690.2 880.0,1690.9 879.6,1692.3 878.2,1693.5 877.0,1694.0 876.1,1694.6 874.6,1695.6 873.2,1695.7M835.5,1545.4 834.1,1546.9 831.7,1546.6 830.0,1542.3 830.4,1537.5 831.7,1535.0 832.6,1533.0 833.6,1530.7 835.4,1530.4 837.3,1532.7 838.7,1536.3 839.4,1540.8 838.6,1544.4 836.9,1545.3 835.5,1545.4M861.0,1567.5 860.3,1567.9 859.5,1568.0 858.7,1568.0 857.9,1567.8 857.1,1567.4 856.3,1566.8 855.9,1566.1 856.5,1565.6 857.7,1565.7 858.5,1566.0 859.2,1566.0 860.4,1566.2 861.2,1566.9 861.0,1567.5M845.3,1585.2 844.6,1584.8 844.1,1583.9 843.6,1583.0 842.9,1581.8 842.6,1580.1 843.1,1579.0 844.0,1579.5 844.6,1580.2 845.1,1580.5 845.9,1581.1 846.4,1582.6 846.4,1584.0 845.9,1584.8 845.3,1585.2M955.1,1762.5 955.2,1761.6 956.8,1760.3 958.3,1759.4 959.6,1758.7 961.1,1758.1 962.2,1757.9 963.1,1758.1 963.6,1758.7 962.9,1759.8 961.0,1760.9 959.5,1761.3 958.4,1761.6 956.7,1762.3 955.1,1762.5M864.6,1539.2 863.4,1538.8 862.3,1537.7 861.4,1536.1 860.8,1534.4 859.9,1532.2 859.7,1529.8 860.8,1529.1 862.4,1530.6 863.3,1532.3 864.2,1533.2 865.6,1534.8 866.2,1537.3 865.7,1538.9 864.6,1539.2M856.6,1695.1 856.0,1693.0 857.4,1691.2 859.0,1690.3 860.4,1689.6 862.0,1689.3 863.5,1689.9 864.8,1691.0 865.8,1692.8 865.6,1694.9 863.8,1696.0 861.8,1695.7 860.5,1695.5 858.8,1695.8 856.6,1695.1M838.4,1541.7 838.0,1541.8 837.3,1541.5 836.5,1540.9 835.8,1540.4 834.8,1539.6 834.1,1538.6 834.4,1538.3 835.4,1538.8 836.1,1539.2 836.7,1539.4 837.6,1539.9 838.5,1540.8 838.7,1541.5 838.4,1541.7M937.8,1759.6 937.9,1760.4 937.3,1761.0 936.3,1760.7 935.7,1760.1 935.4,1759.6 935.0,1759.1 934.9,1758.5 935.2,1757.9 935.8,1757.6 936.6,1757.5 937.4,1757.9 937.7,1758.6 937.6,1759.1 937.8,1759.6M859.7,1545.4 857.5,1546.5 855.4,1544.4 854.9,1541.2 855.1,1538.8 855.2,1536.7 856.0,1534.6 857.5,1533.5 859.5,1533.3 861.7,1534.3 863.1,1536.9 862.7,1539.8 861.4,1541.4 860.7,1542.9 859.7,1545.4M869.6,1564.1 867.7,1564.0 866.0,1563.4 864.7,1562.2 863.9,1560.6 863.4,1558.8 863.2,1556.5 864.5,1554.6 866.8,1554.9 868.3,1556.7 869.2,1558.0 870.7,1559.0 872.1,1561.0 871.5,1563.3 869.6,1564.1M867.5,1464.4 866.6,1464.8 865.8,1465.1 864.7,1465.6 863.3,1465.5 862.6,1464.3 863.2,1463.0 864.1,1462.3 864.6,1461.6 865.3,1460.7 866.5,1460.5 867.5,1461.2 868.0,1462.3 868.1,1463.4 867.5,1464.4M890.3,1725.0 889.2,1725.6 888.1,1726.0 886.9,1726.7 884.6,1726.8 882.7,1725.7 882.7,1724.3 883.5,1723.5 883.7,1722.7 884.2,1721.7 886.0,1721.3 888.0,1721.8 889.6,1722.8 890.6,1724.0 890.3,1725.0M825.4,1552.6 824.9,1551.9 825.2,1550.8 825.7,1549.9 826.2,1549.2 826.9,1548.5 827.6,1548.2 828.3,1548.3 828.9,1548.6 829.1,1549.5 828.5,1550.6 827.6,1551.1 827.1,1551.4 826.4,1552.1 825.4,1552.6M876.0,1576.0 874.8,1575.9 873.9,1575.1 873.0,1574.4 871.8,1573.3 871.1,1571.5 871.9,1570.1 873.4,1570.3 874.4,1570.8 875.3,1570.7 876.6,1571.1 877.5,1572.6 877.5,1574.2 876.9,1575.4 876.0,1576.0M854.1,1529.2 853.6,1528.8 853.2,1528.1 852.7,1527.6 852.2,1526.5 852.1,1525.2 852.8,1524.8 853.5,1525.2 853.9,1525.4 854.4,1525.5 855.0,1526.1 855.2,1527.3 855.0,1528.3 854.6,1529.0 854.1,1529.2M863.3,1479.7 862.8,1480.4 861.7,1480.4 860.7,1478.3 860.6,1475.7 861.1,1474.4 861.4,1473.4 861.8,1472.2 862.5,1471.9 863.5,1473.0 864.3,1474.9 864.8,1477.2 864.7,1479.2 864.0,1479.7 863.3,1479.7M908.4,1751.6 907.7,1750.2 907.4,1748.7 907.4,1747.0 908.0,1745.3 908.9,1743.8 910.0,1742.2 911.7,1741.4 912.7,1742.8 912.3,1745.1 911.8,1746.7 911.8,1748.3 911.3,1750.6 909.8,1752.1 908.4,1751.6M839.1,1681.0 839.2,1678.2 841.4,1675.0 843.6,1672.5 845.8,1670.2 848.5,1668.6 851.1,1667.9 853.6,1667.8 855.2,1669.2 853.9,1672.5 850.5,1675.3 847.8,1676.6 845.6,1678.3 842.2,1680.8 839.1,1681.0M955.2,1766.4 955.4,1765.4 956.1,1764.5 957.0,1764.1 958.0,1763.7 959.3,1763.3 960.8,1763.8 961.0,1765.1 960.1,1766.2 959.3,1766.8 958.8,1767.7 957.8,1768.6 956.4,1768.5 955.5,1767.5 955.2,1766.4M841.9,1490.7 841.2,1491.3 840.2,1491.0 839.6,1488.9 840.1,1486.6 840.8,1485.5 841.3,1484.5 841.9,1483.5 842.7,1483.5 843.3,1484.7 843.8,1486.5 843.8,1488.7 843.3,1490.4 842.5,1490.7 841.9,1490.7M973.7,1760.8 972.9,1760.3 973.2,1759.5 975.1,1758.9 976.9,1759.0 977.9,1759.3 978.9,1759.5 979.8,1759.8 979.7,1760.4 978.9,1761.1 977.4,1761.7 975.6,1762.0 974.3,1761.7 974.0,1761.2 973.7,1760.8M981.7,1763.1 982.1,1762.4 982.6,1761.9 983.3,1761.5 984.1,1761.4 984.9,1761.4 985.9,1761.5 986.6,1762.1 986.2,1762.9 985.2,1763.3 984.5,1763.4 983.8,1763.8 982.8,1764.2 981.8,1763.8 981.7,1763.1M873.0,1470.2 872.9,1471.5 871.8,1472.3 869.9,1471.4 868.8,1469.7 868.6,1468.4 868.2,1467.3 868.1,1466.1 868.8,1465.4 870.2,1465.3 871.8,1465.9 873.3,1467.1 873.8,1468.6 873.4,1469.5 873.0,1470.2M874.6,1689.2 875.5,1688.4 876.6,1687.8 877.7,1687.1 879.6,1686.3 882.0,1686.3 882.7,1687.3 881.9,1688.3 881.5,1688.9 881.4,1689.8 880.1,1690.7 877.9,1690.9 876.1,1690.6 874.9,1690.0 874.6,1689.2M845.4,1614.8 845.5,1615.6 844.5,1615.9 843.2,1615.5 842.3,1615.0 841.6,1614.6 840.9,1614.0 840.8,1613.4 841.0,1612.8 841.7,1612.4 842.9,1612.4 844.0,1613.0 844.3,1613.6 844.7,1614.1 845.4,1614.8M959.6,1765.3 958.9,1764.8 958.4,1764.1 958.3,1763.2 958.5,1762.4 958.8,1761.5 959.4,1760.5 960.5,1760.3 961.2,1761.3 961.2,1762.3 961.4,1763.0 961.7,1763.9 961.5,1765.0 960.6,1765.6 959.6,1765.3M876.2,1521.6 874.0,1522.0 871.0,1520.8 868.0,1518.7 865.0,1516.4 861.1,1513.0 858.9,1508.8 860.9,1507.3 864.9,1509.0 867.6,1510.4 870.2,1510.9 874.2,1513.1 877.3,1516.9 877.5,1520.0 876.2,1521.6M837.6,1561.6 836.1,1562.2 834.8,1562.3 833.5,1562.2 832.4,1561.5 831.6,1560.6 830.9,1559.4 830.7,1557.8 831.7,1556.7 833.4,1556.9 834.6,1557.8 835.5,1558.3 837.0,1558.8 838.1,1560.1 837.6,1561.6M879.0,1466.5 878.3,1465.9 878.0,1464.8 878.7,1464.0 879.8,1464.1 880.6,1464.5 881.2,1464.7 881.9,1465.1 882.3,1465.9 882.1,1466.8 881.6,1467.6 880.8,1468.1 879.9,1467.7 879.4,1467.0 879.0,1466.5M896.0,1719.9 895.0,1720.1 894.1,1720.1 893.1,1720.2 891.6,1719.9 890.5,1718.7 891.0,1717.5 892.0,1717.0 892.6,1716.6 893.2,1716.0 894.5,1715.9 895.6,1716.7 896.3,1717.9 896.4,1719.0 896.0,1719.9M825.7,1564.0 825.2,1564.4 824.5,1564.4 824.0,1563.6 824.2,1562.7 824.6,1562.2 824.8,1561.7 825.1,1561.2 825.7,1561.2 826.3,1561.5 826.8,1562.1 826.9,1563.0 826.6,1563.6 826.1,1563.8 825.7,1564.0M842.5,1668.1 841.4,1668.6 840.0,1668.4 838.7,1667.7 837.4,1666.9 835.8,1665.6 834.8,1663.8 835.8,1662.6 837.7,1663.0 839.0,1663.5 840.2,1663.4 842.0,1664.0 843.4,1665.6 843.3,1667.1 842.5,1668.1M866.9,1654.6 865.7,1653.8 865.1,1652.4 864.5,1651.1 863.8,1649.2 864.1,1646.8 865.7,1645.7 867.3,1646.7 868.1,1647.8 869.2,1648.3 870.4,1649.5 870.6,1651.6 869.7,1653.4 868.3,1654.4 866.9,1654.6M877.7,1549.5 877.2,1549.3 877.2,1548.5 877.4,1547.7 877.5,1547.1 877.8,1546.5 878.1,1546.1 878.5,1545.9 878.9,1546.0 879.2,1546.5 879.0,1547.4 878.7,1548.0 878.4,1548.3 878.1,1548.9 877.7,1549.5M958.1,1762.7 958.0,1762.3 957.8,1761.8 958.1,1761.2 958.9,1761.0 959.5,1761.3 959.8,1761.6 960.1,1761.9 960.4,1762.3 960.3,1762.8 959.8,1763.2 959.2,1763.5 958.5,1763.5 958.1,1763.1 958.1,1762.7M881.5,1582.3 881.7,1586.1 878.6,1588.1 874.9,1587.0 872.6,1585.1 870.6,1583.7 868.9,1581.6 868.6,1578.8 869.7,1576.1 871.9,1573.8 875.3,1573.0 878.2,1575.0 879.0,1577.9 879.7,1579.8 881.5,1582.3M850.6,1597.1 849.6,1596.2 850.6,1594.9 852.7,1594.3 854.4,1594.3 855.8,1594.3 857.1,1594.4 858.0,1595.1 858.0,1596.1 857.4,1597.3 855.9,1598.3 853.9,1598.5 852.7,1597.9 852.0,1597.4 850.6,1597.1M841.7,1507.5 841.2,1508.9 839.7,1509.3 837.6,1507.3 836.7,1504.5 836.8,1502.8 836.7,1501.3 836.8,1499.7 837.8,1499.1 839.5,1499.9 841.3,1501.5 842.8,1503.8 843.2,1506.0 842.3,1506.9 841.7,1507.5M827.3,1594.1 825.2,1593.6 825.2,1591.4 828.2,1589.1 831.2,1588.2 833.3,1587.9 835.4,1587.4 837.2,1587.6 837.7,1589.1 837.0,1591.1 835.2,1593.4 832.2,1595.1 829.8,1595.2 828.7,1594.4 827.3,1594.1M841.9,1502.8 841.3,1502.3 841.1,1501.4 841.2,1500.4 841.2,1499.3 841.4,1497.9 842.2,1496.8 843.1,1497.3 843.3,1498.4 843.5,1499.2 843.9,1499.9 844.0,1501.2 843.4,1502.4 842.6,1502.9 841.9,1502.8M882.6,1714.6 881.9,1714.6 881.3,1714.3 880.9,1713.8 880.6,1713.2 880.2,1712.4 880.2,1711.4 880.9,1711.0 881.7,1711.4 882.2,1712.0 882.7,1712.3 883.4,1712.8 883.6,1713.7 883.2,1714.4 882.6,1714.6M855.0,1571.9 854.8,1571.2 855.0,1570.4 855.4,1569.7 855.8,1568.9 856.7,1568.0 857.7,1568.1 858.0,1569.1 857.9,1569.9 858.0,1570.5 858.1,1571.3 857.5,1572.3 856.5,1572.6 855.6,1572.4 855.0,1571.9M874.2,1503.9 873.5,1503.6 873.0,1503.4 872.1,1503.0 871.2,1501.8 871.1,1500.6 871.7,1500.1 872.2,1500.1 872.6,1499.7 873.2,1499.7 874.1,1500.5 874.7,1501.7 874.9,1502.8 874.8,1503.7 874.2,1503.9M860.7,1482.6 859.6,1483.2 858.1,1482.9 857.4,1480.9 858.1,1479.0 859.1,1477.9 859.7,1477.0 860.6,1476.1 861.8,1476.1 862.8,1477.2 863.5,1478.8 863.6,1480.7 862.7,1482.1 861.5,1482.4 860.7,1482.6M836.0,1588.1 835.4,1587.9 834.8,1587.2 834.2,1586.6 833.5,1585.7 832.9,1584.4 833.2,1583.5 834.0,1583.7 834.6,1584.2 835.1,1584.3 835.9,1584.7 836.5,1585.8 836.7,1586.9 836.4,1587.7 836.0,1588.1M856.4,1610.2 855.7,1610.3 855.1,1609.8 855.2,1608.9 855.9,1608.2 856.5,1607.9 856.9,1607.6 857.5,1607.4 858.0,1607.7 858.3,1608.3 858.3,1609.1 858.0,1609.9 857.3,1610.3 856.8,1610.2 856.4,1610.2M838.1,1642.8 837.3,1643.2 836.3,1643.5 835.1,1643.3 833.9,1643.0 832.6,1642.5 831.2,1641.7 830.8,1640.8 832.0,1640.4 833.6,1640.6 834.6,1640.7 835.9,1640.7 837.6,1641.1 838.5,1642.0 838.1,1642.8M879.5,1722.0 877.6,1722.2 875.5,1721.0 875.3,1718.7 877.1,1717.2 878.8,1716.7 880.0,1716.0 881.7,1715.6 883.4,1716.3 884.5,1717.8 885.0,1719.7 884.4,1721.7 882.6,1722.6 880.8,1722.2 879.5,1722.0M850.4,1511.6 849.0,1510.7 848.1,1509.2 847.5,1507.8 847.1,1506.3 847.2,1504.8 847.7,1503.4 848.5,1502.1 849.8,1501.9 851.0,1503.5 851.1,1505.6 851.1,1506.9 851.5,1508.5 851.5,1510.6 850.4,1511.6M846.4,1585.7 845.7,1585.5 845.0,1584.8 844.6,1583.9 844.2,1582.9 843.8,1581.5 844.0,1580.2 845.0,1580.0 845.8,1581.0 846.3,1581.7 847.0,1582.2 847.8,1583.2 847.8,1584.6 847.2,1585.5 846.4,1585.7M879.2,1569.7 879.2,1570.9 878.0,1571.1 876.2,1569.5 875.3,1567.8 874.9,1566.6 874.4,1565.4 874.3,1564.3 875.0,1563.9 876.2,1564.2 877.8,1565.2 879.2,1566.8 879.5,1568.2 879.2,1568.9 879.2,1569.7M833.4,1553.5 832.5,1554.1 831.5,1554.2 830.6,1554.3 829.7,1554.1 829.0,1553.6 828.4,1553.0 827.9,1552.3 828.1,1551.4 829.2,1551.1 830.4,1551.5 831.0,1551.9 831.9,1552.1 833.1,1552.6 833.4,1553.5M993.1,1760.7 993.4,1761.5 993.1,1762.4 992.1,1762.6 991.3,1762.1 990.8,1761.5 990.4,1761.1 990.0,1760.5 990.1,1759.7 990.7,1759.2 991.5,1758.8 992.4,1758.9 992.9,1759.5 993.0,1760.2 993.1,1760.7M839.5,1665.3 838.9,1667.6 834.2,1668.3 829.6,1667.6 826.0,1667.0 822.5,1666.1 819.9,1664.5 818.8,1662.6 818.9,1660.6 821.5,1658.9 826.5,1659.1 830.3,1660.8 832.4,1662.2 835.8,1663.2 839.5,1665.3M854.2,1660.6 853.9,1660.5 853.4,1660.4 853.2,1659.7 853.5,1658.9 854.0,1658.6 854.4,1658.5 854.8,1658.2 855.2,1658.2 855.5,1658.7 855.5,1659.4 855.4,1660.1 855.0,1660.7 854.5,1660.8 854.2,1660.6M879.8,1731.7 879.6,1730.5 880.1,1728.7 880.5,1727.2 881.1,1725.7 881.9,1724.4 882.7,1723.4 883.5,1722.7 884.2,1722.9 884.0,1724.6 883.1,1726.5 882.4,1727.7 881.8,1729.0 880.8,1730.9 879.8,1731.7M992.6,1761.2 991.6,1761.2 991.1,1760.3 991.4,1759.2 991.8,1758.5 992.2,1757.8 992.8,1757.3 993.6,1757.2 994.4,1757.5 995.1,1758.1 995.2,1759.1 994.6,1760.0 993.8,1760.3 993.3,1760.6 992.6,1761.2M885.1,1471.6 884.5,1471.1 883.9,1470.6 883.1,1470.1 882.7,1469.0 883.3,1468.1 884.4,1468.0 885.2,1468.2 885.8,1468.2 886.7,1468.4 887.3,1469.2 887.2,1470.2 886.7,1471.1 886.0,1471.6 885.1,1471.6M832.7,1613.6 832.6,1613.1 832.7,1612.6 832.9,1612.0 833.3,1611.5 833.7,1611.1 834.3,1610.7 834.8,1610.5 834.9,1611.0 834.5,1611.8 834.2,1612.3 834.0,1612.8 833.6,1613.5 833.0,1613.8 832.7,1613.6M904.5,1743.9 904.6,1743.1 905.3,1742.7 905.9,1742.5 906.4,1742.4 907.0,1742.5 907.5,1742.8 907.9,1743.3 908.0,1744.0 907.7,1744.6 906.9,1744.7 906.3,1744.5 905.8,1744.4 905.1,1744.4 904.5,1743.9M877.3,1702.0 877.2,1701.2 877.0,1700.6 876.8,1699.6 877.2,1698.5 878.3,1698.3 879.2,1699.0 879.6,1699.7 880.1,1700.1 880.7,1700.9 880.6,1701.9 879.8,1702.5 878.9,1702.8 877.9,1702.7 877.3,1702.0M850.5,1528.3 850.8,1527.3 851.6,1526.5 852.2,1525.6 853.4,1524.5 855.2,1524.1 856.2,1525.0 855.9,1526.3 855.6,1527.2 855.7,1528.1 855.1,1529.2 853.6,1529.9 852.1,1529.8 851.0,1529.2 850.5,1528.3M844.9,1572.5 844.6,1572.0 844.2,1571.4 844.3,1570.6 845.0,1570.3 845.7,1570.7 846.2,1571.1 846.6,1571.3 847.1,1571.8 847.1,1572.5 846.8,1573.1 846.3,1573.5 845.6,1573.5 845.1,1573.0 844.9,1572.5M835.3,1520.1 834.6,1519.4 834.3,1518.7 834.2,1517.9 834.4,1517.1 834.8,1516.4 835.4,1515.7 836.4,1515.3 837.2,1516.0 837.3,1517.1 837.0,1517.8 837.1,1518.6 837.0,1519.6 836.2,1520.3 835.3,1520.1M876.4,1475.5 876.3,1476.1 875.7,1476.3 874.7,1475.4 874.1,1474.2 874.0,1473.4 873.8,1472.8 873.7,1472.1 874.1,1471.8 874.8,1472.1 875.7,1472.8 876.5,1473.9 876.8,1474.8 876.6,1475.2 876.4,1475.5M877.1,1521.0 876.5,1520.8 876.2,1520.0 876.0,1519.4 875.8,1518.8 875.8,1518.1 876.0,1517.6 876.3,1517.2 876.8,1517.1 877.3,1517.6 877.4,1518.5 877.3,1519.1 877.3,1519.6 877.4,1520.4 877.1,1521.0M865.5,1711.9 865.2,1711.2 865.0,1710.5 864.8,1709.7 864.7,1708.4 865.4,1707.2 866.1,1707.1 866.6,1707.7 866.9,1707.9 867.4,1708.2 867.6,1709.2 867.3,1710.5 866.7,1711.4 866.1,1712.0 865.5,1711.9M921.2,1754.7 921.8,1755.4 921.0,1756.1 919.5,1756.1 918.4,1755.7 917.5,1755.5 916.7,1755.1 916.2,1754.6 916.4,1754.0 917.0,1753.4 918.2,1753.1 919.6,1753.2 920.2,1753.8 920.5,1754.3 921.2,1754.7M833.9,1677.4 833.6,1677.1 833.5,1676.5 833.6,1675.9 833.6,1675.2 833.8,1674.3 834.3,1673.8 834.8,1674.1 834.9,1674.8 835.0,1675.2 835.2,1675.7 835.1,1676.5 834.8,1677.2 834.3,1677.5 833.9,1677.4M853.4,1580.5 852.5,1580.7 851.9,1581.2 850.3,1581.4 848.1,1580.2 847.2,1578.7 847.5,1577.9 847.5,1577.2 847.5,1576.3 848.6,1575.9 850.4,1576.5 852.2,1577.5 853.7,1578.8 854.1,1580.0 853.4,1580.5M848.4,1628.9 847.9,1628.9 847.4,1629.1 846.7,1629.0 846.1,1628.4 846.3,1627.6 846.8,1627.2 847.1,1626.9 847.4,1626.5 848.0,1626.4 848.6,1626.8 849.0,1627.4 849.1,1628.1 848.9,1628.7 848.4,1628.9M852.1,1521.2 851.5,1521.1 851.3,1520.5 852.2,1519.5 853.5,1518.9 854.3,1518.8 854.9,1518.8 855.6,1518.7 855.9,1519.1 855.6,1519.8 854.8,1520.7 853.7,1521.5 852.7,1521.8 852.2,1521.5 852.1,1521.2M859.8,1722.8 858.8,1722.9 857.9,1722.6 857.1,1722.2 856.3,1721.6 855.9,1720.9 855.6,1720.0 855.5,1719.1 856.2,1718.5 857.3,1718.9 858.1,1719.8 858.5,1720.3 859.4,1720.9 860.1,1721.9 859.8,1722.8M864.5,1690.2 864.6,1689.3 864.7,1688.5 864.8,1687.4 865.7,1686.3 867.1,1686.3 867.8,1687.3 868.0,1688.2 868.4,1688.8 868.7,1689.8 868.2,1690.8 867.1,1691.4 865.9,1691.4 864.9,1691.0 864.5,1690.2M871.5,1566.3 870.7,1566.6 869.9,1566.6 869.1,1566.5 868.4,1566.1 867.8,1565.6 867.3,1564.9 867.0,1564.1 867.6,1563.6 868.7,1563.8 869.4,1564.3 870.1,1564.5 871.0,1564.8 871.7,1565.6 871.5,1566.3M837.8,1598.9 838.7,1600.1 837.8,1601.2 834.6,1601.0 831.8,1599.7 830.5,1598.6 829.1,1597.8 827.9,1596.7 828.3,1595.7 830.1,1595.2 832.6,1595.2 835.6,1595.8 837.5,1597.1 837.6,1598.1 837.8,1598.9M866.2,1566.3 866.6,1567.2 865.8,1567.8 864.3,1567.5 863.2,1566.9 862.5,1566.4 861.7,1565.9 861.4,1565.2 861.7,1564.6 862.4,1564.2 863.6,1564.0 864.9,1564.5 865.5,1565.2 865.7,1565.8 866.2,1566.3M994.4,1768.4 994.3,1767.1 994.9,1766.0 995.5,1765.0 996.3,1763.6 998.1,1762.6 999.6,1763.2 999.8,1764.8 999.5,1766.0 999.7,1767.0 999.5,1768.5 998.3,1769.7 996.6,1769.9 995.2,1769.3 994.4,1768.4M860.4,1603.6 860.2,1602.9 860.2,1602.0 860.0,1601.2 860.0,1599.7 860.6,1598.2 861.2,1598.0 861.5,1598.7 861.8,1599.0 862.2,1599.3 862.3,1600.3 862.0,1601.8 861.5,1602.9 860.9,1603.6 860.4,1603.6M890.4,1721.7 889.2,1720.1 888.9,1718.2 888.7,1716.6 889.0,1714.8 889.8,1713.3 890.9,1712.1 892.4,1711.1 894.0,1711.6 894.5,1713.8 893.8,1715.9 893.2,1717.2 893.1,1719.1 892.0,1721.3 890.4,1721.7M854.2,1591.6 853.6,1591.7 853.1,1591.7 852.3,1591.8 851.2,1591.3 850.7,1590.4 851.0,1589.8 851.4,1589.5 851.5,1589.1 852.0,1588.8 853.0,1589.1 853.8,1589.8 854.4,1590.6 854.6,1591.3 854.2,1591.6M843.1,1602.3 842.7,1602.8 842.0,1603.0 841.3,1603.0 840.6,1602.9 839.6,1602.7 839.0,1602.0 839.3,1601.2 840.2,1601.0 840.7,1600.8 841.3,1600.5 842.2,1600.3 843.0,1600.8 843.2,1601.6 843.1,1602.3M876.8,1509.6 876.3,1509.8 876.0,1509.2 876.2,1508.3 876.5,1507.8 876.7,1507.3 877.0,1506.8 877.4,1506.7 877.7,1506.8 878.0,1507.2 878.1,1507.9 877.8,1508.6 877.4,1508.9 877.1,1509.1 876.8,1509.6M877.6,1726.3 876.5,1727.7 874.3,1727.6 872.5,1727.1 870.9,1726.5 869.5,1725.6 868.7,1724.4 868.4,1723.0 868.8,1721.6 870.4,1720.8 872.6,1721.4 873.9,1722.8 874.8,1723.6 876.4,1724.6 877.6,1726.3M825.8,1564.7 823.9,1564.3 823.1,1562.5 824.5,1560.2 826.6,1559.2 828.2,1558.9 829.7,1558.4 831.3,1558.5 832.3,1559.7 832.5,1561.5 832.0,1563.6 830.3,1565.3 828.3,1565.5 827.1,1564.8 825.8,1564.7M901.0,1746.3 900.6,1745.8 900.4,1745.1 900.1,1744.5 899.8,1743.4 899.9,1742.1 900.5,1741.7 900.9,1742.2 901.3,1742.5 901.7,1742.6 902.1,1743.4 902.1,1744.6 901.8,1745.5 901.5,1746.2 901.0,1746.3M949.0,1756.9 947.4,1758.7 945.8,1756.7 945.7,1751.9 946.5,1748.1 947.3,1745.6 948.0,1742.9 949.2,1741.3 950.5,1741.8 951.8,1744.0 952.6,1747.6 952.3,1751.9 951.0,1754.3 949.9,1755.0 949.0,1756.9M846.9,1523.3 846.5,1522.9 845.9,1522.6 845.5,1521.6 846.0,1520.2 846.9,1519.7 847.6,1519.8 848.1,1519.6 848.8,1519.6 849.3,1520.3 849.2,1521.4 848.8,1522.6 848.2,1523.5 847.4,1523.7 846.9,1523.3M878.4,1481.5 878.0,1480.8 878.1,1480.0 878.4,1479.5 878.7,1479.1 879.2,1478.8 879.8,1478.8 880.5,1478.9 881.1,1479.4 881.3,1480.2 880.8,1480.7 880.2,1480.9 879.8,1481.1 879.2,1481.6 878.4,1481.5M843.1,1525.6 843.6,1524.9 844.0,1524.4 844.6,1523.6 845.8,1522.8 847.3,1522.6 847.7,1523.2 847.5,1523.9 847.7,1524.3 847.7,1524.9 846.8,1525.7 845.5,1526.2 844.2,1526.3 843.3,1526.1 843.1,1525.6M879.9,1539.6 879.2,1539.7 878.3,1539.3 877.5,1538.9 876.8,1538.5 876.2,1537.9 875.8,1537.3 875.6,1536.7 875.9,1536.3 876.7,1536.4 877.7,1537.1 878.2,1537.7 878.7,1538.1 879.6,1538.9 879.9,1539.6M844.4,1492.6 843.9,1492.2 844.5,1491.7 845.8,1491.3 846.8,1491.3 847.6,1491.2 848.4,1491.2 848.8,1491.4 848.8,1491.8 848.4,1492.3 847.4,1492.8 846.2,1492.9 845.6,1492.7 845.2,1492.6 844.4,1492.6M830.9,1596.3 831.2,1595.7 831.6,1595.2 832.1,1594.8 832.7,1594.6 833.3,1594.7 834.0,1594.8 834.6,1595.2 834.6,1595.9 833.9,1596.4 833.2,1596.5 832.7,1596.6 832.1,1597.0 831.2,1596.9 830.9,1596.3M868.4,1500.7 867.0,1500.5 865.3,1499.2 863.9,1497.6 862.1,1495.8 860.2,1492.9 860.0,1490.3 861.8,1490.2 863.7,1491.7 865.0,1492.3 866.7,1492.9 868.7,1495.1 869.7,1497.9 869.3,1499.7 868.4,1500.7M855.9,1668.0 855.4,1667.5 854.8,1666.6 855.4,1665.2 856.9,1664.5 858.1,1664.7 858.8,1665.0 859.7,1665.2 860.4,1665.8 860.3,1666.9 859.5,1668.0 858.3,1668.9 857.0,1669.3 856.2,1668.8 855.9,1668.0M845.6,1497.9 844.1,1497.2 842.8,1496.3 841.8,1495.0 841.2,1493.4 841.0,1491.8 841.0,1489.9 841.8,1488.3 843.4,1488.4 844.8,1490.3 845.3,1492.0 846.1,1493.2 847.1,1495.1 847.0,1497.2 845.6,1497.9M878.3,1709.0 876.4,1708.7 877.0,1706.7 879.9,1704.4 882.5,1703.3 884.4,1702.5 886.4,1701.7 887.9,1701.9 888.3,1703.0 887.7,1704.8 885.9,1707.0 883.1,1708.7 881.1,1708.9 880.1,1708.6 878.3,1709.0M925.3,1752.8 924.5,1751.9 924.7,1750.6 925.1,1749.6 925.5,1748.7 926.2,1748.0 927.1,1747.6 928.0,1747.6 929.0,1748.0 929.4,1749.1 928.7,1750.4 927.8,1750.9 927.2,1751.5 926.5,1752.4 925.3,1752.8M843.7,1500.5 842.1,1502.1 840.0,1501.4 839.0,1498.6 839.4,1496.2 839.9,1494.6 840.3,1492.8 841.4,1491.5 843.1,1491.4 844.8,1492.3 846.3,1494.1 846.7,1496.7 845.6,1498.5 844.4,1499.2 843.7,1500.5M849.2,1603.7 847.7,1601.9 847.0,1599.1 846.6,1596.7 846.5,1594.1 847.1,1591.8 848.1,1589.9 849.5,1588.3 851.3,1588.3 852.3,1591.0 852.0,1594.4 851.4,1596.5 851.5,1598.9 850.9,1602.3 849.2,1603.7M827.3,1598.3 826.9,1597.0 826.7,1594.9 829.2,1592.8 833.2,1592.7 835.4,1594.1 836.5,1595.3 838.1,1596.3 838.9,1598.0 837.4,1599.8 834.6,1601.2 831.2,1601.9 828.1,1601.5 826.9,1599.9 827.3,1598.3M864.6,1613.2 864.4,1612.1 866.5,1611.2 869.0,1611.1 870.9,1611.1 872.7,1611.2 874.2,1611.6 874.9,1612.4 874.9,1613.3 873.9,1614.4 871.5,1614.9 869.3,1614.5 868.2,1614.0 866.7,1613.7 864.6,1613.2M874.7,1451.4 874.3,1451.3 874.0,1450.9 873.8,1450.5 873.6,1450.0 873.5,1449.2 873.8,1448.6 874.3,1448.7 874.7,1449.2 875.0,1449.5 875.4,1449.7 875.7,1450.3 875.6,1451.0 875.2,1451.3 874.7,1451.4M840.1,1543.0 839.0,1542.5 838.7,1541.3 839.7,1540.1 841.2,1539.8 842.2,1540.0 843.1,1539.9 844.1,1540.2 844.6,1541.1 844.4,1542.2 843.8,1543.4 842.6,1544.2 841.4,1544.0 840.7,1543.4 840.1,1543.0M912.8,1740.8 911.7,1740.9 910.4,1740.4 909.3,1739.7 907.8,1738.9 906.3,1737.2 906.3,1735.6 907.8,1735.3 909.1,1735.7 910.0,1735.6 911.4,1735.6 912.9,1736.8 913.6,1738.5 913.5,1739.9 912.8,1740.8M828.1,1650.5 824.4,1650.7 821.7,1648.0 822.5,1644.3 825.3,1642.1 827.4,1640.8 829.5,1639.3 832.4,1639.0 835.0,1640.4 837.0,1642.9 837.7,1646.3 836.1,1649.3 832.9,1650.1 830.4,1649.8 828.1,1650.5M893.0,1746.3 892.5,1744.4 892.6,1742.4 892.9,1740.3 893.6,1738.2 894.7,1736.4 896.0,1734.6 897.5,1733.4 898.5,1734.4 898.1,1737.3 897.0,1739.7 896.5,1741.4 895.8,1744.0 894.3,1746.4 893.0,1746.3M877.8,1719.7 877.0,1718.9 876.9,1717.7 877.8,1717.0 879.0,1717.1 879.8,1717.4 880.5,1717.6 881.3,1718.1 881.6,1719.0 881.4,1720.0 880.9,1720.9 879.8,1721.3 878.9,1720.8 878.4,1720.1 877.8,1719.7M838.9,1648.2 837.3,1648.3 835.7,1648.0 833.8,1647.2 832.2,1646.0 830.6,1644.6 828.8,1642.8 828.4,1641.1 830.3,1641.0 832.7,1642.3 834.3,1643.3 836.0,1643.9 838.5,1645.4 839.7,1647.3 838.9,1648.2M824.2,1658.5 825.1,1657.7 826.0,1657.1 826.9,1656.4 828.8,1655.6 830.9,1655.8 831.4,1656.9 830.8,1657.8 830.7,1658.4 830.5,1659.3 829.2,1660.1 827.2,1660.3 825.6,1660.0 824.4,1659.4 824.2,1658.5M992.4,1763.4 992.2,1763.0 992.0,1762.4 992.4,1761.5 993.6,1761.0 994.5,1761.2 994.9,1761.5 995.4,1761.7 995.9,1762.1 995.7,1762.8 995.0,1763.5 994.0,1764.1 993.0,1764.3 992.5,1763.9 992.4,1763.4M844.8,1626.9 844.7,1625.8 845.0,1624.7 845.9,1623.8 846.9,1623.1 848.2,1622.4 849.9,1622.0 850.9,1623.0 850.3,1624.5 849.3,1625.5 848.9,1626.3 848.2,1627.6 846.7,1628.4 845.3,1628.0 844.8,1626.9M830.0,1630.5 830.7,1629.8 831.5,1629.2 832.7,1628.8 833.9,1628.7 835.2,1628.7 836.7,1628.9 837.6,1629.6 836.8,1630.5 835.1,1630.9 834.1,1631.1 833.0,1631.6 831.3,1631.8 830.0,1631.4 830.0,1630.5M838.7,1592.1 837.7,1592.1 837.8,1591.2 839.3,1589.9 840.8,1589.1 841.8,1588.7 842.8,1588.3 843.7,1588.1 843.9,1588.7 843.4,1589.6 842.4,1590.8 841.0,1591.9 839.8,1592.2 839.4,1592.0 838.7,1592.1M877.2,1480.2 877.3,1480.9 876.3,1481.1 875.1,1480.6 874.3,1480.0 873.6,1479.6 873.0,1479.1 872.9,1478.6 873.2,1478.1 873.8,1477.9 874.9,1478.0 875.9,1478.6 876.2,1479.2 876.5,1479.6 877.2,1480.2M925.4,1748.2 922.8,1747.8 920.2,1746.4 918.0,1745.0 916.0,1743.1 914.5,1740.9 913.5,1738.6 913.1,1736.2 914.6,1735.0 917.6,1736.6 919.9,1739.3 921.3,1741.1 923.7,1743.1 925.9,1746.1 925.4,1748.2M841.3,1533.9 840.7,1533.6 840.8,1532.7 841.4,1532.0 841.8,1531.5 842.3,1531.1 842.9,1530.8 843.4,1530.9 843.8,1531.3 844.0,1531.9 843.7,1532.7 843.0,1533.2 842.5,1533.3 842.0,1533.5 841.3,1533.9M835.3,1534.1 833.7,1532.8 833.0,1530.4 833.0,1528.0 832.9,1525.3 833.6,1521.7 835.8,1519.2 838.1,1520.4 839.0,1523.3 839.6,1525.1 840.9,1526.9 841.3,1530.2 839.7,1533.2 837.4,1534.3 835.3,1534.1M865.6,1638.3 865.1,1638.6 864.8,1639.0 863.9,1639.5 862.3,1639.5 861.3,1638.9 861.2,1638.3 861.2,1637.9 861.0,1637.5 861.4,1637.0 862.6,1636.8 864.0,1637.0 865.2,1637.3 865.9,1637.8 865.6,1638.3M872.9,1500.0 872.7,1500.6 872.0,1500.1 871.3,1499.2 870.9,1498.5 870.6,1497.9 870.4,1497.2 870.4,1496.8 870.8,1496.6 871.4,1496.8 872.1,1497.4 872.6,1498.3 872.6,1498.8 872.7,1499.3 872.9,1500.0M885.4,1710.3 886.0,1710.0 886.8,1709.7 887.8,1709.5 888.8,1709.4 889.8,1709.4 891.0,1709.5 891.8,1709.8 891.2,1710.2 889.8,1710.4 888.8,1710.5 887.9,1710.7 886.5,1710.9 885.4,1710.7 885.4,1710.3M860.9,1523.5 859.9,1523.6 858.5,1523.1 858.1,1521.2 859.1,1519.2 860.4,1518.4 861.4,1517.9 862.4,1517.3 863.5,1517.4 864.2,1518.6 864.4,1520.4 864.0,1522.4 862.9,1523.8 861.7,1523.9 860.9,1523.5M848.1,1527.6 847.8,1527.4 847.4,1527.0 847.6,1526.1 848.4,1525.4 849.2,1525.4 849.6,1525.4 850.1,1525.4 850.5,1525.6 850.5,1526.2 850.2,1527.0 849.6,1527.7 848.8,1528.2 848.3,1528.0 848.1,1527.6M845.2,1480.4 844.3,1477.5 844.0,1474.8 843.2,1471.7 843.7,1466.6 846.9,1462.5 850.1,1462.9 851.6,1465.4 853.1,1466.6 855.1,1468.1 855.5,1472.0 853.5,1476.5 850.5,1479.6 847.6,1481.2 845.2,1480.4M840.2,1527.6 839.6,1527.7 838.9,1527.5 838.3,1527.2 837.7,1526.8 837.2,1526.3 837.0,1525.8 836.8,1525.2 837.1,1524.8 837.9,1525.0 838.6,1525.6 839.0,1526.0 839.6,1526.4 840.2,1527.0 840.2,1527.6M871.3,1667.5 870.4,1668.9 866.3,1668.7 862.4,1667.8 859.4,1667.0 856.4,1666.0 854.2,1664.6 853.3,1663.2 853.4,1661.9 855.8,1661.1 860.1,1661.9 863.3,1663.4 865.1,1664.5 868.2,1665.6 871.3,1667.5M832.9,1537.7 832.1,1535.1 832.8,1532.7 833.6,1530.5 834.7,1527.6 837.7,1525.3 841.0,1526.4 842.1,1529.7 841.9,1532.3 842.7,1534.3 843.0,1537.3 841.1,1539.9 837.8,1540.5 835.0,1539.5 832.9,1537.7M933.8,1757.2 933.2,1756.7 932.9,1756.0 932.7,1755.4 932.9,1754.7 933.2,1754.2 933.7,1753.5 934.6,1753.2 935.3,1753.7 935.4,1754.6 935.2,1755.3 935.3,1755.8 935.3,1756.7 934.6,1757.4 933.8,1757.2M864.1,1516.1 864.0,1516.7 863.2,1516.8 862.4,1516.7 861.8,1516.6 861.1,1516.4 860.7,1516.0 860.5,1515.6 860.6,1515.1 861.1,1514.7 861.9,1514.8 862.6,1515.1 862.9,1515.4 863.5,1515.7 864.1,1516.1M842.2,1495.0 841.8,1494.2 841.5,1493.2 841.4,1492.2 841.4,1491.2 841.6,1490.2 841.9,1489.3 842.3,1488.5 842.8,1488.7 843.1,1490.1 843.0,1491.3 842.9,1492.1 843.0,1493.4 842.8,1494.7 842.2,1495.0M831.6,1621.4 830.9,1620.9 831.2,1619.5 832.0,1618.4 832.6,1617.5 833.3,1616.7 834.1,1616.2 834.8,1616.2 835.4,1616.5 835.7,1617.5 835.0,1618.8 834.1,1619.6 833.4,1619.9 832.6,1620.7 831.6,1621.4M824.0,1603.2 823.6,1602.0 822.7,1600.4 824.4,1597.3 828.4,1594.9 831.4,1595.0 832.8,1595.8 834.5,1596.0 836.0,1596.9 835.3,1599.2 832.8,1601.9 829.5,1604.2 826.1,1605.5 824.2,1604.9 824.0,1603.2M855.7,1527.9 855.5,1527.3 855.0,1526.6 854.9,1525.4 855.8,1524.2 857.1,1524.0 857.8,1524.4 858.4,1524.6 859.2,1524.9 859.4,1525.8 859.0,1526.9 858.1,1528.0 857.1,1528.6 856.1,1528.6 855.7,1527.9M857.3,1517.2 856.7,1516.8 856.3,1515.6 856.0,1514.5 855.9,1513.5 855.9,1512.4 856.1,1511.7 856.5,1511.1 857.1,1510.9 857.7,1511.7 857.9,1513.1 857.7,1514.1 857.7,1515.0 857.7,1516.3 857.3,1517.2M862.6,1593.9 861.2,1594.5 859.6,1594.5 858.1,1594.4 856.7,1594.0 855.4,1593.3 854.4,1592.4 853.6,1591.3 854.0,1590.3 855.8,1590.2 857.7,1590.9 858.8,1591.5 860.3,1591.8 862.2,1592.7 862.6,1593.9M874.6,1587.3 874.0,1588.5 872.9,1589.1 872.1,1589.3 871.2,1589.3 870.4,1588.9 869.8,1588.1 869.4,1587.0 869.4,1585.6 870.3,1584.8 871.5,1585.0 872.2,1585.6 873.0,1585.6 874.1,1586.1 874.6,1587.3M870.0,1669.3 868.9,1669.6 867.8,1669.8 866.6,1670.0 864.6,1669.9 862.9,1668.7 862.9,1667.4 863.9,1666.9 864.4,1666.3 864.9,1665.6 866.5,1665.4 868.3,1666.2 869.6,1667.3 870.2,1668.4 870.0,1669.3M493.5,519.4 495.8,520.8 497.6,523.5 497.1,527.1 499.9,529.4 502.6,532.6 503.5,536.2 506.2,538.9 505.7,541.6 503.9,544.3 499.4,546.1 495.3,546.6 492.2,545.2 491.0,542.5 492.6,540.3 495.3,538.4 498.9,537.5 499.4,535.7 497.1,533.9 495.3,531.2 493.5,528.9 493.5,525.3 491.7,523.5 489.0,523.5 489.9,521.7 493.5,519.4M493.0,531.7 492.7,532.6 492.6,533.9 491.5,535.1 489.7,535.0 488.7,533.7 488.5,532.5 488.0,531.7 487.7,530.5 488.4,529.3 489.8,528.7 491.4,528.7 492.7,529.3 493.3,530.5 493.0,531.7M512.2,530.3 512.0,531.5 510.0,531.7 508.1,531.1 506.8,530.5 505.5,529.8 504.5,528.9 504.3,527.8 504.7,526.8 505.8,526.0 507.8,526.2 509.3,527.3 509.9,528.3 510.9,529.0 512.2,530.3M518.6,537.5 518.1,538.7 517.9,540.3 516.5,542.1 514.0,542.1 512.5,540.4 512.3,538.7 511.9,537.5 511.4,536.0 512.3,534.4 514.2,533.6 516.3,533.6 518.2,534.4 519.0,536.0 518.6,537.5M538.8,538.6 540.1,538.8 538.9,540.5 536.4,542.2 534.3,543.2 532.7,544.0 531.0,544.7 530.0,544.7 529.8,543.9 530.4,542.6 532.2,540.9 534.6,539.6 536.0,539.4 537.0,539.3 538.8,538.6M507.8,510.0 507.9,510.9 507.3,511.5 506.7,511.5 506.2,511.3 505.7,511.1 505.3,510.7 505.1,510.0 505.2,509.1 505.5,508.3 506.1,508.0 506.7,508.4 506.9,509.0 507.3,509.4 507.8,510.0M515.0,516.3 515.0,517.1 514.1,517.6 513.1,517.5 512.4,517.4 511.7,517.3 511.1,516.9 510.8,516.3 510.8,515.6 511.3,514.9 512.3,514.7 513.1,515.1 513.5,515.5 514.2,515.7 515.0,516.3M524.5,516.1 524.7,516.4 524.5,516.7 524.0,516.8 523.7,516.6 523.4,516.4 523.2,516.3 523.0,516.1 523.1,515.8 523.3,515.5 523.6,515.3 524.0,515.4 524.3,515.6 524.3,515.9 524.5,516.1M514.8,552.0 515.1,552.8 515.0,553.8 514.0,554.3 513.0,553.8 512.5,553.1 512.0,552.6 511.6,552.0 511.6,551.2 512.1,550.5 512.9,550.0 513.9,550.0 514.6,550.6 514.7,551.4 514.8,552.0M530.8,554.1 530.9,554.5 530.8,554.9 529.7,555.0 528.5,554.6 528.0,554.1 527.7,553.8 527.2,553.4 527.2,553.0 527.9,552.8 528.9,552.9 530.0,553.0 530.8,553.5 531.0,553.9 530.8,554.1M759.7,1274.0 760.3,1275.1 759.5,1276.1 757.7,1276.1 756.4,1275.6 755.5,1275.3 754.5,1274.8 754.0,1274.0 754.2,1273.1 754.9,1272.2 756.2,1271.7 757.7,1271.9 758.5,1272.8 758.9,1273.4 759.7,1274.0M121.1,1129.0 120.4,1129.7 119.4,1130.1 118.5,1130.3 117.5,1130.3 116.6,1130.1 115.8,1129.6 115.0,1129.0 115.1,1128.2 116.3,1127.7 117.6,1127.9 118.4,1128.0 119.5,1127.9 120.8,1128.2 121.1,1129.0M1042.4,278.5 1042.3,279.3 1041.4,279.8 1040.4,279.8 1039.6,279.7 1038.9,279.6 1038.3,279.1 1038.0,278.5 1037.9,277.8 1038.5,277.1 1039.5,276.9 1040.4,277.3 1040.8,277.7 1041.6,277.9 1042.4,278.5M1013.7,259.5 1012.8,260.4 1011.7,260.9 1010.6,261.2 1009.4,261.3 1008.3,260.9 1007.3,260.4 1006.4,259.5 1006.6,258.4 1008.0,257.9 1009.5,258.1 1010.5,258.2 1011.8,258.0 1013.3,258.4 1013.7,259.5M1056.6,258.0 1056.3,258.5 1056.2,259.2 1055.6,259.9 1054.4,259.9 1053.8,259.2 1053.7,258.5 1053.4,258.0 1053.2,257.4 1053.6,256.7 1054.5,256.4 1055.5,256.4 1056.4,256.7 1056.8,257.4 1056.6,258.0M992.5,254.0 992.3,254.6 991.9,255.1 991.3,255.3 990.7,255.2 990.0,255.2 989.3,254.8 989.1,254.0 989.7,253.4 990.3,253.2 990.8,252.9 991.3,252.5 992.1,252.6 992.6,253.2 992.5,254.0M1071.6,277.0 1072.9,278.7 1072.0,280.6 1068.6,281.1 1065.8,280.1 1064.1,279.1 1062.4,278.3 1061.1,277.0 1061.3,275.4 1062.9,274.0 1065.5,273.0 1068.5,273.1 1070.4,274.5 1070.8,275.9 1071.6,277.0M1799.3,1205.0 1799.4,1205.9 1798.4,1206.4 1797.4,1206.3 1796.6,1206.2 1795.9,1206.0 1795.3,1205.6 1795.0,1205.0 1795.0,1204.3 1795.5,1203.6 1796.5,1203.3 1797.4,1203.7 1797.8,1204.2 1798.5,1204.5 1799.3,1205.0M1735.0,610.0 1734.7,610.4 1734.0,610.6 1733.4,610.8 1732.5,611.0 1731.4,611.0 1730.8,610.5 1731.2,610.0 1731.8,609.7 1732.0,609.4 1732.5,609.0 1733.5,608.8 1734.4,609.1 1734.9,609.5 1735.0,610.0M1796.5,505.0 1796.4,505.3 1796.4,505.9 1795.6,506.3 1794.5,506.2 1793.9,505.7 1793.7,505.3 1793.3,505.0 1793.1,504.6 1793.6,504.1 1794.5,503.9 1795.5,503.9 1796.4,504.1 1796.6,504.6 1796.5,505.0M1803.7,982.0 1803.5,982.8 1802.0,983.2 1800.6,983.3 1799.4,983.2 1798.3,983.1 1797.4,982.6 1797.0,982.0 1796.9,981.2 1797.7,980.6 1799.3,980.4 1800.5,980.9 1801.3,981.2 1802.5,981.4 1803.7,982.0M199.0,1115.0 198.8,1115.4 198.5,1115.6 198.2,1115.8 197.8,1116.0 197.2,1116.0 196.9,1115.5 197.1,1115.0 197.4,1114.7 197.5,1114.4 197.8,1114.0 198.3,1113.8 198.7,1114.1 198.9,1114.5 199.0,1115.0M734.0,1113.0 733.8,1113.4 733.5,1113.6 733.2,1113.9 732.7,1114.1 732.2,1114.0 732.0,1113.5 732.2,1113.0 732.4,1112.7 732.4,1112.3 732.8,1111.9 733.3,1111.9 733.7,1112.1 733.9,1112.5 734.0,1113.0M697.4,241.0 697.0,241.7 696.8,242.3 696.4,243.1 695.6,243.6 694.9,242.9 694.8,241.8 694.9,241.0 694.9,240.3 695.0,239.4 695.6,238.8 696.4,238.8 697.0,239.3 697.4,240.1 697.4,241.0M700.3,433.0 700.6,433.8 700.2,434.6 699.4,434.6 698.7,434.2 698.3,433.9 697.8,433.6 697.5,433.0 697.6,432.3 698.0,431.7 698.6,431.3 699.4,431.4 699.8,432.0 699.9,432.6 700.3,433.0M1076.8,172.0 1076.7,172.3 1076.6,172.8 1076.3,173.3 1075.7,173.2 1075.4,172.8 1075.3,172.3 1075.2,172.0 1075.1,171.6 1075.3,171.1 1075.8,170.9 1076.2,170.9 1076.7,171.1 1076.9,171.6 1076.8,172.0M1062.7,288.8 1075.2,285.5 1092.7,283.0 1112.7,283.0 1105.2,285.5 1090.2,288.0 1077.7,290.0"/>
<text x="959" y="67.9" font-size="50.1" text-anchor="middle">SAFIRE Severe Fire Danger Index Forecast (2025-10-15)</text>
<rect x="1983.5" y="91.8" width="464.4" height="411.4" rx="10.8" ry="10.8" fill="#fff" fill-opacity="0.8" stroke="#cccccc" stroke-opacity="0.8" stroke-width="4.17"/>
<rect x="2003" y="115.2" width="112" height="41.6" fill="#2c7bb6"/>
<text x="2156.4" y="156.2" font-size="54.17">Bajo</text>
<rect x="2003" y="194.1" width="112" height="41.6" fill="#abd9e9"/>
<text x="2156.4" y="235.1" font-size="54.17">Moderado</text>
<rect x="2003" y="273.0" width="112" height="41.6" fill="#ffffbf"/>
<text x="2156.4" y="314.1" font-size="54.17">Alto</text>
<rect x="2003" y="351.9" width="112" height="41.6" fill="#fdae61"/>
<text x="2156.4" y="393.0" font-size="54.17">Muy Alto</text>
<rect x="2003" y="430.8" width="112" height="41.6" fill="#a50026"/>
<text x="2156.4" y="471.9" font-size="54.17">Severo</text>
</svg>
</body></html>
